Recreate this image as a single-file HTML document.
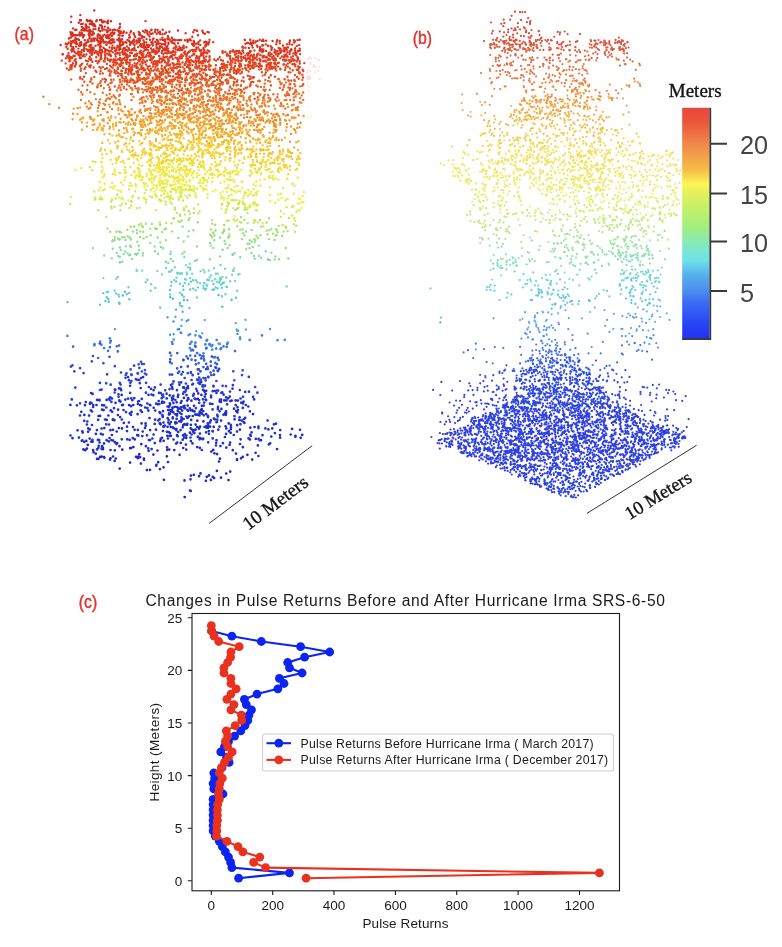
<!DOCTYPE html><html><head><meta charset="utf-8"><title>Figure</title><style>html,body{margin:0;padding:0;background:#fff}body{width:782px;height:947px;overflow:hidden;font-family:"Liberation Sans",sans-serif}</style></head><body><svg width="782" height="947" viewBox="0 0 782 947" style="display:block;will-change:transform"><rect width="782" height="947" fill="#fff"/><g fill="none" stroke-linecap="round"><path d="M307.9 70.3h0M319.8 79.1h0M307.5 72.7h0M306.7 76.7h0M310.2 71.1h0M318.8 66.8h0M310.1 57.4h0M315.2 72.1h0M315.4 58.0h0M310.4 62.6h0M307.8 58.7h0M308.8 76.7h0M318.1 70.6h0M310.2 63.9h0M318.6 59.3h0M307.2 78.7h0M309.5 78.9h0M309.8 58.4h0M310.1 76.6h0M317.9 70.6h0M313.2 66.6h0M310.5 78.5h0M311.2 58.6h0M314.0 65.0h0M310.1 78.7h0M315.1 67.1h0M318.9 60.4h0M308.1 79.4h0" stroke="#f8e0e0" stroke-width="2.2"/><path d="M306.2 117.1h0M307.4 85.3h0M311.7 116.0h0M307.6 90.5h0M310.2 117.6h0M307.4 81.9h0M307.8 107.3h0M307.5 118.4h0M308.6 90.9h0M309.0 86.9h0" stroke="#fff0e8" stroke-width="2.2"/></g><g fill="none" stroke-linecap="round"><path d="M71.3 16.6h0M71.0 22.1h0M76.4 29.7h0M78.8 22.8h0M80.4 20.3h0M82.9 28.1h0M89.0 27.4h0M85.8 29.0h0M82.7 23.8h0M95.2 26.2h0M90.4 20.4h0M89.7 21.3h0M96.2 21.3h0M101.3 25.5h0M103.6 21.5h0M110.2 29.8h0M102.1 21.8h0M104.8 21.6h0M75.9 39.3h0M75.2 29.9h0M73.2 35.2h0M77.9 35.1h0M76.2 35.1h0M94.0 33.4h0M92.7 32.3h0M89.7 33.7h0M92.9 32.2h0M106.3 37.5h0M108.3 31.2h0M107.0 32.1h0M107.6 35.0h0M119.7 35.5h0M126.5 32.7h0M160.0 33.0h0M164.7 33.7h0M162.6 29.7h0M81.2 42.7h0M155.3 42.0h0M175.5 40.2h0M194.5 30.0h0M198.0 35.3h0M197.1 31.0h0M204.8 33.7h0" stroke="#d82820" stroke-width="2.4"/><path d="M80.3 15.1h0M94.3 10.4h0M80.0 20.2h0M85.9 26.5h0M81.9 26.9h0M85.8 25.3h0M87.7 21.3h0M86.7 20.3h0M86.8 19.9h0M80.9 20.3h0M87.8 21.1h0M92.7 24.1h0M91.6 22.2h0M92.2 24.8h0M89.7 24.1h0M99.0 28.2h0M91.9 21.4h0M92.4 23.4h0M107.1 22.5h0M108.0 23.2h0M107.5 22.1h0M100.0 20.0h0M102.7 22.4h0M104.4 29.6h0M104.8 26.6h0M108.2 20.6h0M108.0 27.7h0M120.0 23.9h0M111.0 21.3h0M79.7 32.5h0M89.8 33.9h0M139.8 32.9h0M169.4 31.7h0M160.0 32.2h0M202.4 30.8h0" stroke="#d02820" stroke-width="2.4"/><path d="M73.0 28.4h0M85.9 24.5h0M81.0 24.1h0M86.8 27.8h0M86.0 25.8h0M84.5 28.6h0M87.1 26.6h0M88.9 20.6h0M95.5 29.1h0M93.5 29.1h0M93.6 25.7h0M96.9 20.3h0M93.9 23.9h0M90.8 23.6h0M98.7 30.2h0M94.6 24.8h0M102.5 28.5h0M101.4 19.9h0M100.0 25.3h0M102.1 28.3h0M108.2 28.4h0M101.9 26.3h0M114.0 29.7h0M119.3 28.2h0M120.1 26.7h0M145.5 21.1h0M155.3 29.6h0M68.9 38.5h0M72.2 35.9h0M72.4 34.1h0M73.5 34.6h0M75.0 35.3h0M69.7 38.2h0M71.5 34.7h0M75.6 38.0h0M72.3 32.6h0M79.4 34.4h0M74.5 35.4h0M74.8 39.7h0M75.6 39.7h0M71.0 34.4h0M70.5 32.3h0M78.0 39.2h0M71.3 37.3h0M79.1 40.0h0M88.5 31.4h0M84.3 35.2h0M83.1 37.4h0M79.9 35.6h0M83.2 36.3h0M85.1 30.4h0M90.0 30.8h0M82.5 30.1h0M81.1 34.2h0M89.4 38.4h0M89.4 35.7h0M87.1 30.6h0M84.2 30.5h0M89.6 36.4h0M88.8 30.4h0M88.8 34.5h0M89.5 32.5h0M81.1 35.3h0M81.4 30.2h0M81.8 33.0h0M82.8 35.0h0M81.6 33.4h0M97.5 35.5h0M91.7 34.7h0M98.4 34.3h0M94.9 38.5h0M97.0 40.1h0M93.3 38.5h0M90.3 31.1h0M92.4 31.4h0M90.6 38.6h0M92.8 34.6h0M92.5 39.9h0M100.0 35.5h0M91.8 35.1h0M89.8 32.5h0M90.1 29.9h0M97.7 36.7h0M97.3 39.0h0M100.1 31.3h0M106.5 30.2h0M108.6 38.2h0M108.5 35.9h0M100.0 31.1h0M108.6 35.6h0M106.4 36.3h0M99.7 38.2h0M100.4 37.5h0M102.4 30.5h0M110.0 34.9h0M106.9 37.8h0M106.2 36.5h0M102.4 37.6h0M102.9 35.7h0M102.5 36.8h0M107.0 36.9h0M104.6 34.6h0M101.0 39.2h0M118.4 40.0h0M111.9 39.7h0M111.9 35.9h0M119.8 31.1h0M118.4 35.1h0M112.2 39.2h0M114.9 30.0h0M114.5 32.9h0M111.2 33.3h0M118.6 31.0h0M119.3 32.8h0M113.6 33.9h0M113.5 34.2h0M112.6 30.2h0M112.3 32.5h0M113.7 39.8h0M119.1 38.3h0M117.3 30.2h0M120.2 39.5h0M123.3 32.9h0M127.5 40.0h0M122.9 35.6h0M123.9 31.5h0M129.3 35.0h0M122.0 39.3h0M121.2 31.7h0M120.7 33.3h0M122.4 35.7h0M129.1 37.6h0M133.7 33.3h0M130.4 32.6h0M135.0 36.4h0M138.8 32.0h0M133.9 34.4h0M139.8 38.7h0M130.0 37.2h0M139.2 34.7h0M133.9 39.5h0M138.5 38.8h0M130.9 31.3h0M135.2 36.9h0M147.8 34.5h0M145.5 30.1h0M149.5 36.5h0M142.9 31.1h0M147.1 30.9h0M140.4 35.3h0M142.1 36.1h0M146.5 39.1h0M144.7 32.2h0M139.9 35.0h0M142.4 36.8h0M149.5 32.1h0M144.2 36.9h0M141.8 38.1h0M158.4 32.1h0M155.0 31.7h0M156.8 39.8h0M151.3 33.9h0M150.3 33.9h0M157.5 40.3h0M159.6 33.2h0M157.6 30.0h0M156.7 33.7h0M151.5 29.7h0M152.7 33.4h0M159.9 31.9h0M153.5 38.4h0M160.0 34.1h0M168.3 37.8h0M160.4 39.5h0M162.4 37.6h0M162.6 39.9h0M166.2 32.5h0M167.7 39.4h0M164.7 39.8h0M162.4 34.3h0M164.9 39.5h0M167.9 36.1h0M178.0 30.5h0M171.8 37.7h0M185.6 33.2h0M190.1 39.1h0M60.7 45.0h0M67.2 44.4h0M67.6 48.7h0M68.6 42.8h0M65.7 43.7h0M72.3 41.3h0M79.1 45.8h0M72.2 48.3h0M70.8 44.7h0M72.8 41.0h0M71.7 50.0h0M73.6 48.9h0M74.5 42.5h0M70.8 46.0h0M76.3 42.0h0M71.9 42.4h0M76.1 46.6h0M71.7 43.0h0M70.8 43.9h0M70.7 41.4h0M77.1 44.0h0M75.7 43.5h0M84.0 49.1h0M79.9 45.5h0M80.9 44.9h0M84.8 40.3h0M89.3 46.3h0M88.4 41.4h0M84.0 48.7h0M88.5 41.6h0M81.0 42.3h0M80.1 45.7h0M87.7 40.1h0M86.1 45.5h0M86.3 42.9h0M94.3 40.7h0M90.3 45.0h0M93.4 47.7h0M91.4 49.2h0M99.5 41.9h0M99.2 41.5h0M98.0 40.9h0M93.5 49.0h0M100.2 46.4h0M103.5 47.8h0M104.4 41.6h0M108.4 42.4h0M106.5 50.1h0M103.0 39.7h0M100.1 41.3h0M105.1 49.2h0M101.1 42.1h0M99.7 43.5h0M100.8 43.5h0M104.0 42.5h0M99.8 46.5h0M106.5 44.4h0M109.7 41.2h0M111.6 43.0h0M117.3 39.8h0M114.6 47.6h0M114.5 42.1h0M110.1 43.3h0M112.5 45.6h0M114.3 48.1h0M119.7 47.6h0M119.3 46.4h0M120.1 44.7h0M117.4 45.7h0M113.0 41.9h0M119.4 41.2h0M110.0 40.8h0M111.2 40.0h0M127.0 46.4h0M120.4 46.0h0M120.4 48.9h0M120.9 40.1h0M128.7 48.3h0M126.4 42.7h0M120.8 40.7h0M123.1 44.2h0M119.9 42.4h0M120.0 44.1h0M124.3 47.9h0M128.8 40.7h0M119.7 41.8h0M121.7 44.9h0M122.7 42.0h0M136.4 40.6h0M133.5 44.0h0M132.5 49.3h0M139.1 42.2h0M134.6 45.3h0M136.6 43.4h0M133.2 41.3h0M137.6 41.5h0M134.4 47.9h0M134.6 49.1h0M132.2 41.7h0M131.4 42.3h0M139.9 40.8h0M134.3 41.8h0M136.5 40.8h0M147.1 45.0h0M141.2 46.1h0M145.8 47.6h0M144.2 42.1h0M147.9 47.1h0M148.7 46.9h0M143.0 46.4h0M140.7 44.1h0M146.4 42.4h0M144.2 44.5h0M146.9 49.6h0M144.9 50.0h0M140.8 45.8h0M145.1 46.5h0M148.5 45.2h0M157.1 43.4h0M152.5 42.1h0M158.2 43.9h0M156.4 44.7h0M159.9 43.4h0M152.8 45.5h0M151.0 48.5h0M152.4 44.2h0M157.4 42.7h0M152.3 42.9h0M158.5 49.3h0M158.0 41.2h0M149.9 39.8h0M159.8 46.7h0M151.2 42.2h0M166.1 48.0h0M168.1 48.6h0M161.8 47.0h0M164.3 49.1h0M165.6 42.5h0M164.9 40.3h0M164.7 41.2h0M159.8 48.6h0M163.7 44.1h0M166.5 46.4h0M160.0 46.2h0M163.2 50.1h0M165.1 44.8h0M167.3 46.3h0M163.3 48.8h0M161.9 44.3h0M168.5 42.8h0M168.5 44.0h0M178.1 43.2h0M178.0 40.1h0M172.9 39.8h0M178.1 49.3h0M176.3 47.1h0M172.4 42.9h0M174.2 43.1h0M179.6 40.3h0M174.4 39.8h0M172.0 41.3h0M169.9 39.8h0M180.6 48.9h0M181.1 39.9h0M187.5 41.7h0M180.2 47.9h0M187.4 40.6h0M186.4 47.2h0M188.4 40.5h0M183.6 45.8h0M183.6 46.5h0M183.8 48.0h0M68.5 53.2h0M68.5 56.1h0M73.4 50.6h0M79.6 52.2h0M74.6 51.9h0M77.9 52.2h0M72.4 50.1h0M89.9 52.4h0M80.1 52.4h0M90.1 50.3h0M92.4 51.8h0M91.2 49.7h0M90.5 50.6h0M92.6 51.9h0M91.8 50.4h0M106.0 49.7h0M104.9 55.1h0M101.8 49.9h0M108.8 51.3h0M109.6 53.8h0M110.3 55.2h0M115.3 50.4h0M119.1 50.1h0M127.2 54.6h0M122.3 52.0h0M124.4 50.4h0M125.2 57.5h0M127.6 57.8h0M129.9 55.8h0M123.7 54.5h0M139.9 51.9h0M139.5 57.9h0M140.3 53.3h0M147.0 49.7h0M152.3 51.5h0M158.6 51.1h0M153.4 57.4h0M158.9 51.0h0M167.3 52.7h0M163.7 50.1h0M172.2 52.3h0M187.6 53.2h0M184.2 52.7h0M76.2 62.8h0M126.1 60.5h0M150.1 60.0h0M164.5 60.6h0M196.8 30.6h0M192.3 36.7h0M193.3 32.3h0M207.5 32.0h0M203.1 32.7h0M209.5 39.7h0M208.8 32.4h0M193.7 41.0h0M193.0 45.2h0M192.8 44.4h0M198.4 43.7h0M198.5 42.0h0M194.1 41.8h0M196.4 43.6h0M190.8 40.4h0M194.1 43.4h0M204.2 42.4h0M205.7 41.9h0M209.1 42.2h0M205.4 45.3h0M200.2 40.4h0M203.7 49.4h0M206.6 42.1h0M206.3 42.7h0M204.4 42.2h0M207.3 43.4h0M206.6 43.9h0M205.3 46.5h0M213.2 42.1h0M248.9 48.0h0M247.3 42.9h0M243.4 47.8h0M250.1 43.7h0M250.2 39.8h0M245.5 43.8h0M247.9 43.0h0M244.9 40.1h0M244.7 39.7h0M257.5 46.8h0M251.9 45.4h0M251.8 43.0h0M253.3 40.7h0M257.5 40.9h0M250.7 42.4h0M252.7 47.6h0M257.1 45.6h0M253.2 43.1h0M263.0 39.8h0M261.9 40.9h0M263.6 41.0h0M262.9 45.3h0M263.3 49.4h0M268.1 45.7h0M260.1 47.1h0M276.8 41.7h0M277.2 40.1h0M272.6 40.9h0M272.0 47.8h0M274.7 49.6h0M289.9 40.8h0M288.0 47.4h0M280.2 49.6h0M289.8 40.6h0M287.2 47.4h0M289.5 44.3h0M289.5 42.6h0M291.3 49.2h0M299.7 39.7h0M294.1 40.3h0M297.5 40.1h0M294.9 41.2h0M292.2 44.6h0M299.1 45.1h0M196.7 55.9h0M194.2 54.2h0M192.2 49.9h0M208.8 50.9h0M201.2 50.3h0M201.5 52.9h0M205.2 52.4h0M236.6 50.9h0M232.3 51.4h0M235.1 51.6h0M241.0 53.8h0M249.0 53.1h0M243.4 57.1h0M242.9 50.6h0M259.6 50.2h0M252.9 57.5h0M255.7 58.2h0M263.4 51.0h0M260.9 49.8h0M278.6 54.0h0M271.5 49.8h0M283.6 51.1h0M284.7 54.7h0M287.5 52.3h0M283.8 59.7h0M280.4 52.9h0M295.3 54.2h0M296.4 53.0h0M289.7 54.1h0M298.1 51.0h0M295.2 52.2h0M297.9 58.2h0M255.2 62.7h0" stroke="#d83020" stroke-width="2.4"/><path d="M93.0 33.5h0M101.9 37.5h0M109.7 37.7h0M112.7 39.6h0M147.2 33.0h0M152.8 39.8h0M151.2 30.2h0M167.5 38.4h0M80.2 45.1h0M78.4 48.6h0M73.2 46.9h0M79.8 43.0h0M80.3 43.6h0M84.2 48.4h0M83.6 45.0h0M88.2 49.9h0M85.2 43.8h0M84.2 46.7h0M92.2 47.8h0M98.0 44.6h0M90.8 41.1h0M90.1 46.4h0M90.6 47.5h0M98.3 41.8h0M99.8 49.4h0M91.5 48.1h0M93.1 40.1h0M91.6 41.4h0M95.6 45.8h0M108.2 42.5h0M105.9 41.9h0M109.6 47.5h0M99.8 45.5h0M119.1 48.0h0M116.5 49.9h0M112.2 47.6h0M129.9 45.0h0M125.4 42.0h0M124.9 48.1h0M138.1 47.1h0M130.0 41.9h0M138.6 41.3h0M131.4 43.2h0M131.7 50.0h0M130.1 43.9h0M141.6 46.6h0M142.6 43.9h0M156.5 48.4h0M156.5 46.7h0M153.5 49.5h0M165.4 48.8h0M166.8 48.6h0M165.1 50.0h0M176.0 46.9h0M179.4 46.7h0M173.6 48.4h0M175.7 40.1h0M187.3 39.8h0M67.0 56.1h0M70.6 58.2h0M79.1 55.2h0M73.5 55.7h0M78.9 54.9h0M87.7 50.8h0M89.1 51.2h0M86.4 54.5h0M91.5 54.9h0M94.8 52.7h0M97.4 52.8h0M98.3 53.3h0M101.4 53.6h0M105.2 51.0h0M107.2 53.7h0M116.9 52.6h0M115.2 54.3h0M119.8 52.7h0M111.0 51.1h0M115.7 56.6h0M124.7 53.0h0M125.9 49.8h0M123.3 53.4h0M125.6 53.8h0M135.2 55.2h0M137.0 53.8h0M131.5 53.1h0M131.4 52.8h0M141.8 55.0h0M143.5 51.5h0M149.9 54.4h0M142.9 56.1h0M155.7 50.9h0M155.4 53.8h0M155.1 52.1h0M153.8 56.7h0M153.8 50.6h0M168.8 51.1h0M163.4 54.1h0M162.3 58.7h0M166.1 50.2h0M170.3 57.1h0M177.8 50.2h0M173.0 51.1h0M171.2 55.7h0M171.5 56.8h0M170.9 52.8h0M185.0 51.4h0M186.7 55.2h0M98.5 61.0h0M92.4 61.7h0M116.9 62.9h0M142.7 63.2h0M168.9 60.2h0M173.4 63.8h0M173.7 65.3h0M176.0 64.6h0M188.2 66.0h0M194.3 50.2h0M194.8 43.8h0M194.4 50.1h0M206.0 45.5h0M203.4 48.0h0M208.4 42.9h0M208.3 44.5h0M242.4 46.8h0M255.8 41.5h0M265.8 44.4h0M261.1 49.1h0M262.2 45.4h0M276.3 44.2h0M270.7 46.3h0M279.8 43.3h0M279.7 40.9h0M278.7 47.9h0M280.5 48.8h0M286.0 48.3h0M291.1 50.2h0M296.7 45.9h0M299.8 48.6h0M295.1 50.2h0M196.6 58.0h0M195.8 51.1h0M193.9 54.5h0M204.7 59.2h0M207.3 53.2h0M202.5 54.3h0M203.9 57.8h0M227.1 54.6h0M230.2 51.4h0M233.3 50.2h0M236.6 53.5h0M248.1 54.0h0M242.4 50.7h0M247.0 53.6h0M248.3 53.3h0M253.9 54.8h0M254.9 58.2h0M250.2 51.0h0M259.3 58.6h0M260.5 51.0h0M262.9 56.8h0M267.0 57.3h0M262.7 50.1h0M262.9 51.6h0M279.5 50.5h0M275.3 52.6h0M271.7 54.1h0M277.3 51.1h0M284.0 57.1h0M286.8 49.7h0M284.3 50.0h0M297.5 57.1h0M298.8 51.0h0M297.9 59.5h0M299.9 50.6h0M283.2 59.8h0M291.2 61.3h0" stroke="#d83820" stroke-width="2.4"/><path d="M109.9 34.6h0M66.3 46.8h0M75.5 40.4h0M87.4 41.9h0M89.7 50.0h0M84.4 44.3h0M106.3 44.7h0M102.3 41.3h0M100.7 46.5h0M104.0 42.2h0M117.6 47.1h0M112.0 49.0h0M113.2 42.2h0M118.6 47.1h0M123.6 48.4h0M129.4 49.7h0M123.6 43.1h0M133.8 50.1h0M144.0 47.6h0M140.1 45.5h0M149.7 45.2h0M141.9 47.0h0M143.5 40.3h0M157.9 48.3h0M152.5 43.7h0M157.9 43.4h0M158.1 41.5h0M165.3 47.9h0M175.9 46.4h0M170.8 41.6h0M179.6 50.1h0M174.7 44.1h0M182.4 49.9h0M183.0 47.4h0M184.9 40.3h0M181.2 48.2h0M68.0 55.7h0M62.5 54.2h0M68.5 58.3h0M68.9 55.8h0M71.8 57.7h0M71.3 50.2h0M76.0 53.4h0M78.0 54.2h0M71.8 51.6h0M83.9 51.0h0M89.8 56.8h0M80.2 58.0h0M82.9 56.0h0M81.8 50.1h0M89.6 58.9h0M92.5 54.1h0M90.3 59.2h0M90.7 52.8h0M100.1 49.9h0M95.8 51.2h0M97.5 54.0h0M102.5 51.7h0M102.1 51.6h0M100.8 52.4h0M100.7 57.1h0M105.2 57.1h0M101.0 54.9h0M101.4 58.5h0M117.9 53.3h0M109.9 51.2h0M118.3 59.1h0M115.4 59.5h0M119.8 55.1h0M130.2 52.8h0M120.4 58.9h0M127.5 50.9h0M125.9 55.0h0M122.8 53.8h0M135.7 55.0h0M134.4 56.3h0M140.1 58.5h0M139.2 57.0h0M135.1 55.1h0M148.0 53.0h0M146.6 55.3h0M150.3 55.8h0M140.8 50.8h0M143.4 54.5h0M140.2 59.6h0M143.8 57.3h0M153.4 52.3h0M152.2 50.1h0M158.2 51.4h0M157.2 52.5h0M159.2 55.9h0M156.1 52.0h0M152.6 57.9h0M151.6 58.7h0M162.1 51.0h0M167.3 50.1h0M161.8 52.9h0M165.7 57.3h0M160.2 58.8h0M168.1 51.9h0M177.5 58.5h0M174.1 51.8h0M172.9 59.1h0M177.8 58.5h0M170.3 52.7h0M171.8 57.1h0M173.1 54.7h0M173.5 51.5h0M187.3 60.1h0M184.9 54.3h0M186.5 56.4h0M189.6 56.6h0M181.2 50.0h0M189.5 51.5h0M181.7 58.4h0M61.8 60.6h0M74.4 60.6h0M98.9 61.5h0M116.2 60.5h0M110.2 61.5h0M113.4 59.8h0M116.4 63.5h0M114.0 60.3h0M118.9 64.5h0M129.6 63.3h0M123.5 67.9h0M130.2 60.3h0M136.6 67.9h0M138.9 60.3h0M146.0 64.5h0M154.9 61.1h0M167.2 63.9h0M169.5 65.3h0M179.1 64.4h0M188.9 61.2h0M196.4 47.5h0M199.3 49.5h0M192.0 43.7h0M200.2 44.9h0M205.7 41.7h0M255.2 42.6h0M259.8 39.8h0M260.0 48.6h0M266.1 40.7h0M271.5 48.1h0M279.9 49.1h0M284.7 48.3h0M282.9 45.5h0M294.2 42.5h0M193.0 51.0h0M194.1 50.1h0M199.0 57.1h0M197.4 57.7h0M200.1 51.0h0M199.5 56.6h0M194.2 53.6h0M189.9 57.3h0M203.8 52.2h0M207.5 50.4h0M203.1 54.4h0M209.7 59.8h0M206.3 56.5h0M201.0 55.6h0M205.9 52.6h0M209.3 51.5h0M202.0 53.2h0M222.6 51.1h0M225.3 51.9h0M219.7 57.2h0M222.5 51.9h0M228.4 55.5h0M238.1 58.1h0M240.1 52.4h0M239.1 52.8h0M236.5 56.9h0M230.2 56.2h0M239.0 50.9h0M230.1 58.5h0M241.3 56.7h0M244.0 58.2h0M249.5 57.8h0M245.4 58.0h0M241.2 57.8h0M249.8 52.2h0M255.3 57.9h0M249.8 59.2h0M257.3 54.9h0M253.3 57.3h0M250.5 55.7h0M254.4 50.5h0M253.0 56.1h0M260.3 55.3h0M262.9 57.5h0M266.0 50.9h0M269.9 55.9h0M265.5 57.5h0M272.4 58.4h0M273.6 55.9h0M272.2 57.2h0M277.1 53.4h0M277.7 56.0h0M274.3 52.2h0M280.8 52.1h0M284.7 51.4h0M287.6 56.8h0M287.0 56.2h0M289.2 60.2h0M282.1 56.4h0M283.4 60.1h0M296.3 55.4h0M293.1 59.1h0M292.9 56.2h0M298.3 50.9h0M291.2 50.1h0M293.3 53.4h0M300.1 54.1h0M195.8 64.0h0M196.3 62.1h0M190.3 62.9h0M199.7 62.2h0M203.7 60.8h0M205.4 61.5h0M200.6 62.0h0M220.2 67.9h0M227.8 62.0h0M230.9 69.1h0M233.5 68.3h0M238.8 61.3h0M239.5 70.1h0M249.5 62.1h0M246.2 59.8h0M258.8 63.6h0M255.1 63.0h0M252.8 62.4h0M260.6 60.0h0M266.6 65.0h0M260.2 61.0h0M275.0 62.4h0M299.7 67.3h0M299.8 63.5h0M294.1 64.0h0" stroke="#e03820" stroke-width="2.4"/><path d="M86.5 49.3h0M93.7 49.8h0M100.3 47.5h0M91.2 45.0h0M100.2 45.3h0M116.5 48.3h0M127.8 50.1h0M122.5 49.7h0M133.9 49.1h0M143.9 47.8h0M176.2 46.7h0M174.6 47.8h0M175.8 49.4h0M70.0 57.2h0M63.0 54.2h0M69.2 58.3h0M65.9 58.3h0M72.4 57.7h0M74.8 55.9h0M71.6 57.1h0M80.3 53.7h0M78.0 51.4h0M70.1 60.2h0M79.7 57.8h0M75.6 58.9h0M83.9 54.5h0M81.0 54.8h0M81.5 52.2h0M79.8 57.3h0M89.5 58.6h0M81.2 52.0h0M91.2 58.9h0M98.6 53.2h0M98.5 55.3h0M99.4 52.0h0M97.2 51.8h0M96.2 57.2h0M104.8 58.9h0M107.3 58.4h0M107.7 50.3h0M100.8 58.9h0M105.0 52.7h0M101.2 56.0h0M113.9 59.7h0M114.3 60.1h0M118.2 59.4h0M119.9 59.6h0M116.4 53.6h0M120.0 57.9h0M111.0 56.0h0M115.4 51.3h0M112.8 52.3h0M110.6 55.5h0M123.4 58.8h0M124.9 52.7h0M122.1 59.9h0M126.9 56.2h0M127.2 59.4h0M129.0 56.1h0M135.0 54.4h0M131.7 52.9h0M135.9 50.6h0M139.5 53.1h0M134.2 59.4h0M133.4 59.7h0M136.9 55.3h0M133.9 55.7h0M135.8 59.0h0M138.4 60.2h0M136.4 56.1h0M150.2 56.4h0M141.4 57.8h0M148.4 56.2h0M148.2 50.4h0M143.1 57.3h0M149.3 55.9h0M149.1 55.9h0M148.8 53.0h0M149.9 55.0h0M142.0 53.0h0M153.5 51.7h0M151.0 58.5h0M156.7 53.3h0M150.7 52.6h0M150.9 55.7h0M165.0 52.8h0M166.9 56.7h0M163.4 56.4h0M169.4 57.5h0M167.0 53.4h0M159.7 58.5h0M169.4 57.6h0M163.9 57.6h0M168.5 52.7h0M179.6 57.0h0M174.2 55.1h0M177.1 58.2h0M180.0 56.5h0M175.5 52.3h0M175.2 54.4h0M180.2 57.7h0M187.9 58.6h0M186.5 58.7h0M185.5 53.6h0M188.5 52.2h0M186.4 58.4h0M187.2 59.3h0M182.9 55.9h0M181.4 54.4h0M190.0 50.7h0M181.7 57.4h0M179.7 58.6h0M69.3 61.4h0M70.3 66.9h0M74.8 66.6h0M72.9 63.3h0M71.7 66.9h0M75.9 64.1h0M75.3 65.7h0M75.5 60.9h0M70.7 65.3h0M72.4 64.9h0M80.9 65.1h0M85.9 60.6h0M90.2 67.3h0M80.8 68.5h0M87.9 61.2h0M82.2 63.6h0M97.6 63.3h0M90.2 66.1h0M90.8 65.5h0M99.5 66.9h0M95.9 60.9h0M107.0 68.3h0M109.8 59.8h0M108.2 60.1h0M104.7 61.4h0M113.5 64.7h0M120.2 60.2h0M111.2 66.8h0M110.1 65.6h0M117.8 67.5h0M113.4 65.5h0M113.6 62.3h0M111.1 59.8h0M121.5 60.4h0M122.9 63.0h0M129.2 62.6h0M121.4 62.5h0M127.2 62.0h0M126.6 61.8h0M128.3 69.0h0M123.2 67.6h0M126.6 64.0h0M120.3 64.1h0M120.2 66.3h0M137.4 63.2h0M130.7 68.3h0M136.7 66.1h0M137.8 67.9h0M129.8 64.7h0M130.7 60.0h0M131.6 69.7h0M135.0 66.4h0M139.3 60.8h0M136.5 64.0h0M149.7 66.3h0M142.1 62.4h0M147.7 66.5h0M147.7 68.4h0M141.9 69.1h0M148.9 70.2h0M146.9 60.7h0M143.3 69.4h0M145.1 62.2h0M159.0 61.0h0M157.0 61.3h0M157.5 62.6h0M151.6 62.5h0M155.1 64.0h0M156.6 65.5h0M157.3 63.9h0M153.8 64.0h0M159.5 62.4h0M156.2 63.7h0M155.5 63.0h0M166.9 63.1h0M166.4 65.5h0M164.7 67.3h0M162.0 61.2h0M168.3 62.2h0M161.5 68.4h0M166.9 63.6h0M165.2 62.2h0M163.7 59.9h0M172.6 63.1h0M174.2 68.1h0M170.2 64.4h0M173.6 67.3h0M171.7 70.0h0M177.2 63.6h0M170.5 67.7h0M177.7 60.0h0M177.9 61.0h0M178.4 60.8h0M170.6 67.7h0M176.9 67.2h0M180.3 67.0h0M182.6 62.5h0M188.8 62.4h0M185.4 63.7h0M184.6 64.9h0M188.2 61.8h0M185.4 64.0h0M185.7 63.1h0M180.3 64.3h0M188.8 60.5h0M188.2 65.0h0M186.8 66.9h0M84.1 76.7h0M95.5 70.7h0M109.7 75.3h0M109.6 70.7h0M100.6 71.2h0M109.5 70.0h0M114.6 70.1h0M115.8 73.4h0M121.3 70.7h0M129.0 70.9h0M130.1 70.1h0M128.3 73.3h0M131.3 73.3h0M138.1 74.8h0M136.4 71.8h0M138.0 70.7h0M138.2 76.0h0M132.9 79.9h0M144.0 70.6h0M145.3 69.7h0M153.4 70.8h0M156.8 70.5h0M157.4 77.6h0M162.6 71.4h0M160.8 72.5h0M161.9 79.3h0M167.7 72.6h0M177.6 73.3h0M178.9 75.3h0M173.3 70.4h0M178.6 71.3h0M179.0 71.1h0M185.9 73.9h0M184.8 71.1h0M183.3 71.7h0M137.8 81.3h0M150.7 82.0h0M194.8 49.9h0M196.5 48.9h0M194.1 50.2h0M198.2 47.4h0M194.1 45.8h0M204.4 50.1h0M242.9 47.4h0M245.5 47.7h0M284.1 47.7h0M286.9 44.2h0M295.1 48.2h0M191.9 55.6h0M196.0 57.9h0M198.4 58.2h0M197.4 57.6h0M193.5 53.8h0M199.0 59.7h0M193.1 50.3h0M199.2 58.6h0M197.1 58.1h0M206.0 60.1h0M209.6 56.2h0M204.2 52.3h0M209.5 57.4h0M203.3 55.8h0M200.9 54.1h0M217.9 59.3h0M214.2 59.5h0M226.9 55.5h0M222.8 52.7h0M238.4 55.9h0M234.3 52.3h0M238.2 60.1h0M230.6 60.1h0M234.3 59.6h0M235.1 54.7h0M235.6 57.4h0M229.9 53.1h0M238.0 51.1h0M232.8 58.7h0M241.4 54.0h0M240.6 53.2h0M240.8 57.2h0M248.1 58.1h0M248.5 54.6h0M247.6 59.1h0M247.8 55.6h0M243.5 52.6h0M245.3 55.6h0M250.8 51.2h0M256.8 56.5h0M251.4 55.3h0M252.6 59.9h0M257.0 54.5h0M258.4 53.7h0M262.0 52.1h0M264.6 56.2h0M268.4 54.9h0M267.5 60.1h0M268.6 53.3h0M270.1 59.6h0M270.3 55.4h0M262.5 55.6h0M269.9 54.1h0M280.3 58.2h0M275.2 60.1h0M275.6 58.7h0M275.8 51.3h0M276.0 54.2h0M275.9 60.1h0M284.4 60.2h0M281.7 50.8h0M286.3 54.5h0M284.6 55.5h0M284.3 56.6h0M286.4 59.6h0M285.3 56.4h0M289.7 52.3h0M292.5 59.5h0M290.9 57.4h0M289.8 50.7h0M193.3 70.2h0M195.2 67.8h0M195.7 60.5h0M191.0 60.2h0M197.3 67.5h0M197.4 68.5h0M192.6 61.3h0M192.5 65.1h0M199.3 65.8h0M189.7 70.1h0M198.1 61.0h0M196.7 61.1h0M193.8 61.9h0M202.5 62.3h0M206.4 66.3h0M203.7 69.6h0M202.5 65.8h0M208.1 61.7h0M202.3 61.3h0M210.7 65.7h0M216.1 60.6h0M215.9 65.3h0M213.3 69.7h0M222.2 68.0h0M222.0 67.2h0M226.8 65.0h0M229.7 64.4h0M224.7 65.3h0M223.0 60.8h0M221.5 64.4h0M223.4 65.0h0M221.1 59.9h0M221.9 63.6h0M220.1 69.9h0M239.4 63.6h0M238.1 60.5h0M234.1 68.0h0M234.8 62.4h0M239.0 65.8h0M230.8 62.5h0M239.5 67.4h0M236.0 60.2h0M232.2 61.2h0M235.1 65.9h0M230.4 63.8h0M240.8 64.5h0M250.1 59.8h0M246.2 60.7h0M249.0 62.1h0M240.5 63.8h0M250.0 63.5h0M245.2 65.4h0M240.7 65.8h0M241.0 60.8h0M250.0 62.5h0M247.9 65.2h0M252.2 65.7h0M251.6 65.9h0M257.3 59.9h0M254.7 66.4h0M255.0 63.5h0M252.3 60.5h0M258.8 66.9h0M253.3 64.4h0M253.6 68.0h0M252.4 60.0h0M259.4 64.7h0M261.8 66.3h0M260.4 65.6h0M265.8 61.6h0M263.2 61.3h0M266.7 66.6h0M264.9 60.6h0M270.1 65.4h0M269.3 64.9h0M277.9 62.9h0M270.2 67.2h0M276.3 64.8h0M271.6 67.1h0M275.1 67.2h0M274.9 63.8h0M273.4 60.1h0M280.3 69.3h0M278.8 62.7h0M278.2 66.6h0M272.5 68.5h0M274.1 63.5h0M270.5 69.0h0M275.5 69.0h0M270.4 63.5h0M272.1 66.8h0M285.2 60.8h0M287.8 63.6h0M283.8 64.2h0M288.0 66.6h0M280.5 69.2h0M286.4 60.4h0M298.2 66.4h0M296.8 61.6h0M293.2 60.5h0M295.3 64.8h0M294.3 60.3h0M299.6 61.2h0M296.6 61.2h0M292.5 64.2h0M304.3 63.1h0M192.8 74.5h0M203.4 72.7h0M205.7 69.9h0M199.9 71.4h0M212.8 76.9h0M219.8 73.3h0M214.5 73.9h0M218.1 76.6h0M210.0 69.8h0M223.4 70.7h0M236.0 70.9h0M233.0 77.6h0M236.1 71.6h0M236.3 73.7h0M238.6 71.4h0M243.4 77.5h0M249.9 76.4h0M267.6 70.5h0M298.9 72.4h0M299.6 73.6h0M303.3 71.1h0M198.1 83.0h0M303.3 84.2h0" stroke="#e04020" stroke-width="2.4"/><path d="M68.3 57.0h0M89.7 59.3h0M90.2 52.1h0M89.3 58.6h0M81.2 57.7h0M84.8 56.4h0M90.9 60.1h0M108.9 54.9h0M105.3 55.4h0M121.0 58.9h0M145.9 56.8h0M151.9 59.8h0M167.9 59.1h0M161.6 58.6h0M175.5 57.8h0M181.7 55.5h0M66.8 68.5h0M65.7 63.4h0M71.6 69.1h0M84.4 68.9h0M85.5 67.3h0M89.9 65.7h0M79.9 66.0h0M87.2 64.2h0M89.1 66.3h0M100.9 68.2h0M103.7 61.2h0M105.0 69.0h0M113.2 62.0h0M115.8 63.2h0M115.0 62.5h0M117.9 68.9h0M120.2 64.8h0M129.5 65.9h0M125.9 70.2h0M120.4 64.8h0M126.1 68.9h0M121.7 65.4h0M129.0 66.5h0M126.0 62.4h0M124.6 59.8h0M131.2 67.8h0M135.9 65.6h0M132.6 65.2h0M135.0 65.6h0M131.6 67.5h0M139.5 61.4h0M132.3 70.1h0M134.6 63.1h0M142.2 61.9h0M141.4 68.8h0M141.4 66.9h0M143.5 68.0h0M141.3 67.5h0M142.2 68.1h0M157.5 65.0h0M155.0 69.4h0M155.6 63.5h0M153.1 64.1h0M150.9 68.6h0M153.1 66.5h0M157.6 68.7h0M166.0 70.2h0M167.6 63.7h0M168.5 69.2h0M168.4 61.0h0M161.3 62.4h0M168.2 65.2h0M164.8 68.2h0M161.8 65.7h0M178.8 61.8h0M174.1 64.7h0M178.4 66.8h0M177.5 64.0h0M175.6 67.9h0M190.3 68.4h0M188.8 65.6h0M185.1 64.2h0M188.9 68.2h0M189.4 65.6h0M184.4 69.0h0M186.0 61.6h0M80.3 77.1h0M91.3 79.4h0M96.5 72.1h0M102.8 73.4h0M104.8 78.9h0M106.0 80.0h0M114.5 72.3h0M118.0 72.9h0M116.6 71.1h0M121.4 75.4h0M121.8 74.0h0M121.9 71.0h0M119.9 79.7h0M125.8 72.2h0M122.3 76.1h0M134.1 74.0h0M130.6 72.3h0M131.2 71.8h0M137.6 78.5h0M131.8 74.6h0M143.9 78.0h0M146.6 78.6h0M146.1 74.5h0M146.2 79.2h0M150.2 71.7h0M155.6 78.8h0M159.9 73.5h0M156.7 76.4h0M159.9 77.2h0M168.1 73.4h0M167.5 71.5h0M163.0 70.3h0M163.1 74.3h0M163.0 71.3h0M165.6 76.8h0M166.4 72.5h0M168.5 75.7h0M173.0 76.5h0M180.0 76.4h0M173.9 79.7h0M179.3 71.1h0M175.8 74.0h0M175.0 79.2h0M177.2 77.2h0M170.4 76.1h0M178.4 72.6h0M188.2 73.5h0M188.6 73.1h0M186.4 73.3h0M180.0 77.9h0M180.0 75.0h0M190.2 70.5h0M97.4 87.3h0M90.2 81.6h0M110.5 83.1h0M124.7 81.2h0M127.6 80.1h0M130.5 80.3h0M137.8 79.8h0M159.9 81.4h0M162.6 79.8h0M185.2 80.0h0M226.9 53.7h0M241.8 59.9h0M254.0 55.6h0M253.4 60.0h0M268.5 59.9h0M269.0 58.7h0M269.8 52.4h0M275.8 59.6h0M274.6 58.1h0M270.0 55.4h0M272.4 58.3h0M284.1 59.9h0M294.3 60.2h0M290.4 60.1h0M197.6 67.1h0M199.1 63.0h0M198.9 66.4h0M196.5 65.9h0M189.9 64.9h0M203.5 63.1h0M199.9 68.6h0M209.2 64.5h0M209.1 61.0h0M205.0 65.6h0M206.3 66.8h0M199.9 68.6h0M201.5 63.4h0M206.5 66.5h0M205.3 68.7h0M209.1 66.7h0M215.4 68.6h0M229.9 70.0h0M227.2 67.4h0M230.2 70.3h0M225.6 70.0h0M223.1 67.6h0M224.9 68.1h0M223.9 63.8h0M225.8 69.9h0M226.5 66.0h0M223.7 66.5h0M234.9 70.1h0M231.3 65.0h0M238.8 69.8h0M231.2 67.3h0M235.4 63.0h0M237.6 69.3h0M245.2 68.0h0M248.5 67.0h0M246.4 70.0h0M247.8 64.7h0M250.3 66.0h0M241.1 66.2h0M246.3 68.8h0M249.2 65.7h0M252.1 66.6h0M252.4 68.1h0M255.5 63.5h0M260.2 66.5h0M252.1 67.8h0M256.9 65.9h0M256.5 65.8h0M259.7 63.4h0M269.5 67.8h0M260.1 64.5h0M269.3 65.5h0M268.3 63.3h0M261.2 68.9h0M269.8 66.2h0M267.2 64.6h0M274.2 67.3h0M274.8 66.7h0M270.4 62.6h0M270.6 64.9h0M271.1 63.0h0M275.5 67.7h0M285.0 69.8h0M288.8 60.4h0M283.6 64.7h0M285.6 67.5h0M298.8 68.0h0M292.8 70.2h0M294.4 64.6h0M302.7 69.8h0M196.6 74.2h0M190.6 70.9h0M196.1 76.7h0M196.2 76.3h0M201.9 76.6h0M200.5 74.9h0M205.6 74.2h0M206.1 75.6h0M201.8 70.1h0M210.2 76.7h0M214.7 72.0h0M215.9 72.0h0M217.1 71.5h0M217.2 79.8h0M214.6 70.7h0M219.1 72.1h0M216.0 75.6h0M219.8 75.1h0M221.6 77.6h0M223.3 75.2h0M227.4 74.5h0M222.1 74.8h0M226.7 74.9h0M234.1 72.7h0M234.7 78.9h0M237.8 72.6h0M236.8 71.5h0M233.5 70.6h0M248.6 71.5h0M249.4 79.2h0M241.5 73.1h0M242.0 71.8h0M247.8 75.8h0M250.6 78.7h0M254.0 77.3h0M264.8 74.8h0M265.9 72.5h0M269.0 77.5h0M274.9 76.8h0M284.6 79.3h0M297.1 77.0h0M296.8 69.8h0M298.4 70.0h0M303.1 77.5h0M302.3 74.7h0M194.5 85.4h0M191.0 83.5h0M206.6 82.9h0M219.4 87.8h0M222.8 82.5h0M221.6 82.3h0M227.8 81.8h0M236.9 81.8h0M236.6 85.2h0M243.8 81.5h0M250.5 85.1h0M253.3 81.9h0M251.2 82.0h0M270.9 85.4h0M290.2 83.9h0M291.3 80.6h0M282.7 89.8h0" stroke="#e04820" stroke-width="2.4"/><path d="M100.3 59.5h0M70.0 69.3h0M93.7 67.5h0M102.8 67.0h0M106.9 63.9h0M132.4 67.2h0M140.1 64.5h0M142.9 60.0h0M153.4 62.0h0M172.3 68.5h0M176.6 68.3h0M179.8 70.2h0M80.8 70.7h0M82.4 79.3h0M80.1 78.6h0M85.9 73.1h0M120.9 74.7h0M125.7 77.0h0M120.0 73.9h0M125.2 72.8h0M126.0 78.0h0M128.3 74.6h0M139.3 77.7h0M130.9 80.0h0M138.0 72.4h0M144.9 79.3h0M139.7 74.9h0M148.3 74.1h0M146.3 72.8h0M147.1 74.4h0M142.1 79.1h0M159.7 74.5h0M159.5 79.2h0M155.0 73.6h0M158.5 76.9h0M155.6 74.4h0M157.6 76.5h0M152.7 77.8h0M156.6 78.2h0M161.2 75.2h0M161.7 73.0h0M169.9 72.5h0M176.9 74.1h0M178.7 78.1h0M180.9 72.1h0M186.4 77.4h0M182.1 78.9h0M187.2 74.5h0M114.8 86.5h0M126.0 81.0h0M121.8 84.5h0M127.3 82.2h0M129.6 82.0h0M126.5 89.4h0M135.0 86.3h0M130.5 80.9h0M144.5 84.0h0M150.2 87.7h0M149.1 88.1h0M146.3 83.6h0M157.6 87.7h0M159.9 86.5h0M151.6 80.8h0M168.1 82.4h0M172.2 80.0h0M170.7 80.9h0M171.0 80.4h0M172.2 81.5h0M177.5 80.5h0M187.5 88.8h0M189.7 84.0h0M138.0 92.2h0M177.9 93.6h0M170.4 91.4h0M201.8 68.8h0M225.4 65.9h0M232.1 62.6h0M250.0 68.9h0M242.5 68.9h0M269.5 68.9h0M266.5 68.3h0M265.5 69.6h0M290.0 62.6h0M286.2 65.3h0M290.0 68.5h0M295.3 66.4h0M191.6 71.2h0M196.9 75.8h0M193.6 75.1h0M199.7 78.6h0M205.8 79.0h0M207.2 75.0h0M205.1 70.2h0M205.2 69.8h0M210.1 78.6h0M211.1 77.7h0M214.1 77.0h0M228.3 74.8h0M219.8 79.9h0M222.6 75.1h0M230.6 75.5h0M231.7 77.2h0M239.8 70.1h0M230.1 77.8h0M252.2 77.1h0M252.9 77.7h0M261.9 72.2h0M270.9 75.2h0M278.4 79.1h0M288.6 72.3h0M287.5 76.8h0M295.0 75.1h0M196.2 83.8h0M196.8 80.4h0M192.7 82.6h0M206.8 82.2h0M202.6 85.2h0M211.9 85.1h0M215.9 85.8h0M213.5 84.9h0M214.7 81.1h0M227.0 83.2h0M225.5 80.2h0M228.2 83.3h0M237.4 80.1h0M233.5 85.2h0M233.9 82.0h0M245.7 87.7h0M241.7 80.7h0M250.5 84.1h0M268.3 80.9h0M289.7 84.4h0M227.7 93.8h0M240.5 90.0h0M254.7 98.8h0M257.7 97.2h0M270.4 99.1h0" stroke="#e05020" stroke-width="2.4"/><path d="M68.9 70.0h0M112.7 68.1h0M139.8 69.4h0M144.3 60.8h0M155.5 67.0h0M151.2 70.3h0M158.0 69.3h0M167.1 64.5h0M182.8 67.2h0M100.1 73.8h0M94.3 76.9h0M102.6 79.2h0M110.4 75.6h0M118.1 76.0h0M122.1 77.7h0M137.3 73.4h0M143.4 78.7h0M141.7 72.6h0M149.8 75.1h0M155.9 75.8h0M166.5 78.0h0M163.4 79.7h0M175.5 77.7h0M173.4 71.7h0M178.7 76.8h0M179.2 77.6h0M179.7 76.4h0M181.9 78.6h0M84.3 81.8h0M82.5 85.6h0M100.8 81.3h0M110.2 89.4h0M100.9 85.7h0M105.1 81.9h0M109.7 90.1h0M111.1 79.8h0M127.2 84.4h0M120.2 82.2h0M135.5 82.8h0M137.6 80.0h0M136.6 81.9h0M133.4 80.7h0M133.6 82.9h0M147.2 82.4h0M142.9 83.4h0M142.6 82.3h0M154.0 89.4h0M151.6 84.3h0M156.0 87.1h0M152.9 80.4h0M153.5 81.2h0M160.7 89.6h0M168.7 81.1h0M169.9 83.6h0M170.5 82.1h0M178.9 89.9h0M181.2 81.7h0M146.9 91.4h0M141.8 97.8h0M151.8 89.9h0M162.2 90.7h0M179.3 91.1h0M186.1 92.8h0M182.5 93.6h0M190.3 64.3h0M208.9 69.3h0M231.2 65.1h0M259.3 69.6h0M269.3 67.8h0M191.6 76.7h0M193.3 79.3h0M193.6 79.7h0M198.9 73.7h0M191.1 77.0h0M194.3 74.2h0M205.2 78.4h0M202.9 78.2h0M202.2 76.4h0M200.9 74.7h0M227.0 79.5h0M229.9 71.9h0M220.4 71.9h0M225.2 70.1h0M229.3 74.4h0M231.4 77.7h0M294.4 80.0h0M290.5 72.4h0M299.8 72.5h0M194.2 83.0h0M200.4 82.3h0M205.0 79.9h0M212.4 83.0h0M213.4 84.6h0M213.3 81.6h0M226.0 80.5h0M221.2 83.7h0M228.2 80.7h0M220.1 80.7h0M249.9 86.2h0M240.9 85.7h0M244.0 89.1h0M241.1 90.3h0M257.8 86.5h0M259.3 80.6h0M259.9 81.1h0M289.0 80.7h0M289.8 89.8h0M290.1 88.0h0M294.4 84.1h0M302.3 85.7h0M216.1 97.6h0M234.8 92.6h0M264.9 90.7h0" stroke="#e85820" stroke-width="2.4"/><path d="M115.7 65.3h0M142.0 65.7h0M71.2 79.4h0M110.2 73.2h0M123.2 78.6h0M140.0 80.3h0M138.0 78.9h0M148.6 78.1h0M146.7 78.3h0M140.1 78.4h0M156.9 79.3h0M150.1 73.1h0M159.1 71.2h0M169.9 79.9h0M165.3 72.8h0M186.9 80.0h0M182.0 78.1h0M190.3 78.2h0M97.4 86.4h0M108.1 84.7h0M118.5 88.0h0M119.1 85.4h0M130.2 82.1h0M138.5 88.3h0M148.7 84.3h0M149.5 83.2h0M151.9 82.5h0M152.6 87.9h0M168.1 82.7h0M176.5 84.7h0M176.7 88.6h0M172.1 84.4h0M178.9 82.0h0M179.5 84.6h0M179.8 86.6h0M185.4 82.2h0M188.2 89.7h0M180.1 84.4h0M186.9 79.8h0M181.8 90.3h0M189.9 83.1h0M82.4 94.5h0M114.7 96.8h0M159.0 95.9h0M151.3 93.3h0M167.3 99.9h0M160.6 90.2h0M179.9 90.2h0M161.6 104.8h0M179.2 103.4h0M195.0 67.1h0M280.3 68.7h0M196.9 74.2h0M193.7 76.5h0M190.0 71.1h0M201.0 78.9h0M202.6 78.5h0M218.4 77.8h0M220.7 75.4h0M223.9 74.1h0M240.1 73.6h0M276.3 70.5h0M196.6 89.1h0M196.1 83.9h0M201.0 83.2h0M209.0 80.2h0M208.9 86.4h0M206.0 84.9h0M215.2 88.0h0M219.0 88.2h0M228.1 82.7h0M231.9 88.7h0M230.2 86.5h0M234.1 83.3h0M241.0 85.2h0M247.2 87.4h0M256.3 85.4h0M260.9 86.9h0M264.8 83.6h0M288.3 87.5h0M295.2 86.1h0M295.7 90.0h0M294.7 81.0h0M194.3 90.3h0M194.9 94.2h0M189.8 93.4h0M208.2 90.2h0M215.8 96.0h0M218.4 94.3h0M229.1 90.4h0M236.3 90.6h0M234.4 94.5h0M244.4 92.7h0M268.5 97.8h0M263.2 97.9h0M263.7 96.8h0M277.4 97.3h0M286.9 93.6h0M289.2 95.3h0M293.8 100.2h0M294.2 93.6h0M190.8 102.5h0M242.7 104.9h0M287.6 115.1h0" stroke="#e86028" stroke-width="2.4"/><path d="M132.1 67.7h0M148.1 89.4h0M145.3 80.8h0M165.7 82.1h0M185.0 86.1h0M184.8 85.1h0M153.3 94.9h0M201.7 79.6h0M218.4 76.9h0M298.7 78.7h0M200.2 87.4h0M234.6 82.4h0M281.6 83.4h0M195.5 91.1h0M220.9 98.4h0" stroke="#e86020" stroke-width="2.4"/><path d="M162.5 69.3h0M111.4 71.5h0M180.3 74.4h0M284.3 85.3h0M288.0 94.9h0" stroke="#e05820" stroke-width="2.4"/><path d="M91.3 78.2h0M108.5 71.0h0M148.1 76.9h0M154.2 80.1h0M185.6 78.3h0M87.5 85.2h0M87.1 90.0h0M92.5 83.5h0M100.2 82.9h0M109.3 87.2h0M113.7 79.8h0M111.9 82.3h0M123.9 86.8h0M129.3 86.1h0M120.7 90.0h0M120.8 90.0h0M135.6 88.4h0M134.2 80.9h0M137.4 88.7h0M149.0 81.6h0M146.6 89.6h0M142.1 89.1h0M155.4 89.6h0M157.3 90.2h0M163.6 85.2h0M163.7 87.8h0M162.0 83.8h0M174.6 87.2h0M179.6 85.6h0M178.8 80.9h0M171.9 86.7h0M173.5 81.0h0M182.0 88.5h0M78.5 89.7h0M81.2 92.2h0M109.9 98.9h0M116.9 90.5h0M119.8 94.7h0M131.6 99.9h0M137.8 91.1h0M131.1 94.0h0M144.8 89.9h0M146.5 96.4h0M152.6 90.4h0M149.8 91.5h0M152.1 92.5h0M166.4 92.3h0M168.1 93.0h0M170.8 94.5h0M173.9 90.7h0M171.5 91.5h0M184.7 99.8h0M183.7 93.4h0M105.8 100.8h0M142.2 102.4h0M145.2 101.6h0M156.9 101.2h0M180.1 100.1h0M180.9 101.4h0M163.3 112.5h0M216.1 72.5h0M262.6 75.6h0M278.8 79.0h0M288.2 80.2h0M302.3 79.9h0M200.0 82.5h0M191.7 80.9h0M206.9 81.3h0M200.8 88.2h0M207.7 80.2h0M208.0 85.2h0M217.0 89.0h0M219.9 83.7h0M218.2 84.1h0M211.6 83.6h0M220.0 88.6h0M227.1 81.3h0M222.7 84.2h0M230.0 87.6h0M220.1 85.5h0M221.5 89.5h0M238.6 89.2h0M265.3 80.0h0M270.2 81.6h0M279.9 87.9h0M280.7 84.2h0M283.7 87.2h0M279.9 81.7h0M197.8 99.5h0M199.5 89.8h0M195.0 98.6h0M199.6 94.0h0M202.5 98.1h0M201.9 92.4h0M201.7 96.4h0M207.9 95.3h0M204.9 91.2h0M219.5 99.6h0M215.6 92.5h0M219.1 92.9h0M209.8 97.0h0M223.7 95.3h0M225.2 92.1h0M225.4 98.6h0M226.9 99.3h0M232.7 93.9h0M230.0 93.8h0M234.6 90.0h0M237.7 99.6h0M236.3 90.3h0M242.1 91.5h0M250.0 100.1h0M254.4 93.0h0M259.8 95.3h0M269.6 89.9h0M263.5 98.0h0M273.4 94.3h0M285.0 95.2h0M287.9 93.7h0M295.6 96.5h0M295.0 92.0h0M303.1 92.5h0M213.5 100.5h0M222.8 109.8h0M269.6 100.8h0M281.0 103.3h0M297.8 107.1h0M293.6 104.6h0M295.9 108.2h0" stroke="#e86828" stroke-width="2.4"/><path d="M125.0 79.1h0M136.8 77.6h0M131.1 78.5h0M90.4 81.9h0M98.2 84.5h0M103.8 88.3h0M120.4 87.4h0M123.9 88.1h0M122.5 81.3h0M131.7 88.3h0M130.8 88.0h0M146.2 86.6h0M144.4 90.1h0M152.7 89.3h0M152.3 82.4h0M150.9 84.9h0M164.4 87.4h0M162.1 88.8h0M161.7 89.3h0M165.9 86.7h0M181.6 82.1h0M186.0 89.3h0M189.8 84.9h0M109.7 94.0h0M102.8 92.8h0M132.5 90.1h0M143.5 97.2h0M154.1 94.8h0M152.4 90.3h0M157.1 92.5h0M151.3 97.0h0M165.9 90.8h0M161.4 92.1h0M173.8 94.8h0M170.1 100.1h0M172.9 90.4h0M177.7 97.9h0M190.0 90.9h0M187.5 91.1h0M188.8 93.1h0M181.5 97.6h0M91.8 104.6h0M112.0 109.1h0M120.2 104.3h0M145.6 101.2h0M142.4 102.6h0M164.3 102.9h0M173.2 103.8h0M172.5 103.6h0M183.5 110.1h0M139.5 111.4h0M195.1 79.8h0M190.2 84.5h0M195.1 88.7h0M198.0 87.9h0M202.0 89.4h0M201.2 86.8h0M209.8 85.2h0M217.1 89.5h0M237.8 84.9h0M258.1 80.9h0M265.6 89.8h0M264.2 86.7h0M198.1 94.8h0M192.0 96.5h0M200.2 93.3h0M197.7 95.2h0M209.0 90.2h0M201.0 92.3h0M220.0 98.2h0M219.5 90.4h0M214.5 91.0h0M219.9 95.6h0M226.5 99.7h0M223.3 96.1h0M237.4 94.1h0M240.1 95.9h0M235.2 97.7h0M232.1 97.0h0M258.1 93.1h0M253.6 93.2h0M258.3 100.0h0M263.5 89.7h0M268.2 94.9h0M264.7 94.8h0M275.5 99.5h0M286.0 95.7h0M293.3 94.1h0M300.2 98.1h0M301.7 95.4h0M192.4 100.1h0M206.7 105.0h0M207.9 100.9h0M200.3 107.0h0M210.9 100.8h0M218.4 102.4h0M220.8 103.6h0M230.7 100.4h0M255.4 110.1h0M251.5 109.3h0M261.8 106.3h0M263.1 100.5h0M290.2 100.0h0M285.3 108.6h0M299.8 102.3h0M303.2 99.9h0M238.1 110.0h0M263.1 120.6h0" stroke="#e87028" stroke-width="2.4"/><path d="M139.1 89.4h0M43.3 96.8h0M81.0 99.9h0M95.9 99.1h0M94.5 94.0h0M106.7 98.8h0M108.7 98.3h0M115.9 98.2h0M119.2 99.9h0M131.9 94.0h0M157.2 100.2h0M158.2 90.7h0M161.7 97.2h0M165.4 97.4h0M166.5 97.0h0M166.2 99.3h0M173.5 97.3h0M174.8 97.3h0M179.6 96.3h0M171.1 90.8h0M184.1 98.4h0M88.6 108.7h0M86.9 106.6h0M103.0 109.0h0M113.5 102.1h0M112.9 103.2h0M125.0 106.8h0M144.7 100.7h0M139.8 103.3h0M158.6 109.5h0M157.8 102.3h0M152.9 101.4h0M167.1 110.0h0M168.7 107.4h0M163.3 109.7h0M175.0 103.6h0M176.5 104.8h0M178.4 101.4h0M178.2 101.3h0M184.3 103.8h0M187.2 101.6h0M180.3 105.3h0M100.7 114.9h0M150.2 116.9h0M151.3 113.6h0M158.2 111.4h0M161.8 110.6h0M171.4 110.4h0M171.8 116.8h0M184.8 117.4h0M200.4 99.5h0M216.0 92.1h0M217.9 93.2h0M225.3 92.8h0M223.9 98.8h0M223.1 99.5h0M243.7 99.7h0M243.6 97.4h0M277.7 94.2h0M284.5 100.1h0M286.3 100.0h0M299.0 93.7h0M197.0 105.5h0M198.5 101.1h0M196.8 100.4h0M206.9 109.9h0M218.4 107.2h0M216.4 102.0h0M227.3 109.3h0M229.2 100.5h0M237.8 101.8h0M238.7 104.1h0M240.3 107.5h0M246.8 100.7h0M254.7 108.4h0M257.2 103.6h0M262.3 103.2h0M281.6 104.6h0M297.0 108.3h0M198.7 111.1h0M192.4 114.0h0M195.0 112.2h0M205.7 112.2h0M218.9 111.3h0M226.9 111.6h0M226.6 112.9h0M227.8 115.3h0M228.6 117.1h0M238.2 109.9h0M230.2 113.1h0M244.0 117.8h0M247.2 111.5h0M247.4 110.9h0M249.1 111.2h0M256.0 112.3h0M252.8 110.3h0M266.9 112.5h0M276.4 114.2h0M283.3 114.3h0M287.9 114.6h0M287.6 114.9h0M239.9 122.7h0M274.3 123.3h0" stroke="#e88028" stroke-width="2.4"/><path d="M148.6 87.3h0M160.0 88.5h0M161.6 81.2h0M163.8 86.6h0M90.3 92.2h0M100.2 99.4h0M106.6 95.1h0M119.2 95.7h0M111.6 97.0h0M113.6 95.3h0M139.9 99.2h0M149.7 95.8h0M142.9 92.4h0M159.6 100.0h0M150.7 96.3h0M151.7 99.5h0M153.8 97.3h0M166.7 95.7h0M160.0 97.4h0M166.7 92.5h0M169.6 99.0h0M164.6 91.8h0M175.3 97.9h0M172.4 96.8h0M184.2 93.3h0M183.3 92.3h0M182.4 94.7h0M186.1 99.2h0M189.8 93.2h0M98.9 105.5h0M98.9 102.0h0M105.2 104.8h0M103.5 103.6h0M147.8 108.9h0M145.1 109.6h0M144.2 106.1h0M155.9 107.3h0M164.7 101.8h0M161.5 100.5h0M166.0 106.9h0M161.6 100.9h0M172.6 103.2h0M171.7 100.3h0M179.5 100.6h0M181.0 99.9h0M181.6 106.2h0M183.3 103.9h0M181.2 101.6h0M179.8 108.2h0M145.7 109.8h0M176.4 111.3h0M191.1 87.6h0M208.4 80.6h0M207.0 86.3h0M244.5 88.7h0M286.1 82.4h0M292.4 88.4h0M300.2 86.4h0M194.6 90.4h0M198.7 98.3h0M190.9 92.1h0M194.5 99.8h0M210.3 91.2h0M207.5 95.8h0M203.0 96.8h0M207.6 94.3h0M213.5 98.0h0M213.1 97.8h0M218.6 91.2h0M227.3 97.1h0M220.1 99.9h0M225.7 97.3h0M235.3 94.8h0M236.6 91.3h0M236.6 91.5h0M233.4 98.7h0M240.9 93.0h0M241.1 96.2h0M249.1 99.1h0M249.3 97.1h0M260.3 94.2h0M253.9 94.2h0M287.3 92.0h0M293.8 97.4h0M296.5 91.7h0M190.0 108.6h0M191.5 102.8h0M193.7 106.5h0M205.9 105.1h0M202.0 102.1h0M208.1 103.9h0M220.1 108.9h0M213.1 105.4h0M215.9 99.9h0M213.2 101.4h0M220.7 100.3h0M229.2 108.7h0M222.4 100.0h0M222.7 108.5h0M233.7 107.0h0M241.0 109.7h0M247.6 105.5h0M240.2 102.0h0M246.5 103.4h0M256.7 101.8h0M264.8 105.1h0M276.8 101.1h0M283.4 106.2h0M280.7 106.0h0M192.6 113.2h0M243.2 109.9h0M247.1 117.1h0M258.5 115.1h0M256.4 115.1h0M264.0 110.4h0M277.1 113.8h0M276.2 120.3h0" stroke="#e87828" stroke-width="2.4"/><path d="M133.5 96.7h0M160.3 96.2h0M188.8 95.8h0M49.3 104.1h0M59.1 107.7h0M77.7 108.3h0M90.8 103.2h0M90.0 108.1h0M104.1 109.0h0M150.3 109.7h0M150.4 108.1h0M164.2 103.4h0M167.5 109.8h0M179.5 104.3h0M170.7 109.0h0M184.4 108.1h0M107.4 112.0h0M127.3 117.4h0M129.4 112.0h0M134.9 112.5h0M131.4 119.1h0M141.0 112.7h0M159.0 115.2h0M162.3 111.3h0M180.1 114.3h0M169.7 110.7h0M181.8 115.2h0M217.5 83.6h0M193.7 91.1h0M203.0 98.7h0M229.8 98.4h0M250.4 96.3h0M269.7 97.9h0M296.5 94.4h0M199.3 99.8h0M194.0 109.3h0M191.3 100.2h0M195.8 107.4h0M190.3 100.6h0M204.0 101.9h0M206.6 106.9h0M200.7 103.9h0M217.3 104.9h0M217.5 106.3h0M221.3 103.9h0M222.6 100.2h0M251.5 104.5h0M264.3 99.7h0M264.5 102.8h0M292.0 105.2h0M301.5 102.8h0M200.3 111.8h0M203.1 117.0h0M207.3 114.9h0M219.0 118.3h0M215.4 110.3h0M213.5 114.4h0M223.4 115.6h0M229.8 115.7h0M228.4 115.7h0M237.6 118.3h0M234.2 118.4h0M241.1 115.1h0M247.3 113.7h0M260.0 114.4h0M274.5 120.1h0M278.5 115.6h0M271.3 113.6h0M289.6 120.2h0M292.4 117.3h0M298.6 115.2h0M209.5 121.2h0M239.6 124.4h0M243.6 125.5h0M266.9 121.0h0M262.1 120.1h0M280.2 120.3h0" stroke="#f08828" stroke-width="2.4"/><path d="M147.8 98.6h0M182.5 97.6h0M181.8 99.9h0M89.0 101.2h0M98.0 108.0h0M90.4 107.6h0M99.8 103.0h0M117.3 104.3h0M118.4 108.1h0M119.6 101.8h0M131.6 109.3h0M141.9 99.9h0M154.0 106.3h0M167.0 103.9h0M165.8 99.8h0M169.5 104.0h0M161.2 103.6h0M173.8 103.5h0M172.5 107.5h0M183.4 107.5h0M185.8 104.5h0M73.1 113.7h0M107.4 112.4h0M109.7 120.3h0M111.1 116.5h0M124.6 114.7h0M126.4 115.3h0M136.9 115.6h0M135.9 119.9h0M149.8 117.0h0M148.8 116.8h0M143.5 116.1h0M145.1 111.0h0M148.6 116.8h0M157.6 112.6h0M160.6 116.6h0M167.6 117.3h0M166.7 110.7h0M162.1 113.9h0M172.1 113.9h0M175.0 114.9h0M177.1 113.6h0M185.9 112.1h0M182.8 114.0h0M182.0 114.5h0M94.4 124.2h0M140.1 121.5h0M162.1 120.7h0M199.3 88.9h0M207.7 94.7h0M216.3 97.6h0M242.8 95.8h0M199.5 107.0h0M202.9 104.0h0M203.5 108.1h0M202.7 105.8h0M204.6 109.8h0M218.3 104.4h0M214.5 104.6h0M221.4 107.5h0M220.6 106.6h0M236.6 108.2h0M243.8 108.4h0M259.6 107.1h0M250.7 107.4h0M268.6 106.3h0M264.5 100.3h0M275.1 108.7h0M274.0 105.6h0M288.0 107.1h0M287.3 104.1h0M295.9 110.0h0M196.8 116.0h0M209.0 110.4h0M205.6 115.5h0M202.9 111.7h0M204.1 110.4h0M210.0 112.1h0M213.7 114.6h0M210.6 120.0h0M210.8 112.1h0M210.8 115.8h0M219.1 117.9h0M214.3 113.8h0M216.6 117.0h0M236.1 113.5h0M236.1 119.2h0M230.8 112.8h0M232.0 110.0h0M235.0 114.7h0M247.3 111.3h0M254.5 119.4h0M259.2 120.1h0M264.9 113.8h0M268.0 112.4h0M262.7 118.5h0M262.2 117.4h0M274.1 114.4h0M277.9 115.3h0M274.8 117.2h0M280.1 118.9h0M297.9 110.0h0M303.6 115.9h0M204.2 124.3h0M220.3 121.3h0M221.8 120.2h0M235.7 122.9h0M229.7 119.8h0M256.9 126.9h0M258.3 125.2h0M257.7 124.5h0M270.2 121.0h0M262.0 119.8h0M260.5 120.3h0M275.9 126.8h0M274.8 124.9h0M274.1 124.2h0M299.5 127.2h0M248.9 135.2h0M291.1 134.0h0" stroke="#f09028" stroke-width="2.4"/><path d="M80.2 107.4h0M145.0 109.2h0M72.6 119.3h0M97.8 115.8h0M115.4 117.5h0M121.7 111.1h0M128.8 114.4h0M136.9 117.6h0M132.2 114.6h0M137.8 115.9h0M140.1 111.2h0M145.9 118.4h0M156.3 116.6h0M155.5 113.5h0M164.5 115.0h0M169.3 117.2h0M161.4 116.3h0M175.5 120.2h0M171.0 117.0h0M183.4 119.0h0M188.9 115.9h0M81.9 122.2h0M92.6 124.9h0M101.7 127.9h0M103.7 121.0h0M116.2 122.8h0M115.9 125.8h0M113.0 124.1h0M128.3 122.6h0M127.9 124.8h0M120.8 122.5h0M133.6 124.3h0M133.2 128.7h0M141.4 126.7h0M142.0 129.9h0M143.0 126.9h0M155.7 127.7h0M157.4 122.5h0M158.8 121.9h0M164.6 128.0h0M169.8 122.7h0M162.0 129.8h0M165.0 120.0h0M175.6 126.1h0M175.1 121.3h0M172.0 128.9h0M188.6 119.9h0M182.0 128.0h0M186.5 127.0h0M181.3 125.5h0M188.6 128.9h0M180.2 122.3h0M109.6 133.9h0M116.7 135.6h0M127.4 131.9h0M140.9 130.1h0M147.3 129.9h0M150.8 130.4h0M157.3 132.6h0M155.0 131.7h0M162.1 130.9h0M176.6 134.0h0M198.5 119.9h0M207.0 119.3h0M204.6 118.0h0M215.4 120.1h0M214.9 119.3h0M223.3 115.5h0M229.3 116.8h0M224.3 115.0h0M199.5 130.2h0M193.6 122.8h0M204.5 121.9h0M203.6 122.5h0M200.0 129.5h0M200.7 122.5h0M203.0 122.3h0M202.4 126.4h0M212.3 127.4h0M215.5 124.3h0M215.4 127.9h0M221.7 128.7h0M222.1 129.8h0M222.4 122.9h0M226.6 119.7h0M220.2 128.4h0M240.0 127.4h0M232.6 127.9h0M229.7 120.9h0M231.7 125.8h0M233.0 122.0h0M241.5 122.1h0M244.5 125.5h0M253.4 122.2h0M250.6 122.7h0M264.3 126.9h0M269.2 120.8h0M276.3 124.6h0M274.9 130.0h0M192.9 134.7h0M198.9 131.2h0M199.7 133.8h0M202.3 133.3h0M205.8 135.3h0M204.3 137.9h0M217.8 136.2h0M220.1 137.1h0M213.9 137.2h0M229.3 136.3h0M224.7 132.2h0M228.2 136.0h0M221.5 136.1h0M231.2 140.0h0M233.2 133.6h0M237.1 133.8h0M245.6 138.3h0M253.2 138.5h0M258.0 132.1h0M261.2 130.2h0M273.4 132.8h0M276.8 130.1h0M286.1 130.6h0M223.8 141.9h0" stroke="#f0a830" stroke-width="2.4"/><path d="M73.7 108.6h0M109.9 107.1h0M121.2 109.8h0M183.8 107.0h0M77.4 114.0h0M97.7 111.3h0M90.6 117.9h0M90.9 118.9h0M108.3 117.7h0M118.9 114.0h0M120.6 118.7h0M123.3 111.4h0M150.4 118.5h0M151.3 115.9h0M152.2 117.7h0M152.3 118.4h0M153.3 117.8h0M165.1 119.6h0M172.8 119.6h0M178.3 114.7h0M177.1 115.8h0M177.3 118.2h0M170.9 113.1h0M178.9 117.3h0M189.3 118.0h0M185.0 114.1h0M183.5 117.7h0M98.1 127.5h0M103.9 126.0h0M107.8 123.2h0M109.9 126.8h0M123.7 122.1h0M123.8 128.2h0M132.0 119.7h0M135.1 122.8h0M142.4 126.5h0M141.1 124.8h0M156.6 120.8h0M158.5 125.2h0M150.0 123.3h0M150.4 120.5h0M151.4 122.8h0M161.2 127.1h0M161.9 123.4h0M167.5 126.7h0M173.7 125.8h0M177.9 122.8h0M178.8 128.0h0M186.6 123.6h0M118.9 130.5h0M126.7 129.9h0M138.1 132.9h0M141.3 135.2h0M169.7 132.4h0M186.8 131.5h0M193.4 109.0h0M212.4 106.0h0M229.0 103.1h0M240.1 105.6h0M279.2 100.3h0M293.0 109.8h0M194.0 117.3h0M194.4 117.3h0M192.7 113.5h0M204.0 116.3h0M205.7 119.4h0M203.2 117.1h0M223.8 113.3h0M236.5 120.1h0M231.7 116.8h0M244.3 114.6h0M255.5 119.6h0M294.0 117.8h0M193.4 121.7h0M199.6 123.6h0M190.3 121.1h0M209.0 121.3h0M209.2 128.5h0M199.9 125.4h0M218.0 128.9h0M215.7 122.8h0M210.8 127.2h0M214.6 125.9h0M212.9 126.1h0M211.0 124.1h0M209.9 124.2h0M226.1 129.5h0M223.9 123.9h0M220.9 126.0h0M222.1 124.2h0M228.5 123.0h0M239.8 129.3h0M233.9 127.9h0M231.5 122.6h0M232.7 120.8h0M246.3 125.4h0M249.6 130.0h0M239.7 123.8h0M243.3 126.6h0M250.8 125.6h0M252.9 123.6h0M286.7 127.2h0M280.1 124.7h0M297.2 127.9h0M205.2 131.1h0M200.1 139.7h0M213.9 130.3h0M225.2 133.5h0M230.5 131.9h0M237.4 134.8h0M238.9 132.7h0M247.2 133.8h0M259.3 129.7h0M269.7 132.6h0M260.3 130.6h0M262.7 135.2h0M278.7 140.0h0M272.5 137.3h0M274.4 129.7h0M281.9 139.9h0M206.8 141.4h0M290.0 141.7h0" stroke="#f0a030" stroke-width="2.4"/><path d="M85.4 103.3h0M157.6 107.2h0M160.3 103.3h0M151.7 103.0h0M188.0 105.2h0M90.2 117.0h0M140.4 109.8h0M160.2 120.2h0M186.7 111.7h0M199.9 92.2h0M209.1 100.0h0M225.3 98.0h0M249.7 97.5h0M258.5 99.4h0M194.1 105.8h0M207.3 107.6h0M217.0 104.7h0M211.5 105.4h0M227.7 104.8h0M228.7 103.7h0M229.6 103.0h0M223.4 110.0h0M234.2 106.1h0M238.8 109.2h0M236.7 107.0h0M242.9 109.2h0M250.2 100.9h0M265.5 106.2h0M267.8 101.8h0M280.3 105.7h0M212.8 111.5h0M230.3 113.2h0M236.4 116.1h0M272.9 115.4h0M291.6 110.4h0M225.7 121.1h0M249.0 120.7h0M280.3 122.9h0M272.9 121.6h0M286.9 124.1h0M300.6 122.7h0" stroke="#e88828" stroke-width="2.4"/><path d="M109.2 104.7h0M169.2 108.2h0M178.8 103.8h0M94.2 119.6h0M103.6 119.5h0M111.0 117.6h0M118.3 110.1h0M128.3 111.0h0M143.5 119.8h0M159.2 112.4h0M155.6 114.1h0M164.2 111.5h0M163.3 110.8h0M166.8 114.3h0M179.7 110.1h0M189.7 115.7h0M102.4 119.9h0M132.7 120.6h0M147.5 120.0h0M145.0 124.7h0M141.8 121.5h0M169.5 125.6h0M209.2 109.0h0M237.4 106.6h0M196.8 118.9h0M191.7 118.3h0M209.0 116.0h0M226.3 111.2h0M234.7 114.4h0M232.1 116.5h0M257.4 117.5h0M250.6 117.3h0M259.8 117.8h0M264.7 112.3h0M263.1 111.7h0M279.2 116.5h0M292.3 117.9h0M295.6 117.6h0M191.2 130.0h0M197.5 119.9h0M211.3 125.5h0M216.0 128.5h0M235.5 120.0h0M254.1 130.0h0M265.5 122.5h0M262.5 129.1h0M269.7 122.7h0M285.8 120.8h0M192.5 130.0h0M256.5 130.0h0M258.2 130.6h0" stroke="#f09828" stroke-width="2.4"/><path d="M116.0 104.3h0M164.9 109.7h0M177.3 109.3h0M190.0 110.2h0M189.7 108.8h0M83.1 117.7h0M129.6 114.7h0M131.2 114.7h0M140.0 111.9h0M147.3 109.7h0M150.0 113.0h0M139.8 111.8h0M155.5 109.9h0M154.8 113.8h0M169.5 116.1h0M160.6 113.2h0M168.7 116.6h0M177.4 113.4h0M183.7 115.1h0M187.9 117.2h0M188.0 115.2h0M86.9 126.4h0M93.3 120.9h0M130.7 124.6h0M135.1 124.9h0M133.5 123.3h0M144.0 122.2h0M142.1 124.4h0M149.9 129.1h0M160.2 124.4h0M170.7 122.6h0M174.3 126.8h0M184.7 125.4h0M182.4 122.9h0M199.2 106.0h0M202.9 104.9h0M215.6 107.5h0M242.9 109.6h0M247.4 105.7h0M259.5 106.1h0M260.3 106.7h0M200.2 117.8h0M190.8 119.1h0M189.9 119.7h0M189.8 114.2h0M196.1 110.3h0M199.0 117.7h0M200.3 113.4h0M203.6 111.6h0M213.5 118.4h0M210.9 114.1h0M224.6 113.6h0M225.4 112.6h0M228.5 116.0h0M229.8 118.6h0M229.7 119.2h0M250.0 117.6h0M257.0 111.1h0M268.4 119.7h0M272.1 118.3h0M285.1 119.9h0M285.7 115.6h0M196.8 122.0h0M197.5 126.2h0M197.2 122.4h0M196.6 125.5h0M219.4 123.4h0M219.1 126.1h0M229.1 122.7h0M222.7 129.4h0M229.3 120.3h0M235.8 129.4h0M248.6 123.2h0M253.9 125.5h0M251.7 122.0h0M255.8 120.9h0M274.1 126.2h0M291.1 126.5h0M297.8 123.9h0M293.9 129.1h0M217.0 135.1h0M217.6 133.8h0M222.3 136.8h0M222.1 131.3h0M239.4 133.6h0M232.8 131.5h0M232.5 130.9h0M260.5 132.7h0M275.6 131.7h0M295.1 130.1h0M295.7 132.5h0" stroke="#f09830" stroke-width="2.4"/><path d="M79.9 119.8h0M81.4 118.8h0M129.3 116.2h0M140.8 119.6h0M185.1 113.7h0M87.1 122.6h0M99.9 125.3h0M96.8 129.9h0M93.0 130.0h0M109.5 128.7h0M99.8 123.6h0M113.1 126.5h0M116.1 125.1h0M139.8 123.6h0M135.3 123.2h0M139.8 123.5h0M148.1 124.5h0M141.1 126.2h0M145.5 126.2h0M159.6 130.0h0M157.0 125.3h0M167.6 128.5h0M167.7 127.6h0M175.1 128.0h0M172.4 128.5h0M179.8 121.7h0M171.6 125.8h0M185.7 125.4h0M180.6 124.9h0M188.1 127.4h0M82.1 129.8h0M101.9 130.1h0M104.4 134.3h0M124.4 133.1h0M133.9 135.0h0M140.0 133.8h0M170.8 134.7h0M174.2 133.7h0M178.0 134.7h0M188.7 132.9h0M183.7 129.8h0M182.1 132.4h0M180.0 130.8h0M133.1 140.9h0M150.0 141.5h0M156.0 140.9h0M170.2 140.0h0M207.3 119.4h0M267.5 115.5h0M191.2 122.2h0M194.1 129.0h0M198.4 128.4h0M206.1 124.1h0M201.2 127.9h0M204.3 121.3h0M205.6 127.9h0M217.9 120.9h0M217.3 128.1h0M219.2 125.2h0M227.0 123.6h0M239.0 122.5h0M246.1 129.8h0M197.3 138.8h0M193.5 137.0h0M201.8 134.9h0M202.3 137.6h0M203.4 130.6h0M213.3 133.7h0M217.6 131.7h0M215.7 132.7h0M212.7 130.2h0M229.1 134.6h0M221.9 131.9h0M224.6 133.9h0M235.3 135.0h0M229.8 135.7h0M231.1 137.5h0M248.0 132.1h0M242.1 132.9h0M242.6 131.7h0M250.5 136.4h0M263.8 136.8h0M263.6 136.4h0M276.5 138.0h0M273.1 136.0h0M285.1 137.6h0M209.1 143.3h0M211.5 140.8h0M226.3 147.8h0M229.8 147.5h0M226.2 140.3h0M238.7 142.7h0M241.7 145.2h0M257.6 140.3h0M260.2 142.7h0M261.9 149.8h0M276.4 140.0h0M296.3 142.4h0M294.2 147.4h0M298.5 141.2h0M230.0 154.5h0M263.5 149.7h0M289.7 152.1h0M297.4 158.9h0" stroke="#f0b030" stroke-width="2.4"/><path d="M92.6 119.5h0M111.2 116.9h0M154.0 117.1h0M97.2 129.2h0M103.2 128.7h0M119.3 122.2h0M128.8 122.3h0M125.9 123.7h0M126.3 127.9h0M143.0 125.5h0M160.0 128.4h0M162.7 129.5h0M163.9 122.1h0M161.3 129.4h0M172.0 124.3h0M189.6 121.8h0M182.1 125.8h0M126.4 138.6h0M121.1 136.8h0M130.9 137.5h0M133.6 131.6h0M135.2 132.9h0M140.0 133.1h0M148.5 133.9h0M149.4 132.9h0M149.9 131.3h0M152.1 130.6h0M155.2 131.2h0M158.4 134.1h0M158.6 130.2h0M157.6 130.7h0M156.0 138.9h0M155.9 132.9h0M166.5 130.6h0M165.1 135.0h0M164.1 139.2h0M165.6 130.5h0M162.4 136.2h0M161.8 134.6h0M179.9 133.8h0M180.2 134.6h0M177.6 137.3h0M181.4 135.7h0M187.3 132.1h0M102.3 142.7h0M118.3 141.3h0M118.0 146.4h0M125.7 143.2h0M142.2 142.9h0M172.1 139.7h0M186.4 148.5h0M183.0 146.9h0M180.7 142.7h0M227.9 116.9h0M197.8 126.9h0M192.0 129.9h0M194.8 122.0h0M207.8 124.3h0M203.6 125.7h0M238.4 126.9h0M242.0 128.6h0M260.2 124.1h0M195.9 134.1h0M192.0 130.4h0M199.3 138.2h0M196.7 139.3h0M191.4 132.4h0M205.0 137.6h0M208.5 138.2h0M205.9 129.8h0M214.9 139.2h0M221.3 131.7h0M227.0 133.0h0M220.8 134.8h0M230.9 134.7h0M236.8 134.2h0M232.3 138.1h0M240.8 137.0h0M240.3 130.6h0M258.1 138.6h0M255.3 129.9h0M269.1 138.3h0M263.2 135.8h0M259.7 139.5h0M270.7 139.3h0M193.7 142.0h0M199.5 142.2h0M215.0 140.8h0M218.2 144.5h0M228.3 141.2h0M222.6 144.0h0M229.1 144.1h0M234.1 141.2h0M234.1 143.7h0M235.1 147.3h0M247.1 148.6h0M245.9 142.6h0M251.8 149.1h0M250.2 141.5h0M267.5 146.5h0M265.3 141.7h0M270.0 143.1h0M268.0 143.0h0M279.1 146.0h0M173.4 152.9h0M256.3 154.0h0M269.8 153.0h0M279.7 152.1h0M288.8 150.6h0M288.0 150.6h0M292.0 153.3h0M290.6 152.5h0" stroke="#f0b830" stroke-width="2.4"/><path d="M142.3 120.0h0M131.9 129.0h0M173.4 128.3h0M103.0 130.5h0M118.5 134.7h0M112.3 135.6h0M122.9 137.3h0M147.8 132.6h0M149.2 132.2h0M140.9 132.9h0M180.8 131.3h0M115.4 142.5h0M124.4 144.6h0M132.3 146.9h0M160.2 147.7h0M166.3 144.8h0M168.1 140.0h0M180.8 143.4h0M199.5 135.3h0M193.4 139.8h0M210.3 138.4h0M202.3 132.2h0M228.0 134.0h0M255.5 139.7h0M193.7 147.5h0M211.5 142.6h0M218.9 144.3h0M226.6 149.1h0M221.8 141.9h0M246.7 149.5h0M250.0 141.0h0M252.4 149.8h0M250.3 142.2h0M268.5 149.5h0M132.5 150.9h0M164.6 152.5h0M198.2 151.8h0M200.1 149.7h0M268.2 149.7h0M269.5 153.8h0M271.8 153.8h0M288.7 157.0h0M282.1 159.7h0M290.9 156.4h0M273.2 162.7h0" stroke="#f0c030" stroke-width="2.4"/><path d="M113.6 129.3h0M108.0 140.3h0M119.8 136.3h0M168.3 136.2h0M179.6 138.5h0M183.6 138.2h0M101.0 148.7h0M117.2 148.3h0M139.2 141.1h0M140.3 144.4h0M151.8 143.3h0M150.3 144.2h0M155.9 145.9h0M149.8 143.8h0M150.2 149.0h0M159.5 148.5h0M167.2 149.7h0M159.8 143.1h0M178.2 141.6h0M172.6 144.9h0M179.6 141.4h0M175.5 149.5h0M170.4 143.2h0M175.9 141.0h0M187.0 148.7h0M182.4 145.5h0M187.1 146.8h0M187.9 144.6h0M200.0 140.2h0M209.0 138.0h0M212.9 138.2h0M217.7 136.7h0M235.3 140.2h0M192.6 149.4h0M198.8 140.0h0M198.2 145.8h0M198.7 147.3h0M192.4 145.3h0M192.4 144.8h0M209.2 147.0h0M200.5 149.2h0M205.1 145.2h0M210.1 145.4h0M202.4 143.6h0M208.7 146.6h0M218.6 146.0h0M211.1 146.4h0M209.8 145.3h0M216.6 147.5h0M227.9 143.2h0M227.6 146.4h0M227.3 148.7h0M234.2 149.0h0M242.2 148.6h0M241.6 147.8h0M256.4 149.4h0M256.7 143.4h0M260.0 149.2h0M269.8 141.8h0M270.4 145.9h0M288.0 149.4h0M283.2 149.6h0M105.0 149.8h0M100.2 150.8h0M118.8 156.8h0M111.4 152.2h0M110.6 150.9h0M130.1 152.1h0M138.3 155.7h0M145.2 152.1h0M149.1 154.2h0M146.3 152.9h0M151.5 155.0h0M151.5 150.3h0M174.6 150.1h0M179.9 150.3h0M184.4 150.5h0M116.8 160.2h0M158.9 161.8h0M166.0 161.2h0M166.4 160.2h0M198.9 150.3h0M209.1 152.2h0M202.2 153.2h0M210.2 152.9h0M210.9 155.8h0M227.2 150.0h0M229.6 158.4h0M235.1 149.9h0M235.2 152.5h0M240.6 150.1h0M250.6 153.9h0M251.2 156.2h0M250.5 154.6h0M254.1 151.5h0M251.9 151.7h0M260.5 150.7h0M264.1 153.7h0M277.9 156.5h0M288.4 151.7h0M297.0 159.5h0M298.4 155.8h0M292.0 158.9h0M203.1 162.2h0M220.8 161.1h0M260.1 162.9h0M254.9 165.0h0M257.1 161.8h0M269.8 163.2h0M261.4 164.1h0M262.6 159.8h0M277.6 160.3h0M271.1 163.2h0M284.3 167.3h0M286.4 165.2h0M290.0 166.3h0M284.2 165.0h0M297.1 169.1h0" stroke="#f8c830" stroke-width="2.4"/><path d="M152.7 129.5h0M119.1 134.0h0M144.5 139.0h0M145.6 134.1h0M176.6 137.0h0M175.7 135.2h0M182.5 133.9h0M153.9 146.5h0M153.7 144.9h0M162.3 145.8h0M169.4 145.7h0M165.3 146.1h0M172.3 145.2h0M171.2 148.4h0M188.5 140.7h0M199.0 136.8h0M194.3 139.4h0M208.5 137.0h0M217.9 137.5h0M210.6 137.5h0M216.5 132.9h0M224.5 140.2h0M223.8 134.0h0M246.9 131.4h0M275.1 140.0h0M191.2 141.9h0M207.5 146.1h0M207.8 144.1h0M218.4 147.0h0M227.7 141.1h0M239.3 148.8h0M240.0 142.3h0M266.5 140.0h0M132.9 154.8h0M184.7 151.1h0M219.9 154.6h0M239.3 149.8h0M241.3 153.2h0M272.8 152.1h0M279.8 150.6h0M277.3 158.5h0M286.5 155.7h0M282.9 151.6h0M300.3 153.1h0M297.9 149.9h0" stroke="#f8c030" stroke-width="2.4"/><path d="M130.4 139.6h0M145.9 137.2h0M188.8 133.7h0M140.5 144.5h0M144.1 149.8h0M144.1 148.7h0M156.1 150.3h0M157.5 148.2h0M167.8 146.2h0M167.4 150.0h0M172.9 147.1h0M190.1 143.2h0M181.1 148.8h0M189.0 141.4h0M194.1 141.2h0M196.9 143.6h0M207.8 145.6h0M202.2 143.8h0M199.7 143.3h0M211.6 142.7h0M220.9 144.9h0M229.2 147.2h0M230.1 142.1h0M236.1 150.0h0M237.7 144.4h0M249.1 149.1h0M102.0 154.4h0M118.0 158.6h0M150.8 159.9h0M167.0 156.5h0M179.9 150.2h0M92.9 161.4h0M171.9 160.9h0M181.3 160.7h0M189.9 163.2h0M194.9 154.0h0M197.9 152.1h0M191.5 155.6h0M190.5 159.1h0M202.3 155.4h0M209.3 153.6h0M218.7 152.8h0M216.0 152.0h0M221.4 153.8h0M219.7 157.1h0M235.5 151.5h0M237.6 153.6h0M238.8 153.2h0M230.6 151.3h0M235.2 155.8h0M235.2 154.4h0M234.8 156.8h0M248.1 157.1h0M257.1 157.2h0M268.3 155.2h0M267.8 160.2h0M260.0 153.6h0M263.0 160.2h0M279.8 154.5h0M288.3 157.0h0M192.8 161.1h0M199.3 164.0h0M191.5 160.7h0M215.3 162.2h0M251.0 164.9h0M259.9 169.0h0M252.9 165.0h0M268.4 159.9h0M266.0 162.1h0M279.6 167.5h0M274.5 159.8h0M278.1 164.1h0M287.4 167.8h0M250.5 170.7h0M267.3 170.2h0M277.9 171.0h0M289.9 170.0h0" stroke="#f8d038" stroke-width="2.4"/><path d="M162.6 140.1h0M110.0 143.6h0M126.5 146.7h0M133.2 149.8h0M158.6 147.1h0M150.4 145.4h0M178.0 149.8h0M198.4 142.8h0M200.1 150.2h0M205.0 150.2h0M208.2 149.9h0M211.2 146.8h0M225.9 148.8h0M253.2 146.8h0M121.8 150.4h0M128.3 158.9h0M133.4 157.1h0M135.3 153.2h0M136.3 155.5h0M149.1 153.4h0M150.1 155.6h0M144.8 154.2h0M140.9 158.0h0M158.9 159.6h0M151.0 153.2h0M150.3 159.4h0M152.3 157.9h0M165.8 157.3h0M165.2 153.9h0M164.4 153.6h0M167.4 156.4h0M169.4 155.3h0M161.0 156.1h0M162.9 153.9h0M166.5 154.0h0M174.3 158.1h0M173.9 152.4h0M177.2 159.8h0M174.1 159.7h0M174.1 153.8h0M185.8 158.6h0M187.7 155.4h0M187.2 159.3h0M180.5 158.5h0M183.7 154.5h0M92.3 170.3h0M123.2 160.8h0M158.3 164.4h0M154.4 165.2h0M158.7 162.2h0M150.5 165.9h0M163.4 162.2h0M162.4 160.8h0M163.7 161.2h0M163.1 162.9h0M169.8 160.4h0M178.7 164.9h0M180.2 160.2h0M188.7 159.7h0M183.5 160.5h0M181.5 161.8h0M181.6 169.4h0M181.3 168.1h0M112.8 174.1h0M169.7 177.1h0M186.5 176.3h0M202.7 151.0h0M207.1 152.5h0M204.0 153.6h0M206.8 150.0h0M214.2 153.2h0M216.8 152.9h0M222.1 154.3h0M227.1 151.2h0M225.5 157.1h0M223.5 153.3h0M256.0 156.3h0M263.7 157.0h0M266.1 149.9h0M276.6 157.9h0M282.3 154.2h0M193.9 163.1h0M197.8 167.1h0M191.7 163.3h0M218.9 164.9h0M230.0 160.7h0M236.9 167.8h0M239.4 160.5h0M242.9 163.1h0M255.0 168.7h0M261.2 166.8h0M262.2 162.0h0M266.2 164.7h0M278.1 169.2h0M279.7 168.2h0M274.5 162.4h0M299.1 164.9h0M298.4 162.7h0M296.0 162.4h0M209.5 169.9h0M217.2 169.9h0M249.9 175.4h0M252.1 173.3h0M257.4 172.7h0M278.8 172.1h0" stroke="#f0d838" stroke-width="2.4"/><path d="M166.6 138.3h0M190.5 149.4h0M102.5 158.1h0M115.7 158.5h0M129.2 158.5h0M128.9 150.5h0M137.2 159.3h0M131.2 155.4h0M148.9 160.3h0M157.1 157.1h0M151.2 155.4h0M179.1 158.5h0M170.3 154.8h0M186.6 159.7h0M183.3 158.3h0M89.8 167.0h0M95.4 161.9h0M101.2 161.9h0M112.5 164.1h0M110.7 159.8h0M116.2 162.9h0M121.2 161.9h0M125.1 167.0h0M137.6 168.0h0M133.6 162.8h0M147.2 162.1h0M149.5 165.5h0M151.6 162.6h0M160.3 169.7h0M159.2 163.5h0M156.9 165.5h0M149.8 160.8h0M168.3 163.7h0M161.7 163.8h0M162.6 169.2h0M163.9 167.0h0M172.4 166.8h0M171.3 160.4h0M176.7 161.5h0M186.6 166.8h0M180.6 168.6h0M180.0 164.2h0M184.7 165.6h0M181.0 161.1h0M104.4 174.1h0M134.6 172.3h0M139.9 174.6h0M151.8 175.0h0M169.3 171.5h0M163.1 170.9h0M173.4 176.6h0M173.0 170.8h0M171.7 175.8h0M173.0 170.9h0M178.5 170.0h0M189.2 169.9h0M180.5 179.4h0M193.4 159.5h0M199.0 156.5h0M214.0 155.9h0M212.7 151.8h0M211.7 157.7h0M244.1 157.3h0M244.4 158.9h0M256.7 160.3h0M193.0 163.4h0M200.4 161.7h0M200.9 165.4h0M204.5 169.3h0M201.2 167.1h0M210.1 167.6h0M203.7 167.0h0M199.7 163.2h0M211.8 164.4h0M211.1 169.4h0M217.0 164.4h0M215.1 166.3h0M216.6 166.1h0M220.0 163.7h0M235.1 165.4h0M259.1 168.5h0M251.6 166.5h0M250.3 165.4h0M264.8 162.5h0M265.5 166.9h0M274.7 163.5h0M270.0 163.8h0M286.0 167.3h0M280.0 163.4h0M285.5 167.1h0M205.1 174.0h0M207.3 171.4h0M203.9 178.0h0M212.6 173.4h0M218.0 176.5h0M218.9 175.2h0M212.0 174.7h0M218.6 170.9h0M210.6 174.6h0M224.6 171.5h0M228.7 173.6h0M220.6 174.3h0M227.4 173.0h0M223.8 171.7h0M229.7 179.6h0M235.6 174.4h0M237.8 173.5h0M233.3 170.9h0M232.5 172.6h0M258.5 170.4h0M256.0 171.6h0M250.0 175.8h0M268.9 177.8h0M278.4 179.6h0M270.6 172.1h0M287.2 178.7h0M288.2 174.3h0M292.6 183.7h0" stroke="#f0e038" stroke-width="2.4"/><path d="M179.9 137.9h0M127.2 149.6h0M163.2 145.5h0M162.1 147.2h0M178.4 142.0h0M122.0 151.9h0M134.9 155.0h0M142.3 150.7h0M142.9 152.4h0M171.8 151.5h0M162.1 162.7h0M178.4 160.4h0M196.3 156.0h0M190.2 158.3h0M202.5 157.3h0M212.4 154.7h0M214.7 158.3h0M230.6 158.3h0M255.8 157.0h0M268.6 156.3h0M271.2 157.9h0M283.8 158.9h0M202.0 165.6h0M237.9 164.6h0M252.8 160.0h0" stroke="#f0d038" stroke-width="2.4"/><path d="M117.2 145.8h0M129.5 143.6h0M166.6 148.2h0M175.6 147.9h0M181.0 148.0h0M191.3 147.4h0M213.5 145.1h0M210.5 147.2h0M211.6 144.8h0M214.5 149.4h0M250.1 149.7h0M262.7 145.3h0M106.7 153.9h0M141.8 154.8h0M158.5 158.0h0M158.7 149.9h0M177.4 155.2h0M149.6 164.6h0M167.8 159.9h0M171.6 160.5h0M197.4 160.1h0M202.7 154.1h0M250.5 157.4h0M279.5 157.7h0M280.2 152.6h0M287.3 155.2h0M299.7 158.9h0M298.9 157.6h0M253.1 162.5h0M269.3 169.0h0M283.3 161.3h0M283.6 164.4h0" stroke="#f8d030" stroke-width="2.4"/><path d="M201.1 149.2h0M81.3 168.1h0M124.2 163.1h0M130.2 167.0h0M139.2 164.7h0M138.7 168.7h0M159.9 162.2h0M155.7 168.1h0M158.2 167.2h0M178.8 164.4h0M170.2 164.5h0M174.4 168.5h0M183.2 170.0h0M187.0 170.0h0M114.8 169.8h0M138.8 172.6h0M141.4 176.5h0M159.6 171.6h0M164.7 176.2h0M160.2 175.3h0M162.1 173.4h0M167.3 173.9h0M177.9 176.8h0M190.2 170.7h0M183.8 179.1h0M185.3 171.7h0M214.0 155.1h0M225.2 159.9h0M190.6 169.1h0M204.3 164.3h0M234.2 161.6h0M265.7 169.6h0M281.4 169.5h0M295.5 169.9h0M198.8 170.1h0M192.3 172.9h0M203.4 178.7h0M218.7 171.5h0M230.3 171.9h0M224.1 175.3h0M221.5 174.1h0M273.1 179.5h0M275.6 178.8h0M297.9 177.8h0M200.2 180.3h0M228.5 185.5h0M248.2 190.2h0" stroke="#f0e838" stroke-width="2.4"/><path d="M138.0 160.3h0M164.0 158.2h0M75.5 170.1h0M101.9 162.2h0M102.2 166.7h0M142.2 166.0h0M148.8 169.5h0M158.4 168.2h0M159.6 166.2h0M158.3 169.0h0M157.9 163.3h0M166.8 168.8h0M165.0 161.5h0M160.1 168.0h0M166.6 166.9h0M162.8 166.9h0M169.0 167.0h0M172.8 163.0h0M179.5 170.1h0M179.8 170.0h0M177.5 167.3h0M180.1 168.1h0M186.6 168.7h0M185.1 170.2h0M185.9 169.7h0M184.1 166.7h0M104.3 175.8h0M102.5 169.8h0M102.4 177.4h0M101.7 172.3h0M115.4 174.9h0M119.1 172.8h0M114.5 172.1h0M124.6 169.9h0M124.7 172.9h0M120.3 173.1h0M126.1 172.0h0M139.2 177.0h0M138.6 176.7h0M139.5 170.2h0M135.4 178.1h0M131.5 175.0h0M139.8 172.0h0M134.2 171.0h0M135.8 175.9h0M149.8 169.9h0M142.3 179.7h0M146.6 176.2h0M149.0 179.2h0M149.9 170.9h0M155.8 176.3h0M153.2 170.1h0M151.2 171.9h0M155.2 177.0h0M151.0 173.6h0M153.7 178.1h0M157.6 171.9h0M152.7 174.6h0M153.9 178.6h0M160.2 178.1h0M154.0 177.6h0M155.1 170.5h0M168.7 175.8h0M165.6 175.1h0M163.7 171.7h0M163.8 175.5h0M164.8 173.4h0M163.3 170.9h0M166.4 170.4h0M166.4 174.8h0M164.6 172.5h0M177.2 177.9h0M176.5 171.1h0M179.1 179.5h0M175.7 177.8h0M175.5 179.1h0M175.6 172.1h0M179.2 173.2h0M173.0 176.8h0M174.4 178.4h0M172.2 170.0h0M187.8 175.0h0M180.5 175.4h0M182.9 176.8h0M189.4 179.9h0M187.0 170.1h0M183.4 179.6h0M188.1 173.2h0M185.5 173.8h0M104.7 189.2h0M104.6 183.5h0M99.8 182.0h0M112.2 182.9h0M114.7 185.9h0M124.4 180.0h0M120.9 182.5h0M135.4 184.2h0M136.2 185.2h0M144.5 187.2h0M146.1 183.8h0M143.7 182.8h0M156.6 185.3h0M153.4 188.1h0M151.1 189.1h0M160.1 184.4h0M154.3 179.8h0M159.0 182.1h0M165.8 183.5h0M159.8 185.0h0M167.1 181.9h0M160.7 181.3h0M161.9 181.1h0M161.9 183.0h0M178.4 181.8h0M177.2 181.0h0M179.3 187.4h0M175.5 184.2h0M170.3 184.8h0M177.9 187.4h0M190.2 181.3h0M183.3 181.0h0M186.4 181.9h0M112.0 199.0h0M160.2 190.1h0M176.0 192.3h0M170.6 191.4h0M194.5 157.9h0M192.5 165.0h0M193.2 165.1h0M190.6 164.3h0M202.7 161.3h0M210.0 170.1h0M219.5 164.4h0M211.7 164.6h0M211.3 164.1h0M216.1 169.6h0M225.0 168.0h0M226.2 169.9h0M196.9 173.1h0M199.5 174.9h0M193.0 177.7h0M197.0 177.1h0M194.2 171.2h0M193.3 173.4h0M190.0 171.8h0M204.0 179.7h0M205.3 174.0h0M210.2 174.0h0M208.9 178.0h0M202.2 177.9h0M206.6 180.3h0M212.4 177.8h0M218.3 171.8h0M214.5 175.0h0M224.4 176.1h0M228.3 179.6h0M230.3 173.8h0M226.6 179.4h0M237.5 174.7h0M230.0 176.5h0M234.3 171.1h0M238.6 172.3h0M231.3 180.0h0M236.5 170.6h0M241.2 169.8h0M258.0 170.2h0M252.3 172.8h0M269.7 176.0h0M264.7 179.5h0M269.7 177.6h0M260.9 174.2h0M261.1 172.9h0M272.3 177.9h0M272.8 175.8h0M272.3 171.7h0M192.1 190.3h0M198.7 182.7h0M200.6 186.4h0M203.2 188.2h0M206.6 189.6h0M212.4 181.8h0M220.5 182.9h0M224.4 181.8h0M227.7 188.1h0M225.8 188.4h0M233.5 179.8h0M234.4 181.7h0M230.9 189.1h0M234.8 186.6h0M242.6 181.7h0M241.6 181.6h0M253.6 189.1h0M256.3 181.6h0M253.6 184.4h0M255.8 186.1h0M260.5 185.8h0M269.9 187.5h0M283.1 187.9h0M294.3 185.8h0M195.6 193.5h0M227.6 198.5h0M232.1 190.0h0M238.6 190.9h0M244.1 195.6h0M245.2 192.2h0M253.1 195.5h0M254.1 195.2h0M251.1 191.8h0M269.9 195.1h0M287.7 198.9h0M280.8 193.7h0M299.0 198.7h0M293.7 193.6h0M302.5 196.1h0M303.9 191.9h0M285.6 200.2h0M299.7 203.6h0M303.4 202.0h0" stroke="#f0e840" stroke-width="2.4"/><path d="M125.3 177.2h0M151.0 179.6h0M150.1 180.0h0M165.3 179.7h0M159.7 177.7h0M181.3 175.2h0M113.7 188.8h0M136.2 186.2h0M156.5 186.7h0M153.6 185.2h0M156.4 189.5h0M157.0 185.5h0M152.1 182.1h0M160.3 185.3h0M150.9 190.0h0M167.6 181.5h0M167.2 184.6h0M168.1 180.7h0M171.2 185.1h0M173.2 184.7h0M187.9 185.5h0M185.6 184.8h0M181.6 183.9h0M183.9 185.2h0M180.3 189.9h0M191.5 175.3h0M260.2 180.2h0M203.1 183.1h0M213.0 191.3h0M226.6 192.1h0M281.7 197.9h0M300.0 198.7h0M232.2 199.7h0M244.2 203.4h0M270.2 201.4h0M301.5 208.1h0" stroke="#f0f040" stroke-width="2.4"/><path d="M137.7 174.9h0M150.0 178.7h0M143.0 176.9h0M140.9 180.3h0M176.2 170.8h0M181.9 179.6h0M180.4 180.0h0M100.3 187.7h0M110.3 187.1h0M129.4 185.7h0M123.1 184.8h0M130.3 182.9h0M147.5 185.9h0M144.4 184.4h0M160.3 181.0h0M152.1 182.4h0M151.1 190.1h0M163.1 188.4h0M167.7 180.5h0M163.2 181.6h0M166.2 186.6h0M171.9 188.6h0M178.6 182.7h0M173.7 181.4h0M172.9 189.4h0M180.2 187.5h0M178.8 182.9h0M175.0 187.8h0M177.5 189.4h0M184.4 189.8h0M185.9 188.9h0M185.0 185.0h0M185.9 190.2h0M181.8 187.1h0M98.9 190.4h0M95.3 197.2h0M100.3 196.7h0M119.1 197.6h0M120.4 190.8h0M123.6 199.6h0M133.1 195.8h0M143.7 198.0h0M145.1 198.9h0M154.2 191.8h0M156.7 196.6h0M168.4 196.8h0M163.9 193.7h0M164.3 197.7h0M165.0 191.4h0M178.9 197.5h0M179.7 192.8h0M185.3 195.6h0M182.3 190.5h0M189.9 190.4h0M128.4 200.4h0M200.0 182.8h0M190.4 189.3h0M197.0 188.8h0M194.7 188.5h0M203.3 182.5h0M201.0 186.0h0M203.5 190.2h0M207.2 182.0h0M206.4 185.6h0M204.5 180.8h0M204.7 189.0h0M242.0 188.1h0M192.2 189.9h0M195.1 195.8h0M196.4 197.4h0M215.7 190.3h0M220.4 193.5h0M221.7 196.2h0M223.8 198.0h0M231.1 200.3h0M231.6 194.7h0M231.2 190.2h0M234.2 191.1h0M240.3 191.3h0M243.1 198.3h0M257.0 191.6h0M278.3 199.9h0M278.4 194.3h0M223.9 199.7h0M229.3 203.6h0M238.8 207.5h0M239.0 203.1h0M243.0 202.0h0M250.0 205.3h0M253.3 203.0h0M253.2 205.1h0M275.2 202.7h0M297.8 203.5h0M292.5 206.6h0M301.5 202.2h0M234.6 215.9h0M296.3 212.1h0" stroke="#e8f048" stroke-width="2.4"/><path d="M146.7 173.8h0M129.1 189.4h0M161.6 187.6h0M170.5 186.0h0M173.2 188.9h0M180.4 187.2h0M102.8 190.3h0M132.2 197.6h0M146.2 199.6h0M144.7 192.9h0M159.7 199.9h0M155.4 194.2h0M170.9 191.8h0M189.9 187.0h0M191.8 189.5h0M237.5 185.9h0M194.0 190.9h0M190.1 195.5h0M207.5 197.6h0M207.7 194.3h0M221.3 198.1h0M249.9 194.3h0M256.2 192.7h0M256.5 195.1h0M244.9 204.8h0M247.2 209.5h0M258.2 204.8h0M293.5 206.1h0M280.7 210.9h0" stroke="#e0e848" stroke-width="2.4"/><path d="M151.9 178.0h0M112.4 187.4h0M118.1 190.1h0M159.1 180.7h0M159.1 183.2h0M162.5 182.2h0M181.2 187.5h0M121.3 192.1h0M155.3 195.4h0M164.9 190.3h0M162.6 191.2h0M171.0 196.3h0M197.3 175.8h0M193.6 186.0h0M223.2 191.7h0M236.1 192.3h0M246.5 193.4h0M257.8 191.5h0M283.8 213.6h0M297.1 210.6h0" stroke="#f0f048" stroke-width="2.4"/><path d="M131.7 185.7h0M163.7 183.9h0M94.3 191.5h0M95.4 199.1h0M112.1 200.2h0M115.7 198.3h0M121.5 198.5h0M122.0 197.8h0M138.5 197.6h0M135.3 191.3h0M138.7 198.3h0M146.0 189.9h0M156.5 196.4h0M152.0 197.2h0M159.1 199.5h0M159.7 200.2h0M161.1 195.4h0M169.6 198.9h0M175.5 189.9h0M180.7 195.0h0M179.9 197.4h0M122.2 203.8h0M229.0 195.7h0M244.8 193.4h0M198.2 204.5h0M227.7 202.0h0M226.8 209.2h0M228.8 203.2h0M233.3 208.1h0M239.5 200.7h0M236.6 200.1h0M249.2 207.5h0M242.3 201.9h0M255.9 210.2h0M253.4 203.0h0M250.0 206.6h0M292.3 206.9h0M225.4 212.8h0M280.7 216.9h0M299.4 210.3h0M235.0 220.9h0M295.3 220.7h0" stroke="#d8e850" stroke-width="2.4"/><path d="M163.8 187.5h0M180.4 186.7h0M99.7 199.0h0M169.5 196.3h0M166.8 196.4h0M178.7 199.8h0M187.3 197.7h0M181.4 192.7h0M70.2 204.0h0M129.4 208.0h0M139.7 207.8h0M136.8 208.3h0M165.8 204.6h0M165.6 201.7h0M170.3 201.8h0M186.2 206.5h0M184.2 208.6h0M184.9 214.6h0M234.4 200.2h0M227.6 206.3h0M222.3 203.6h0M238.9 203.2h0M233.2 200.4h0M244.9 207.3h0M256.8 210.2h0M255.9 204.5h0M286.5 207.2h0M199.6 211.2h0M225.9 210.2h0M289.1 218.0h0M294.1 218.2h0M291.9 215.4h0M254.1 220.2h0M262.6 223.4h0M293.8 224.3h0" stroke="#d0e850" stroke-width="2.4"/><path d="M181.6 189.2h0M71.0 197.1h0M149.9 196.2h0M167.6 193.5h0M180.2 191.5h0M188.7 195.2h0M181.7 196.2h0M181.2 196.9h0M131.9 202.1h0M183.6 208.0h0M190.1 186.3h0M248.1 195.9h0M221.7 208.4h0M247.5 207.7h0M255.8 204.1h0M256.7 205.6h0" stroke="#e0f048" stroke-width="2.4"/><path d="M188.6 189.8h0M114.5 206.7h0M120.4 210.2h0M227.9 203.4h0" stroke="#c8e850" stroke-width="2.4"/><path d="M94.6 199.6h0M125.9 203.8h0M161.3 200.8h0M98.2 210.3h0M156.0 210.1h0M180.0 215.8h0M221.7 204.8h0M238.3 204.2h0M237.3 219.7h0M239.9 222.1h0M295.1 231.8h0" stroke="#c0e858" stroke-width="2.4"/><path d="M102.3 198.7h0M101.5 198.7h0M111.1 201.8h0M131.2 205.7h0M146.0 202.5h0M106.3 216.9h0M176.8 212.9h0M173.4 218.2h0M193.9 208.4h0M227.0 206.1h0M243.1 203.9h0M245.2 208.7h0M288.8 218.1h0M253.8 222.7h0M258.2 222.2h0M282.6 225.0h0" stroke="#c8e858" stroke-width="2.4"/><path d="M101.3 199.5h0M111.2 206.6h0M120.3 205.5h0M171.7 203.8h0M190.0 213.8h0M159.9 222.4h0M244.7 209.7h0M228.7 220.4h0" stroke="#c0e860" stroke-width="2.4"/><path d="M117.3 194.7h0M175.0 209.4h0M184.0 210.1h0M141.7 225.6h0M146.0 223.8h0M171.5 223.4h0M162.2 232.0h0M193.9 212.9h0M241.0 217.0h0M269.0 218.3h0M212.2 223.7h0M211.9 220.1h0M224.1 229.4h0M237.3 226.3h0M247.8 223.1h0M241.4 222.6h0M260.0 220.0h0M261.1 226.6h0M266.5 230.8h0M269.0 230.2h0M276.7 235.1h0M287.6 231.1h0" stroke="#b0e068" stroke-width="2.4"/><path d="M172.8 198.8h0M170.7 197.9h0M254.6 202.2h0" stroke="#e0e850" stroke-width="2.4"/><path d="M111.7 208.3h0M131.2 201.3h0M174.7 207.6h0M182.9 200.5h0M141.1 223.7h0M166.2 222.9h0M198.3 213.4h0M233.7 219.5h0M247.6 213.0h0M227.2 221.0h0M255.4 220.8h0M263.3 226.4h0M278.7 226.0h0M275.9 229.0h0M286.3 227.9h0" stroke="#b8e860" stroke-width="2.4"/><path d="M180.0 214.6h0M188.9 211.1h0M180.0 221.8h0M178.3 221.4h0M119.2 231.5h0M133.0 231.5h0M240.2 229.8h0M244.4 219.9h0M229.2 234.4h0M285.7 248.0h0" stroke="#a8e070" stroke-width="2.4"/><path d="M174.1 218.4h0M189.4 218.2h0M138.9 224.7h0M150.3 228.6h0M121.2 232.4h0M210.8 229.4h0M266.6 222.6h0M276.9 230.0h0M210.3 234.8h0M244.5 235.5h0M275.7 235.6h0M283.8 231.6h0" stroke="#a8e068" stroke-width="2.4"/><path d="M107.4 228.6h0M130.9 226.7h0M142.9 227.0h0M156.8 229.0h0M164.5 229.2h0M188.7 219.9h0M181.7 220.5h0M118.0 238.5h0M127.4 229.8h0M119.8 232.1h0M143.2 231.8h0M140.2 231.4h0M166.0 240.2h0M215.2 224.8h0M224.2 225.0h0M271.3 229.2h0M285.5 226.4h0M296.3 225.6h0M212.1 237.2h0M213.3 232.5h0M229.4 236.5h0M222.7 233.0h0M254.2 239.3h0M257.9 238.0h0M256.6 235.8h0M269.0 239.1h0M277.5 232.1h0" stroke="#a0e070" stroke-width="2.4"/><path d="M134.2 226.5h0M155.8 228.5h0M155.1 228.4h0M151.8 223.9h0M166.0 228.7h0M160.2 224.8h0M110.2 231.7h0M130.1 238.0h0M124.5 237.2h0M127.7 236.4h0M137.1 233.2h0M129.8 237.5h0M146.7 236.9h0M150.7 235.3h0M172.2 231.4h0M188.8 231.1h0M197.8 222.3h0M242.6 229.4h0M193.4 230.3h0M213.3 233.3h0M210.9 235.6h0M224.1 230.9h0M243.2 233.2h0M273.1 233.6h0M246.1 249.2h0M247.6 243.8h0M255.3 240.3h0M274.7 259.6h0" stroke="#98e078" stroke-width="2.4"/><path d="M136.9 230.2h0M182.6 226.6h0M114.9 237.4h0M116.4 231.8h0M143.7 238.4h0M114.7 240.3h0M215.6 230.5h0M220.1 237.7h0M222.9 232.3h0M228.1 237.5h0M249.7 240.2h0M267.5 234.3h0M282.1 235.9h0M210.1 243.0h0M252.8 247.0h0" stroke="#90e080" stroke-width="2.4"/><path d="M119.7 239.2h0M187.8 236.5h0M154.7 246.6h0M139.0 249.9h0M251.6 229.9h0M242.1 239.1h0M213.3 247.9h0M225.3 243.9h0M224.6 241.0h0M227.6 247.9h0M249.5 248.1h0M274.7 239.9h0M251.4 253.0h0" stroke="#90e088" stroke-width="2.4"/><path d="M119.2 239.4h0M157.7 237.5h0M113.1 240.2h0M120.8 249.9h0M150.3 242.9h0M160.3 242.4h0M183.7 241.5h0M104.1 255.5h0M246.0 231.5h0M196.9 246.5h0M229.5 245.2h0M254.6 242.1h0M258.8 245.6h0M254.0 256.0h0" stroke="#90e090" stroke-width="2.4"/><path d="M122.4 237.2h0M130.9 239.6h0M178.3 237.9h0M112.2 241.2h0M125.8 246.4h0M131.0 247.1h0M163.2 248.3h0M125.2 251.6h0M170.8 251.7h0M184.4 251.9h0M168.2 262.9h0M214.5 235.5h0M249.5 243.7h0M251.7 241.5h0M267.8 259.4h0M261.1 257.9h0M275.4 256.5h0M271.3 252.6h0" stroke="#88e098" stroke-width="2.4"/><path d="M140.0 237.0h0M112.8 248.8h0M125.5 240.0h0M111.8 258.4h0M119.8 256.9h0M130.2 254.8h0M136.5 254.7h0M214.2 240.2h0M210.9 245.6h0M220.1 256.5h0M234.6 253.0h0M259.2 255.9h0M269.9 260.1h0M279.0 259.2h0M232.1 274.8h0" stroke="#88e0a0" stroke-width="2.4"/><path d="M92.9 248.1h0M118.3 256.0h0M182.4 253.7h0M172.9 261.3h0M188.1 267.3h0M177.5 273.5h0M209.9 259.3h0M195.1 261.0h0" stroke="#80d8b8" stroke-width="2.4"/><path d="M119.9 247.4h0M137.7 253.4h0M135.2 253.9h0M132.1 258.9h0M154.9 251.3h0M170.8 258.9h0M184.4 257.0h0M120.0 262.3h0M174.9 267.2h0M189.8 263.7h0M240.2 257.2h0M232.8 254.9h0M196.9 260.0h0M214.0 268.3h0M203.5 270.0h0" stroke="#80d8b0" stroke-width="2.4"/><path d="M137.3 241.6h0M130.1 245.8h0M143.0 253.3h0" stroke="#88e090" stroke-width="2.4"/><path d="M138.9 245.7h0M116.8 252.9h0M127.5 253.4h0M142.7 255.6h0M158.1 253.7h0" stroke="#88e0a8" stroke-width="2.4"/><path d="M160.9 247.0h0M123.6 254.1h0M170.3 254.1h0M222.6 249.7h0M232.5 254.3h0M254.8 258.6h0M265.8 251.2h0M268.0 259.5h0M288.3 258.5h0" stroke="#80d8a8" stroke-width="2.4"/><path d="M129.3 255.2h0M119.6 262.2h0M165.9 261.8h0M172.1 270.0h0M185.9 265.1h0M116.3 278.8h0M177.2 272.7h0M187.1 274.3h0M225.0 268.7h0M204.5 272.2h0M217.8 273.6h0M215.2 279.3h0M222.9 283.2h0" stroke="#78d8c0" stroke-width="2.4"/><path d="M122.3 261.8h0" stroke="#78d8c8" stroke-width="2.4"/><path d="M166.0 268.1h0M103.3 278.1h0M157.3 271.1h0M234.3 268.4h0M200.6 271.1h0M233.3 270.9h0" stroke="#78d8b8" stroke-width="2.4"/><path d="M190.2 269.3h0M117.8 277.1h0M151.2 284.3h0M176.2 281.5h0M170.9 285.8h0M174.1 280.0h0M180.2 283.7h0M119.2 296.6h0M179.9 292.8h0M220.6 265.0h0M219.8 279.8h0M216.0 273.8h0M226.3 277.6h0M191.1 281.8h0M203.3 285.6h0M207.2 279.8h0M209.0 280.2h0M221.8 284.0h0M286.6 286.4h0M196.9 297.4h0" stroke="#68d0d8" stroke-width="2.4"/><path d="M190.1 267.6h0M136.6 270.0h0M136.7 271.0h0M162.0 274.5h0M176.4 277.8h0M178.1 273.0h0M222.4 277.0h0M239.5 273.9h0M233.0 270.5h0M238.3 274.5h0M196.1 280.2h0M200.1 283.2h0M212.3 280.7h0M216.9 281.9h0M215.6 287.2h0M219.7 281.3h0M219.1 282.5h0M226.7 286.6h0M230.2 281.2h0M235.1 281.0h0" stroke="#70d8c8" stroke-width="2.4"/><path d="M147.3 279.7h0M169.2 271.7h0M179.9 273.8h0M185.0 279.1h0M182.1 273.6h0M128.5 287.3h0M155.2 287.9h0M184.7 283.0h0M188.7 284.3h0M108.1 291.6h0M106.9 292.0h0M114.6 290.6h0M150.6 290.7h0M170.2 294.6h0M195.6 290.3h0M197.8 287.4h0M207.0 285.7h0M206.1 288.7h0M217.5 288.2h0M220.8 284.6h0M224.1 282.4h0M221.9 287.8h0M221.9 296.2h0M225.5 294.2h0M237.2 290.8h0" stroke="#60d0e0" stroke-width="2.4"/><path d="M142.1 270.6h0M186.8 272.4h0M181.1 272.9h0M186.1 279.7h0M190.0 278.1h0M192.2 273.8h0M208.9 270.6h0M211.1 275.5h0M220.0 277.7h0M193.1 280.1h0M206.2 284.6h0" stroke="#70d8d0" stroke-width="2.4"/><path d="M170.6 271.4h0M209.6 277.4h0M193.3 280.3h0M222.8 282.6h0" stroke="#68d0d0" stroke-width="2.4"/><path d="M145.7 282.3h0M118.6 294.7h0M116.2 293.5h0M204.3 282.9h0M213.5 283.9h0" stroke="#60c8e0" stroke-width="2.4"/><path d="M171.3 282.0h0M183.4 289.8h0M183.1 285.9h0M103.4 293.1h0M129.2 292.9h0M193.2 288.6h0M203.6 288.3h0M212.5 289.7h0M226.8 286.9h0M236.0 297.7h0M100.0 304.7h0M105.4 301.0h0" stroke="#58c8e0" stroke-width="2.4"/><path d="M169.9 289.9h0M106.8 297.3h0M108.4 299.0h0M126.8 294.2h0M182.1 294.7h0M190.1 289.4h0M214.1 289.4h0M180.2 305.4h0M182.2 306.4h0M181.8 319.7h0" stroke="#58c0e0" stroke-width="2.4"/><path d="M122.8 295.4h0M202.2 333.2h0" stroke="#50b0e8" stroke-width="2.4"/><path d="M124.9 291.7h0M129.4 299.3h0M160.2 307.6h0" stroke="#50c0e8" stroke-width="2.4"/><path d="M170.2 297.3h0M172.9 298.7h0M183.9 300.0h0M187.4 300.2h0M218.6 295.0h0M67.5 302.1h0M108.7 301.8h0M119.5 303.8h0M179.9 302.9h0M189.4 308.1h0M176.1 309.7h0M222.3 306.7h0M231.6 299.7h0" stroke="#50b8e8" stroke-width="2.4"/><path d="M183.8 296.7h0M220.8 279.2h0M197.2 282.2h0M204.9 289.6h0" stroke="#60d0d8" stroke-width="2.4"/><path d="M237.4 208.4h0M235.5 209.8h0" stroke="#b0e060" stroke-width="2.4"/><path d="M229.0 229.2h0" stroke="#98e070" stroke-width="2.4"/><path d="M260.3 235.3h0" stroke="#98e080" stroke-width="2.4"/><path d="M119.2 302.8h0" stroke="#58c0e8" stroke-width="2.4"/><path d="M167.5 317.2h0M236.7 329.5h0M235.7 323.1h0" stroke="#48a0e8" stroke-width="2.4"/><path d="M175.4 316.8h0M182.7 311.7h0M181.3 325.8h0M196.2 331.3h0M237.1 330.9h0M238.2 330.8h0" stroke="#48a8e8" stroke-width="2.4"/><path d="M114.9 329.1h0M177.7 329.4h0M173.5 321.5h0M186.6 321.1h0M237.4 333.9h0" stroke="#4090e8" stroke-width="2.4"/><path d="M179.2 329.1h0M190.1 334.1h0" stroke="#3878e0" stroke-width="2.4"/><path d="M188.3 320.0h0M170.1 334.8h0M173.7 334.3h0M270.0 329.0h0" stroke="#4098e8" stroke-width="2.4"/><path d="M67.4 335.9h0M94.5 344.0h0M172.0 342.1h0M249.7 339.9h0M277.5 340.2h0M284.8 339.8h0M189.9 348.2h0M209.5 344.8h0M206.6 340.7h0M212.4 345.1h0" stroke="#4088e0" stroke-width="2.7"/><path d="M109.8 338.3h0" stroke="#4088e8" stroke-width="2.7"/><path d="M173.7 339.5h0M100.2 341.5h0M195.4 335.3h0M199.5 335.9h0" stroke="#4090e8" stroke-width="2.7"/><path d="M180.7 332.4h0M181.2 333.1h0" stroke="#4078e0" stroke-width="2.4"/><path d="M188.6 335.2h0M110.2 342.7h0M240.1 339.1h0M219.7 343.9h0M227.9 342.6h0M212.3 349.7h0" stroke="#4098e8" stroke-width="2.7"/><path d="M73.1 346.6h0M119.1 345.5h0M117.8 351.4h0M183.3 359.8h0M192.3 349.9h0M193.2 350.3h0M197.1 353.1h0M199.8 355.0h0M195.1 355.9h0M199.7 355.1h0M201.2 358.4h0M198.6 363.2h0M215.4 362.9h0" stroke="#3860d8" stroke-width="2.7"/><path d="M94.4 345.3h0M109.9 347.2h0M116.8 346.3h0M98.1 358.0h0M186.5 356.4h0M209.6 344.0h0M223.5 346.3h0M218.7 360.1h0M204.2 360.4h0" stroke="#3870e0" stroke-width="2.7"/><path d="M104.1 348.0h0M195.4 342.7h0M190.1 343.9h0M206.5 347.8h0M221.2 348.0h0M220.5 349.1h0M227.2 344.0h0M191.2 350.4h0M203.5 353.3h0M213.7 357.4h0" stroke="#4078e0" stroke-width="2.7"/><path d="M101.3 344.7h0M108.1 350.8h0M171.8 363.5h0M200.7 337.4h0M191.5 341.9h0M216.7 340.0h0M216.2 348.6h0M215.1 357.2h0" stroke="#3878e0" stroke-width="2.7"/><path d="M99.8 343.4h0M177.3 353.1h0M141.0 361.9h0M203.6 356.3h0M195.9 364.3h0M208.0 369.1h0M206.2 363.8h0M203.4 367.1h0M217.0 364.2h0M216.2 367.9h0M218.0 371.1h0" stroke="#3058d8" stroke-width="2.7"/><path d="M110.7 340.8h0M206.2 348.4h0M226.7 346.8h0M190.2 355.5h0M203.8 358.9h0M202.1 356.0h0M235.0 351.1h0M191.6 359.7h0" stroke="#3868e0" stroke-width="2.7"/><path d="M172.5 344.0h0M171.1 355.6h0M262.0 335.4h0M194.9 345.6h0M207.1 339.9h0M205.4 344.4h0M211.6 346.2h0" stroke="#4080e0" stroke-width="2.7"/><path d="M93.0 356.1h0M109.5 356.8h0M170.2 359.3h0M170.0 352.8h0M183.4 360.2h0M91.8 361.4h0M103.4 363.2h0M139.3 367.9h0M138.7 364.3h0M170.0 362.2h0M131.4 374.3h0M144.9 370.1h0M178.0 372.9h0M179.2 371.5h0M217.8 357.8h0M210.8 361.7h0M210.9 365.8h0M190.9 372.0h0M213.6 370.7h0M234.3 380.3h0M242.7 370.3h0" stroke="#3050d8" stroke-width="2.7"/><path d="M188.0 358.5h0M134.1 365.7h0M187.8 366.4h0M125.7 375.0h0M137.7 373.5h0M131.6 375.0h0M141.8 371.5h0M99.9 382.9h0M120.6 384.6h0M206.1 369.1h0M219.2 368.8h0M215.4 367.3h0M211.4 375.0h0M213.4 385.8h0" stroke="#2848d0" stroke-width="2.7"/><path d="M70.9 366.6h0M74.3 371.3h0M128.9 380.2h0M125.5 377.8h0M128.1 377.1h0M121.0 372.5h0M126.5 373.4h0M141.1 378.0h0M172.1 374.6h0M181.5 374.4h0M106.2 383.3h0M110.7 384.7h0M119.8 382.9h0M131.4 381.1h0M139.2 379.9h0M130.3 382.8h0M146.1 382.8h0M148.9 387.0h0M165.2 390.3h0M179.0 382.5h0M185.9 383.5h0M114.7 392.5h0M130.1 392.9h0M163.4 396.9h0M162.3 395.3h0M160.8 393.1h0M185.9 390.3h0M185.2 391.8h0M80.0 403.3h0M192.7 375.2h0M199.2 377.5h0M205.5 378.4h0M208.3 376.9h0M214.0 374.7h0M217.8 370.7h0M248.8 376.9h0M196.2 388.8h0M193.0 383.9h0M198.5 382.9h0M192.2 384.6h0M191.6 380.0h0M203.5 386.6h0M202.4 386.5h0M200.3 382.2h0M202.7 385.2h0M213.5 386.5h0M222.6 385.8h0M195.8 399.2h0M211.1 395.6h0M230.0 391.6h0M257.4 392.7h0" stroke="#2840d0" stroke-width="2.7"/><path d="M80.1 368.2h0M72.4 365.3h0M130.6 369.4h0M203.5 378.1h0" stroke="#2848d8" stroke-width="2.7"/><path d="M114.9 366.2h0M142.1 364.0h0M181.1 367.0h0M83.6 373.1h0M137.9 373.2h0M135.8 379.2h0M144.9 373.5h0M146.3 374.6h0M169.8 374.6h0M187.8 373.2h0M182.9 372.0h0M184.7 378.0h0M99.9 390.0h0M172.5 383.8h0M211.8 356.5h0M195.4 360.3h0M198.8 369.4h0M197.8 369.4h0M207.5 367.0h0M198.3 373.8h0M191.0 373.0h0M197.0 379.7h0M200.8 379.7h0M200.5 371.3h0M208.3 377.2h0M210.6 372.5h0M233.3 371.3h0M242.0 375.1h0M205.6 380.5h0M216.4 381.0h0M226.0 386.2h0M255.1 387.0h0" stroke="#3048d8" stroke-width="2.7"/><path d="M144.0 364.0h0M177.2 368.4h0M195.6 346.7h0" stroke="#3060d8" stroke-width="2.7"/><path d="M107.1 374.3h0M137.3 379.8h0M75.3 387.6h0M101.6 389.6h0M115.3 389.8h0M119.0 388.4h0M130.1 385.8h0M139.8 383.2h0M151.0 388.9h0M154.9 387.4h0M169.6 389.1h0M160.6 384.6h0M173.6 381.4h0M172.5 388.9h0M179.4 384.8h0M177.0 390.2h0M170.9 385.1h0M183.8 387.7h0M188.1 388.1h0M181.1 382.4h0M109.6 400.0h0M108.8 398.9h0M118.5 394.3h0M118.6 396.8h0M128.1 398.7h0M148.5 394.9h0M145.9 392.7h0M151.4 394.5h0M163.0 394.5h0M161.7 398.2h0M183.9 392.0h0M183.2 393.7h0M111.4 401.9h0M167.5 406.5h0M175.4 400.0h0M198.3 380.1h0M199.9 383.9h0M198.5 379.7h0M201.2 381.9h0M205.0 385.7h0M239.8 390.0h0M232.9 385.2h0M232.5 388.7h0M193.8 393.9h0M197.1 390.9h0M204.1 390.6h0M212.7 391.2h0M216.9 390.5h0M218.1 390.6h0M214.9 391.0h0M221.3 392.8h0M222.3 392.4h0M223.6 394.7h0M243.0 396.8h0M249.0 391.7h0M253.1 396.9h0M199.2 402.8h0M206.1 400.2h0M212.6 409.4h0M230.3 401.1h0M241.2 402.7h0" stroke="#2838d0" stroke-width="2.7"/><path d="M143.1 377.1h0M114.8 389.6h0M120.5 388.7h0M140.7 388.0h0M172.1 387.2h0M186.7 388.3h0M187.8 386.0h0M183.2 387.4h0M71.8 399.4h0M92.6 393.9h0M91.1 393.0h0M99.4 399.8h0M97.1 399.9h0M106.6 399.9h0M110.3 397.4h0M112.0 398.5h0M121.2 390.2h0M125.4 399.6h0M121.7 394.9h0M134.3 398.1h0M131.3 398.3h0M141.8 398.9h0M153.3 395.2h0M153.6 390.2h0M169.7 395.4h0M166.7 398.4h0M177.9 396.9h0M172.1 400.2h0M172.0 397.9h0M173.3 398.8h0M173.4 395.9h0M173.0 396.3h0M173.4 396.0h0M178.2 394.9h0M188.1 398.1h0M183.9 397.9h0M188.5 399.1h0M186.5 395.1h0M70.4 404.9h0M76.9 405.3h0M85.8 402.0h0M89.9 403.8h0M85.0 405.2h0M99.5 400.4h0M93.3 405.1h0M91.5 403.0h0M90.3 402.7h0M96.5 405.0h0M93.1 406.9h0M102.2 405.2h0M103.6 410.1h0M102.1 409.7h0M106.3 407.5h0M104.2 405.3h0M118.1 409.7h0M119.4 400.4h0M115.5 402.9h0M119.3 400.8h0M122.1 405.2h0M120.5 401.6h0M129.1 405.1h0M123.0 404.9h0M123.5 410.0h0M122.0 405.1h0M131.0 406.2h0M133.3 405.0h0M132.3 400.2h0M137.9 404.0h0M139.0 401.0h0M138.1 401.5h0M145.1 407.5h0M149.8 404.8h0M141.4 405.5h0M140.1 405.0h0M147.3 403.5h0M147.4 408.1h0M159.4 404.0h0M153.7 407.8h0M157.9 404.3h0M150.3 405.2h0M158.7 401.0h0M156.2 403.7h0M169.6 410.2h0M163.1 402.5h0M169.3 406.2h0M168.1 410.0h0M162.1 402.8h0M162.2 401.5h0M168.9 406.9h0M169.8 403.3h0M164.1 402.4h0M170.1 404.5h0M173.4 402.9h0M178.2 408.4h0M172.5 408.3h0M174.8 406.8h0M176.7 402.3h0M177.0 407.0h0M172.4 407.6h0M187.7 405.6h0M181.6 401.1h0M180.7 408.9h0M184.5 405.8h0M187.1 400.6h0M180.9 407.4h0M183.2 406.5h0M185.2 408.3h0M184.0 407.8h0M180.8 402.8h0M80.0 415.5h0M81.3 411.8h0M89.1 415.6h0M100.1 415.9h0M90.8 410.3h0M92.1 411.5h0M106.8 419.8h0M108.4 415.5h0M110.7 410.4h0M117.9 415.0h0M112.2 411.8h0M120.1 417.1h0M126.0 412.1h0M131.6 411.9h0M131.0 414.8h0M149.5 418.1h0M140.6 410.4h0M148.4 410.6h0M141.9 412.0h0M159.6 412.2h0M159.6 419.2h0M155.1 419.7h0M155.2 410.5h0M168.6 419.9h0M167.7 418.0h0M160.3 413.2h0M162.5 415.2h0M163.0 411.2h0M162.7 416.8h0M172.0 410.2h0M179.7 412.7h0M177.7 410.9h0M171.1 411.5h0M177.0 415.6h0M170.2 410.2h0M175.5 414.3h0M173.4 412.4h0M188.2 410.8h0M181.4 417.3h0M181.5 414.1h0M187.4 410.0h0M182.2 410.6h0M186.4 416.5h0M87.3 421.5h0M109.0 424.5h0M158.2 420.5h0M159.8 423.6h0M181.2 421.6h0M203.0 389.8h0M194.5 398.5h0M198.2 393.4h0M197.9 398.8h0M193.2 395.7h0M199.1 400.0h0M206.2 390.8h0M205.8 399.5h0M203.0 399.3h0M201.4 394.9h0M204.8 396.7h0M204.6 391.6h0M205.6 393.9h0M220.0 399.6h0M216.5 393.0h0M211.1 397.3h0M228.2 398.3h0M229.8 396.6h0M221.1 399.6h0M226.1 397.3h0M240.5 398.5h0M254.1 399.4h0M194.0 405.8h0M195.9 408.1h0M192.1 410.2h0M189.8 408.3h0M191.4 400.7h0M204.1 402.6h0M201.9 405.8h0M201.7 409.2h0M203.7 405.6h0M210.1 403.7h0M212.4 404.0h0M219.6 401.2h0M217.9 409.2h0M219.7 401.6h0M226.5 400.4h0M224.3 400.4h0M220.9 401.9h0M221.4 408.9h0M227.1 404.3h0M231.7 400.6h0M235.6 400.4h0M235.7 405.0h0M234.0 408.7h0M237.5 407.2h0M237.9 400.6h0M243.5 401.7h0M245.8 405.0h0M248.3 406.5h0M242.9 403.4h0M242.8 407.9h0M199.5 415.5h0M199.5 413.2h0M198.7 415.1h0M192.8 416.0h0M194.5 411.4h0M197.0 414.7h0M195.3 414.5h0M195.8 414.7h0M190.9 410.3h0M201.0 410.1h0M199.8 411.7h0M201.9 413.7h0M203.8 415.3h0M201.8 413.3h0M208.1 417.1h0M208.1 417.1h0M200.9 412.8h0M219.6 411.3h0M217.6 416.4h0M215.0 419.3h0M217.3 419.6h0M213.9 418.7h0M217.3 414.9h0M223.5 414.7h0M226.0 411.3h0M225.2 413.5h0M225.3 412.9h0M226.1 412.9h0M234.5 416.2h0M237.9 410.2h0M236.2 411.1h0M237.4 412.5h0M243.9 419.0h0M245.2 417.8h0M253.0 414.1h0M249.9 411.3h0M200.1 426.6h0M210.8 420.4h0M225.6 426.3h0M221.0 420.6h0M237.2 425.2h0M230.8 424.8h0M239.3 420.0h0M241.6 420.5h0M244.4 422.9h0M243.6 422.0h0M254.6 427.0h0M250.3 427.7h0M267.6 420.5h0M265.4 428.4h0M268.4 429.4h0M280.2 430.1h0M276.0 423.7h0M273.9 424.3h0M292.1 428.9h0M209.0 433.8h0M295.4 435.8h0M300.0 429.8h0" stroke="#2030d0" stroke-width="2.7"/><path d="M184.1 387.8h0M159.1 392.9h0M166.6 393.7h0M114.0 408.2h0M245.2 391.9h0M218.0 406.9h0" stroke="#2038d0" stroke-width="2.7"/><path d="M178.7 408.4h0M84.3 414.9h0M98.5 416.0h0M105.0 419.5h0M113.1 419.4h0M121.8 419.5h0M137.6 414.2h0M129.8 413.4h0M169.3 413.0h0M168.9 414.6h0M162.8 416.6h0M172.8 417.4h0M169.9 414.0h0M172.7 418.3h0M177.0 414.2h0M176.6 418.9h0M187.5 417.9h0M181.8 418.6h0M189.4 416.1h0M183.6 419.0h0M188.0 417.4h0M181.4 420.2h0M86.9 424.5h0M84.2 420.8h0M88.3 428.4h0M98.2 419.8h0M96.9 430.1h0M92.0 425.0h0M89.8 429.3h0M101.6 428.5h0M104.3 428.1h0M106.2 424.3h0M118.9 428.1h0M114.4 420.2h0M112.8 419.8h0M128.9 422.5h0M127.0 426.7h0M122.0 428.4h0M123.8 422.9h0M137.9 429.9h0M133.0 427.0h0M134.6 429.8h0M145.7 425.8h0M145.0 428.0h0M145.6 423.4h0M141.6 423.4h0M154.7 423.9h0M156.0 429.7h0M168.2 422.5h0M169.6 424.3h0M167.5 426.8h0M160.7 424.3h0M163.4 426.3h0M164.8 425.5h0M160.1 423.1h0M163.5 422.6h0M163.6 427.0h0M172.8 427.4h0M176.6 422.9h0M173.7 428.2h0M179.3 421.3h0M175.7 429.2h0M176.4 429.0h0M175.4 423.5h0M175.3 422.4h0M170.9 422.1h0M170.7 427.0h0M185.2 424.6h0M183.2 425.2h0M187.1 424.8h0M187.3 423.8h0M182.7 427.3h0M184.5 424.2h0M180.6 430.1h0M181.0 421.3h0M70.5 435.5h0M72.5 438.2h0M77.6 430.3h0M78.9 437.6h0M82.3 431.4h0M89.7 438.6h0M82.7 432.6h0M88.1 431.7h0M95.9 433.9h0M97.9 439.9h0M99.2 440.1h0M102.9 434.5h0M109.5 438.0h0M100.9 433.9h0M113.0 429.8h0M116.7 431.5h0M110.4 430.2h0M111.9 435.0h0M127.0 431.1h0M121.8 439.3h0M129.6 439.9h0M127.1 439.3h0M132.8 438.2h0M137.2 435.2h0M138.4 435.6h0M134.8 439.3h0M147.0 435.3h0M142.7 431.5h0M148.9 440.0h0M142.3 436.1h0M152.4 438.5h0M153.6 434.5h0M150.1 430.1h0M170.1 433.0h0M160.7 438.9h0M162.9 431.0h0M162.0 437.8h0M167.4 435.8h0M166.9 431.8h0M168.6 432.1h0M168.0 438.5h0M178.3 432.0h0M169.9 435.9h0M177.3 436.0h0M173.5 439.5h0M170.9 435.8h0M177.0 435.2h0M176.4 430.2h0M177.7 436.2h0M182.7 439.7h0M185.9 435.5h0M186.4 435.6h0M186.2 438.0h0M189.9 432.7h0M184.3 437.5h0M183.0 435.3h0M184.8 434.0h0M86.3 440.9h0M81.8 440.8h0M82.3 440.3h0M92.6 441.7h0M98.7 445.8h0M92.4 439.9h0M98.5 447.8h0M99.6 442.5h0M97.1 449.4h0M91.2 441.6h0M108.8 441.4h0M102.1 446.2h0M106.6 440.2h0M102.9 448.0h0M104.0 443.4h0M113.2 440.6h0M114.8 450.3h0M116.6 444.1h0M114.9 442.3h0M117.2 443.1h0M110.5 450.0h0M111.5 440.2h0M141.3 444.2h0M150.0 440.1h0M148.2 448.3h0M154.8 443.1h0M151.6 449.1h0M167.1 447.4h0M169.3 449.5h0M163.7 440.8h0M176.1 443.6h0M180.8 442.9h0M185.9 444.6h0M186.3 449.6h0M193.3 411.1h0M203.2 411.1h0M206.1 414.0h0M207.8 415.9h0M225.8 414.9h0M234.6 419.3h0M239.6 417.4h0M197.3 420.7h0M192.0 429.5h0M195.6 424.6h0M199.0 428.8h0M194.4 430.2h0M190.9 424.8h0M190.7 428.3h0M199.5 427.6h0M191.2 419.9h0M197.1 427.0h0M207.8 423.4h0M204.5 427.0h0M207.0 426.6h0M208.0 427.7h0M206.4 426.0h0M210.0 422.4h0M206.7 427.7h0M203.4 421.4h0M208.2 425.2h0M210.1 426.6h0M216.4 422.2h0M219.5 426.6h0M216.9 422.0h0M213.7 426.9h0M218.3 429.7h0M226.3 428.4h0M228.7 423.4h0M228.7 423.4h0M239.9 429.7h0M231.0 427.2h0M230.8 429.2h0M240.4 424.2h0M258.5 428.1h0M258.4 426.6h0M272.3 428.4h0M199.6 439.3h0M197.8 436.9h0M195.6 429.7h0M193.1 431.7h0M194.4 433.1h0M198.0 436.5h0M191.7 434.5h0M190.5 437.5h0M200.5 438.4h0M206.1 432.3h0M199.9 433.6h0M203.2 438.7h0M202.7 439.2h0M200.1 438.1h0M208.8 431.1h0M212.8 431.4h0M216.5 440.2h0M212.5 431.1h0M212.7 438.4h0M226.1 433.9h0M228.9 431.2h0M224.9 437.0h0M237.0 431.6h0M230.7 432.8h0M233.8 435.0h0M250.2 434.8h0M248.5 438.3h0M240.6 439.3h0M250.0 439.5h0M251.6 432.4h0M250.7 435.9h0M258.6 438.9h0M255.8 438.9h0M259.7 440.2h0M262.5 435.2h0M261.0 440.2h0M274.9 433.1h0M280.1 437.7h0M271.3 436.6h0M280.0 435.0h0M290.7 434.5h0M295.4 436.8h0M302.2 434.9h0M300.7 437.8h0M192.5 443.4h0M190.9 441.1h0M201.8 450.0h0M208.2 442.3h0M216.0 445.5h0M222.9 443.2h0M226.3 447.6h0M220.4 446.1h0M229.6 444.9h0M240.0 444.0h0M230.1 442.6h0M242.9 447.2h0M257.9 445.4h0M268.9 444.4h0M277.1 449.1h0M270.2 443.3h0M97.0 458.9h0M114.7 460.9h0M168.0 462.0h0M232.8 450.2h0M241.0 458.3h0M258.4 456.0h0M255.6 452.8h0" stroke="#2030c8" stroke-width="2.7"/><path d="M83.4 449.4h0M87.8 444.9h0M86.9 448.6h0M84.3 441.9h0M85.3 450.2h0M93.1 450.1h0M102.0 446.4h0M103.0 449.2h0M101.7 449.0h0M119.5 446.2h0M122.3 449.7h0M131.2 448.0h0M130.2 448.2h0M133.4 447.0h0M145.9 446.2h0M160.3 441.2h0M167.3 449.9h0M174.3 450.1h0M177.2 442.5h0M183.2 448.0h0M197.2 447.1h0M199.9 447.8h0M213.3 449.9h0M216.2 442.8h0M95.8 453.7h0M98.4 458.8h0M93.5 452.2h0M104.0 457.1h0M100.1 456.9h0M104.4 457.8h0M101.7 456.6h0M110.5 458.3h0M115.8 458.5h0M110.0 459.6h0M113.0 456.5h0M137.8 458.2h0M139.3 454.0h0M136.0 456.8h0M138.5 456.4h0M148.6 450.8h0M143.9 458.7h0M140.1 457.2h0M153.4 454.6h0M157.5 450.5h0M166.8 456.3h0M179.6 454.8h0M119.7 468.6h0M130.1 462.6h0M144.0 459.8h0M146.9 470.1h0M140.9 463.6h0M150.0 469.9h0M156.4 464.8h0M158.2 462.2h0M156.3 465.7h0M159.9 469.1h0M163.5 467.3h0M163.9 479.8h0M184.5 480.4h0M190.0 490.6h0M184.7 497.1h0M217.1 454.1h0M219.9 458.7h0M214.4 453.3h0M211.3 451.6h0M237.0 459.3h0M237.0 459.9h0M236.0 453.6h0M242.7 456.9h0M247.4 454.8h0M252.2 459.6h0M219.0 461.5h0M199.1 476.2h0M190.9 475.6h0M190.5 479.3h0M193.8 474.8h0M200.5 473.4h0M209.0 475.4h0M206.8 476.8h0M210.9 479.9h0M216.9 470.9h0M214.1 478.1h0M212.8 476.9h0M221.0 477.7h0M226.2 473.5h0M230.2 471.6h0M228.5 480.1h0M205.9 480.8h0M190.7 490.9h0" stroke="#2028c8" stroke-width="2.7"/><path d="M204.8 320.0h0M245.9 329.5h0M245.5 319.7h0" stroke="#48b0e8" stroke-width="2.4"/><path d="M240.1 337.3h0M218.6 343.5h0" stroke="#48a0e8" stroke-width="2.7"/></g><g fill="none" stroke-linecap="round"><path d="M520.0 12.2h0M511.6 15.8h0M515.0 11.7h0M525.1 12.1h0M528.1 18.0h0M522.4 12.1h0M508.2 29.6h0M504.3 23.2h0M503.7 19.7h0M510.2 19.7h0M526.9 22.2h0M524.0 27.3h0M521.1 19.9h0M530.1 22.7h0M530.0 24.1h0M530.4 21.1h0M515.7 29.9h0M513.0 34.7h0M526.2 30.5h0M559.7 34.3h0M557.7 31.9h0M511.6 40.1h0M529.7 40.7h0" stroke="#d84838" stroke-width="2.2"/><path d="M491.0 22.5h0M503.3 26.2h0M501.3 23.8h0M515.0 28.3h0M511.6 28.4h0M517.8 27.0h0M517.9 23.2h0M524.8 28.4h0M496.2 39.8h0M497.2 38.1h0M492.8 30.9h0M492.0 33.4h0M508.2 32.2h0M509.2 38.8h0M504.1 32.3h0M499.8 31.4h0M506.5 35.0h0M509.9 36.8h0M513.1 37.4h0M513.8 30.3h0M515.9 39.6h0M516.7 39.9h0M517.2 33.3h0M523.9 36.2h0M520.9 35.9h0M529.0 33.2h0M526.2 32.1h0M525.9 32.2h0M539.5 35.1h0M531.5 35.5h0M531.2 36.5h0M531.5 30.1h0M538.9 31.2h0M530.0 38.0h0M541.4 37.6h0M539.8 39.8h0M541.0 38.2h0M560.1 32.3h0M564.6 31.5h0M567.6 34.1h0M484.0 41.0h0M490.2 47.4h0M490.7 43.8h0M493.1 39.8h0M494.2 43.6h0M504.2 42.9h0M508.0 49.2h0M504.3 41.0h0M502.8 41.6h0M509.0 49.4h0M504.2 43.7h0M506.3 40.7h0M504.5 47.7h0M509.3 44.1h0M509.8 40.5h0M515.7 44.0h0M512.7 46.5h0M513.6 41.1h0M514.8 40.5h0M524.9 49.2h0M529.5 42.3h0M520.0 47.0h0M531.3 43.2h0M537.2 48.0h0M530.0 44.8h0M530.3 42.2h0M536.0 41.6h0M531.9 44.8h0M535.8 40.2h0M536.5 46.8h0M540.6 43.1h0M548.0 39.9h0M541.9 40.9h0M543.4 49.9h0M550.9 40.2h0M557.0 48.0h0M551.8 40.5h0M550.8 49.4h0M557.3 42.2h0M565.7 46.2h0M567.7 45.3h0M561.9 43.0h0M502.3 50.8h0M580.0 34.2h0M618.9 37.6h0M575.9 41.9h0M575.4 47.2h0M577.4 41.1h0M594.2 46.6h0M595.4 44.0h0M596.2 43.3h0M594.7 45.5h0M590.7 40.1h0M597.5 44.0h0M594.4 40.7h0M591.0 41.3h0M595.4 40.8h0M603.8 45.2h0M606.7 43.3h0M609.3 43.8h0M600.2 42.7h0M605.3 43.0h0M609.3 42.7h0M604.4 40.5h0M605.1 42.5h0M619.8 42.3h0M615.1 43.0h0M619.1 41.0h0M611.3 49.4h0M615.6 39.9h0M622.5 49.5h0M621.2 43.9h0M627.4 41.9h0M623.1 41.0h0M624.8 43.8h0M619.9 47.0h0M621.2 42.0h0M580.1 52.2h0M591.7 58.0h0M597.3 58.0h0M604.6 53.4h0" stroke="#d85038" stroke-width="2.2"/><path d="M520.0 29.4h0M500.8 40.1h0M510.9 40.2h0M528.6 37.4h0M538.6 31.0h0M545.4 40.1h0M554.2 36.8h0M499.4 46.9h0M494.5 44.7h0M496.6 44.8h0M499.1 41.8h0M497.2 46.8h0M508.3 43.1h0M504.0 48.8h0M506.6 43.8h0M515.1 49.0h0M510.0 47.9h0M520.0 46.4h0M515.5 40.1h0M512.3 47.1h0M516.9 44.3h0M514.5 48.9h0M519.8 40.9h0M525.7 44.1h0M525.7 49.3h0M529.9 49.3h0M529.5 49.8h0M523.5 41.6h0M522.2 43.4h0M526.0 44.8h0M525.1 42.9h0M534.0 45.1h0M549.2 49.9h0M569.8 41.5h0M562.0 47.1h0M563.3 41.8h0M560.4 44.4h0M561.2 44.7h0M532.5 50.1h0M552.7 54.6h0M560.8 53.5h0M569.4 49.8h0M563.7 50.1h0M569.7 66.7h0M575.0 50.3h0M591.5 45.1h0M599.1 50.0h0M598.5 40.0h0M596.2 47.4h0M592.0 47.8h0M606.2 47.5h0M604.7 40.9h0M605.2 44.9h0M619.2 48.5h0M615.5 42.4h0M617.4 42.7h0M612.4 49.0h0M623.9 50.2h0M628.6 47.5h0M625.9 48.2h0M627.5 42.5h0M621.9 40.2h0M622.6 48.5h0M619.7 49.9h0M624.5 46.1h0M623.4 45.2h0M618.7 59.6h0M630.2 59.6h0M627.1 53.2h0M625.5 64.3h0" stroke="#e05840" stroke-width="2.2"/><path d="M503.3 36.6h0M490.3 45.0h0M496.8 40.6h0M505.0 42.3h0M503.9 41.3h0M519.3 44.5h0M511.1 44.8h0M512.9 44.7h0M519.7 46.3h0M528.2 47.9h0M523.4 48.2h0M520.5 44.7h0M537.4 47.9h0M537.8 39.9h0M533.9 45.1h0M536.8 45.0h0M533.8 43.1h0M558.4 48.3h0M558.9 44.6h0M515.2 54.9h0M569.7 50.4h0M570.1 44.8h0M606.4 49.9h0M606.6 50.2h0M618.2 41.7h0M620.8 49.4h0M608.9 52.4h0M612.6 50.1h0" stroke="#d85838" stroke-width="2.2"/><path d="M496.0 40.1h0M493.9 43.1h0M495.0 47.3h0M492.1 44.3h0M490.1 45.1h0M494.9 48.1h0M490.5 45.2h0M509.5 45.5h0M509.1 49.4h0M508.6 49.9h0M505.3 50.2h0M516.5 50.1h0M514.8 41.9h0M529.2 50.1h0M529.2 50.3h0M533.3 48.1h0M540.0 50.0h0M534.6 44.7h0M549.1 43.6h0M549.2 47.5h0M547.0 41.4h0M557.1 43.2h0M561.3 49.3h0M499.4 55.4h0M504.9 52.1h0M507.7 53.0h0M526.1 51.8h0M537.5 57.8h0M532.2 57.4h0M549.4 58.0h0M550.1 57.6h0M559.1 54.9h0M552.9 60.3h0M558.8 58.2h0M566.4 59.0h0M506.7 63.4h0M549.8 60.3h0M549.7 62.9h0M509.3 73.1h0M589.8 47.5h0M597.8 48.9h0M607.4 47.4h0M601.1 41.8h0M609.3 41.2h0M603.4 42.7h0M610.5 45.2h0M611.3 48.8h0M611.8 47.3h0M618.0 42.2h0M619.7 49.1h0M619.4 47.1h0M623.2 48.9h0M577.1 51.8h0M588.6 55.4h0M587.4 51.5h0M584.9 50.6h0M597.5 54.1h0M593.2 53.6h0M609.7 55.3h0M605.4 55.0h0M607.9 57.1h0M604.9 51.8h0M623.8 51.5h0M624.1 53.5h0M578.3 60.4h0" stroke="#e06040" stroke-width="2.2"/><path d="M491.1 48.5h0M518.3 50.0h0M523.0 49.2h0M531.1 46.2h0M541.4 45.8h0M550.4 48.1h0M490.2 55.1h0M498.4 57.8h0M495.7 57.5h0M495.8 59.0h0M507.1 57.7h0M500.8 56.6h0M510.2 50.1h0M511.6 50.8h0M515.6 54.2h0M521.8 55.7h0M527.1 50.6h0M523.3 59.7h0M529.8 58.2h0M531.4 59.9h0M544.4 57.6h0M546.8 60.2h0M495.9 61.3h0M498.7 65.9h0M497.6 65.1h0M500.1 65.4h0M507.1 64.5h0M511.1 62.8h0M511.9 65.3h0M533.1 60.1h0M533.4 66.3h0M543.1 63.8h0M556.6 66.7h0M558.7 68.2h0M570.0 60.7h0M500.1 70.8h0M559.5 73.4h0M579.0 50.1h0M589.8 44.1h0M575.8 55.6h0M580.3 60.2h0M570.2 55.1h0M585.0 56.3h0M596.3 60.3h0M595.5 52.2h0M612.0 56.6h0M611.4 53.9h0M627.0 57.6h0M579.2 69.6h0M585.8 59.8h0M623.9 60.7h0M619.9 65.6h0M632.6 61.4h0M587.5 73.5h0" stroke="#e06840" stroke-width="2.2"/><path d="M520.0 47.8h0M518.2 57.5h0M510.7 65.2h0M525.6 59.9h0M539.8 66.9h0M553.2 65.7h0M500.3 74.3h0M532.5 72.7h0M589.6 59.4h0M589.0 60.2h0M576.0 62.3h0M624.7 64.0h0M572.4 70.2h0" stroke="#e07040" stroke-width="2.2"/><path d="M515.5 55.4h0M510.6 55.6h0M521.9 55.3h0M533.8 51.1h0M546.1 59.6h0M557.5 55.1h0M566.0 59.3h0M492.9 65.8h0M513.2 61.6h0M529.4 64.9h0M521.7 69.5h0M520.9 65.9h0M531.0 62.2h0M533.4 60.1h0M543.6 64.6h0M543.2 66.1h0M505.4 72.0h0M506.9 75.0h0M521.3 75.2h0M531.1 71.3h0M558.4 80.9h0M564.9 83.2h0M614.0 48.9h0M616.4 58.4h0M582.7 68.4h0M639.9 65.2h0M579.0 73.5h0M582.5 83.7h0" stroke="#e07048" stroke-width="2.2"/><path d="M489.8 69.0h0M524.7 68.9h0M548.8 68.3h0M558.1 69.4h0M481.0 73.1h0M498.5 77.3h0M510.1 76.1h0M517.5 78.3h0M515.1 70.5h0M523.1 75.3h0M526.7 72.1h0M529.8 73.7h0M530.1 70.0h0M536.1 76.4h0M549.2 76.6h0M543.9 79.2h0M570.1 75.9h0M566.1 74.4h0M491.2 83.3h0M492.0 82.1h0M556.5 81.4h0M583.7 64.1h0M635.8 69.9h0M586.7 71.0h0" stroke="#e87848" stroke-width="2.2"/><path d="M499.0 60.8h0M560.1 61.2h0M564.0 70.2h0M507.8 71.9h0M534.1 74.2h0M557.2 70.1h0M552.7 75.1h0M529.1 80.5h0M573.2 67.0h0M575.9 69.1h0M576.5 61.8h0M585.6 69.9h0M639.3 63.6h0M584.7 78.5h0" stroke="#e07848" stroke-width="2.2"/><path d="M504.5 65.2h0M528.0 65.2h0M533.6 68.7h0M568.4 61.8h0M496.8 77.9h0M566.5 70.2h0M494.3 88.8h0M504.6 86.4h0M523.7 86.0h0M523.8 87.5h0M529.9 81.8h0M534.1 82.4h0M539.8 86.9h0M541.2 86.9h0M545.7 82.4h0M542.3 83.1h0M552.2 81.3h0M553.4 86.7h0M561.7 82.8h0M476.8 93.8h0M548.5 97.1h0M555.4 98.0h0M555.7 89.9h0M567.5 90.3h0M547.4 99.9h0M555.2 101.0h0M584.4 70.0h0M574.9 80.6h0M576.9 80.4h0M576.6 89.8h0M574.5 89.2h0M572.2 90.0h0M585.3 90.0h0M587.9 85.7h0M585.5 83.0h0M584.8 81.1h0M585.5 81.3h0M583.2 85.0h0M609.8 84.6h0M629.2 85.4h0M626.7 85.4h0M640.2 85.9h0M634.8 81.5h0M578.3 93.6h0M581.1 95.9h0M600.7 96.6h0M611.1 97.9h0M578.6 106.0h0" stroke="#e88848" stroke-width="2.2"/><path d="M509.7 63.7h0M502.7 69.9h0M516.7 70.0h0M548.7 66.8h0M562.4 64.2h0M569.2 69.7h0M489.9 78.3h0M490.1 70.9h0M496.4 71.0h0M512.1 78.5h0M516.1 78.4h0M514.3 78.0h0M529.5 78.8h0M520.6 77.8h0M548.3 77.8h0M546.1 73.5h0M549.3 74.6h0M555.0 76.2h0M551.0 80.1h0M563.1 71.2h0M500.2 89.1h0M523.7 80.4h0M532.1 84.2h0M549.7 82.6h0M566.2 80.2h0M616.9 59.6h0M582.6 66.1h0M571.9 75.5h0M583.6 79.9h0M582.3 75.0h0M634.2 78.7h0M575.8 87.8h0M576.3 81.3h0M571.5 84.1h0M579.4 83.0h0M589.4 84.5h0M588.9 86.1h0M639.7 83.9h0M572.3 91.1h0M583.7 93.3h0M599.6 92.7h0M595.6 90.2h0M618.3 93.3h0" stroke="#e88048" stroke-width="2.2"/><path d="M523.8 77.1h0M559.4 77.4h0M560.7 74.7h0M566.2 80.2h0M505.7 86.5h0M545.1 88.6h0M564.6 86.3h0M492.1 96.2h0M526.3 90.3h0M532.0 90.1h0M533.6 89.9h0M533.5 97.8h0M547.6 94.7h0M547.8 97.9h0M551.9 94.7h0M536.4 99.8h0M540.8 100.4h0M572.7 75.8h0M573.6 78.5h0M572.6 81.1h0M581.7 82.8h0M579.7 83.7h0M580.8 84.3h0M588.8 86.4h0M577.2 91.8h0M575.9 96.6h0M571.8 92.2h0M588.4 97.5h0M580.5 98.0h0M606.7 90.9h0M616.0 90.3h0M612.0 100.2h0M579.9 106.3h0" stroke="#e89048" stroke-width="2.2"/><path d="M552.6 86.6h0M462.1 94.5h0M525.5 91.4h0M523.5 99.4h0M560.5 99.1h0M527.0 103.1h0M529.7 100.5h0M521.9 100.9h0M521.5 110.1h0M530.5 106.4h0M532.1 107.4h0M535.4 100.3h0M546.0 102.8h0M544.1 99.8h0M549.9 101.7h0M546.8 100.8h0M542.5 107.6h0M546.6 102.3h0M551.1 102.0h0M552.0 104.4h0M550.7 105.7h0M554.8 104.4h0M553.4 107.1h0M555.4 106.1h0M557.8 103.0h0M468.0 115.5h0M514.6 112.0h0M540.0 113.0h0M547.5 118.0h0M621.7 89.1h0M583.7 93.2h0M591.6 96.8h0M592.3 99.4h0M599.3 95.8h0M600.0 100.3h0M623.0 98.5h0M573.1 104.9h0M574.8 102.5h0M574.3 102.6h0M575.5 106.0h0M579.9 103.0h0M584.5 102.6h0M584.3 106.7h0M596.2 110.3h0M626.5 105.6h0M571.2 111.4h0M584.5 115.7h0" stroke="#f0a048" stroke-width="2.2"/><path d="M569.9 86.9h0M526.3 92.4h0M524.3 99.5h0M535.5 96.4h0M544.3 92.0h0M545.5 96.2h0M540.7 99.5h0M551.5 96.3h0M550.3 96.9h0M559.5 99.6h0M567.6 98.5h0M485.0 102.3h0M489.7 104.8h0M521.1 104.9h0M519.9 104.2h0M537.6 106.4h0M536.2 102.6h0M532.2 101.4h0M536.5 100.3h0M547.7 99.9h0M569.8 100.1h0M556.6 110.3h0M553.5 110.0h0M560.3 111.0h0M577.8 89.8h0M579.2 86.7h0M629.2 86.7h0M637.8 82.3h0M575.5 94.5h0M573.3 91.0h0M589.2 91.3h0M587.5 97.2h0M586.1 91.1h0M580.3 92.8h0M597.6 99.0h0M599.3 96.4h0M608.7 94.0h0M617.2 98.0h0M612.6 98.2h0M576.4 100.2h0M575.3 101.9h0M587.0 101.1h0M585.3 106.7h0M587.0 100.4h0" stroke="#e89848" stroke-width="2.2"/><path d="M524.1 98.0h0M481.9 105.0h0M560.8 107.5h0M562.9 107.1h0M527.2 112.3h0M543.2 118.0h0M558.6 111.5h0M598.9 99.2h0M584.1 107.6h0" stroke="#e8a048" stroke-width="2.2"/><path d="M535.1 96.2h0M532.2 96.4h0M567.3 95.6h0M568.1 98.8h0M562.4 99.7h0M530.0 103.5h0M524.0 101.0h0M527.5 103.4h0M525.3 100.8h0M536.1 109.1h0M539.2 101.0h0M534.2 106.9h0M538.4 101.7h0M547.1 103.4h0M540.6 102.6h0M556.2 99.9h0M550.4 103.6h0M562.8 101.3h0M565.0 107.6h0M561.3 101.5h0M561.4 107.9h0M567.5 106.4h0M568.4 107.9h0M485.3 113.0h0M519.2 111.7h0M519.6 113.1h0M525.5 119.3h0M525.3 112.9h0M540.1 113.7h0M529.7 115.5h0M541.6 110.8h0M554.9 113.4h0M552.7 110.4h0M550.0 113.4h0M567.5 115.8h0M569.1 114.4h0M559.8 114.2h0M576.5 94.1h0M573.8 99.9h0M593.8 99.7h0M608.6 96.4h0M609.3 98.3h0M577.2 101.5h0M589.5 107.6h0M586.8 104.7h0M596.4 106.7h0M577.8 113.7h0M584.5 116.2h0M594.0 114.7h0M606.6 117.4h0M628.7 112.1h0" stroke="#f0a848" stroke-width="2.2"/><path d="M461.7 103.0h0M480.2 101.8h0M511.0 106.0h0M522.4 109.9h0M522.8 108.3h0M539.3 108.7h0M546.6 106.6h0M548.2 107.8h0M556.6 109.6h0M558.1 109.9h0M553.2 106.3h0M568.5 105.9h0M563.2 105.9h0M567.7 103.7h0M564.8 103.7h0M462.6 110.1h0M470.7 116.7h0M494.3 116.1h0M516.6 116.5h0M514.5 110.1h0M513.9 114.9h0M528.8 109.7h0M528.9 115.6h0M533.5 116.8h0M531.7 118.6h0M534.4 111.7h0M534.5 119.3h0M537.4 113.4h0M536.8 112.9h0M541.5 110.3h0M539.9 111.0h0M547.0 118.7h0M545.0 114.0h0M555.1 116.2h0M550.8 112.2h0M552.1 115.5h0M564.8 112.9h0M564.7 120.2h0M484.0 120.2h0M487.6 125.9h0M489.0 121.1h0M508.2 125.2h0M514.8 121.2h0M526.9 120.1h0M524.0 119.7h0M531.0 128.5h0M580.0 106.7h0M573.0 103.8h0M573.1 105.2h0M587.9 109.1h0M585.3 102.7h0M587.4 106.6h0M586.4 120.2h0M588.7 116.0h0M592.9 120.3h0M602.4 119.1h0M623.4 114.7h0M597.2 129.0h0M595.9 122.3h0M603.9 120.9h0" stroke="#f0b048" stroke-width="2.2"/><path d="M529.2 104.4h0M481.3 115.4h0M495.2 119.3h0M510.9 116.4h0M511.2 114.4h0M510.0 116.9h0M516.4 110.2h0M516.8 119.6h0M528.7 114.9h0M519.9 119.0h0M526.8 115.7h0M529.4 115.5h0M525.1 116.8h0M535.9 118.2h0M530.9 116.7h0M538.0 117.7h0M541.2 119.5h0M548.7 114.5h0M546.2 113.4h0M547.9 116.3h0M553.8 114.1h0M550.8 113.6h0M560.6 118.4h0M569.0 114.4h0M568.4 112.2h0M566.0 114.7h0M494.8 128.8h0M500.7 121.8h0M506.1 124.0h0M521.4 127.7h0M534.6 123.8h0M546.2 126.8h0M542.7 125.8h0M551.9 123.1h0M552.6 120.9h0M543.6 133.8h0M583.9 109.1h0M577.8 120.2h0M573.5 113.4h0M598.8 119.2h0M589.9 119.0h0M601.4 115.4h0M602.8 111.8h0M600.4 117.3h0M570.5 119.8h0M573.3 122.4h0M570.9 125.0h0M587.3 125.1h0M585.2 127.6h0M600.5 129.2h0M600.0 124.4h0M602.8 127.9h0M615.2 130.4h0M636.6 133.6h0" stroke="#f0b848" stroke-width="2.2"/><path d="M470.6 111.8h0M512.5 118.5h0M519.2 117.8h0M520.7 113.2h0M519.9 119.1h0M541.3 111.9h0M557.6 115.3h0M550.1 119.8h0M488.3 123.1h0M499.3 123.9h0M494.0 122.6h0M516.4 120.1h0M521.7 121.4h0M532.7 128.1h0M545.8 128.5h0M541.7 124.1h0M569.8 128.0h0M565.8 126.0h0M564.5 122.4h0M483.4 133.8h0M485.1 133.1h0M490.5 129.8h0M492.4 133.7h0M536.6 133.2h0M540.1 131.4h0M561.5 132.8h0M563.8 133.1h0M525.8 140.5h0M590.2 108.5h0M579.2 115.5h0M587.3 117.0h0M583.3 119.6h0M574.5 123.9h0M585.1 124.3h0M602.5 129.0h0M601.7 128.2h0M629.4 124.7h0M575.5 131.2h0M575.5 139.4h0M602.1 131.8h0M618.1 132.8h0" stroke="#f0c048" stroke-width="2.2"/><path d="M527.7 119.2h0M530.4 119.5h0M568.9 116.9h0M490.1 125.9h0M499.9 129.2h0M517.8 123.5h0M519.5 120.8h0M522.6 125.2h0M539.3 129.4h0M549.7 124.4h0M557.2 124.6h0M554.1 125.9h0M559.7 129.6h0M480.7 135.6h0M482.0 134.1h0M489.4 132.0h0M500.1 135.7h0M502.2 132.3h0M507.2 133.1h0M517.1 137.6h0M520.1 137.9h0M530.4 130.6h0M549.9 138.3h0M563.3 134.7h0M469.3 139.9h0M500.4 143.5h0M499.9 147.7h0M514.7 146.2h0M514.2 140.7h0M544.7 146.0h0M599.6 116.8h0M572.8 128.6h0M579.7 125.2h0M583.1 125.6h0M589.8 129.3h0M622.0 128.8h0M586.4 136.8h0M593.7 136.2h0M600.4 139.3h0M616.7 135.6h0M617.0 130.3h0M576.9 143.1h0M600.5 145.1h0M599.8 140.0h0M605.0 145.6h0M618.1 142.7h0M595.6 150.7h0" stroke="#f0c850" stroke-width="2.2"/><path d="M535.6 117.7h0M513.4 125.1h0M533.2 123.4h0M546.2 126.1h0M555.3 128.6h0M565.4 126.1h0M569.6 129.7h0M491.3 135.2h0M507.3 135.2h0M509.7 140.1h0M517.9 137.6h0M516.2 139.4h0M513.1 138.0h0M526.0 133.5h0M525.3 138.6h0M525.6 136.2h0M524.3 138.3h0M537.0 137.5h0M546.8 136.1h0M557.1 135.9h0M567.0 140.3h0M567.1 138.0h0M567.6 133.3h0M467.4 145.4h0M490.2 144.6h0M483.0 145.9h0M489.7 150.1h0M488.3 145.8h0M499.5 143.2h0M518.3 140.2h0M510.4 144.8h0M512.3 143.9h0M533.0 142.8h0M539.4 142.9h0M539.0 142.5h0M537.1 146.3h0M541.1 142.6h0M548.4 146.4h0M542.7 142.9h0M547.1 142.3h0M555.2 141.0h0M568.8 148.5h0M582.4 127.6h0M592.7 127.0h0M574.1 132.3h0M579.6 138.6h0M587.7 132.5h0M582.8 137.2h0M598.2 138.1h0M599.4 137.3h0M598.4 133.7h0M604.9 134.0h0M600.3 133.0h0M601.1 130.6h0M611.3 140.0h0M613.2 134.5h0M623.7 138.4h0M573.3 146.3h0M583.3 143.6h0M591.8 144.0h0M592.2 146.6h0M594.1 142.7h0M600.5 141.9h0M620.7 146.9h0M622.2 143.0h0M629.7 145.5h0M512.2 160.0h0M577.7 155.8h0M588.3 151.3h0M675.4 165.4h0" stroke="#f0d050" stroke-width="2.2"/><path d="M564.1 118.6h0M568.3 120.1h0M551.2 126.4h0M494.1 135.9h0M499.0 140.7h0M598.5 119.5h0M609.2 116.9h0M581.3 127.4h0M592.9 127.8h0M573.2 135.2h0M586.8 131.9h0M594.0 132.5h0M593.5 135.4h0M606.8 130.1h0" stroke="#f0c050" stroke-width="2.2"/><path d="M482.4 133.9h0M516.7 138.6h0M537.6 137.6h0M544.0 139.9h0M559.3 135.9h0M556.0 137.3h0M452.0 146.7h0M482.6 145.8h0M491.9 145.4h0M499.0 148.0h0M509.3 145.6h0M518.4 143.4h0M523.0 146.2h0M530.6 143.7h0M530.1 139.7h0M531.2 148.4h0M530.2 150.0h0M533.0 144.8h0M546.7 148.7h0M541.6 149.5h0M544.5 146.7h0M544.1 149.0h0M557.9 147.3h0M555.5 145.9h0M564.6 146.1h0M569.0 149.1h0M569.8 139.3h0M589.9 131.5h0M578.9 147.1h0M574.3 145.2h0M586.5 144.5h0M585.9 143.2h0M594.2 148.6h0M606.7 150.2h0M603.6 143.1h0M620.3 147.1h0M622.2 143.9h0M627.0 150.3h0M626.1 148.6h0M627.9 141.4h0M631.5 141.5h0M632.5 141.7h0M463.5 151.9h0M464.9 153.4h0M467.8 154.6h0M463.0 158.3h0M473.2 159.9h0M477.2 158.9h0M477.3 151.3h0M482.3 151.9h0M488.6 150.7h0M487.6 155.5h0M499.7 152.1h0M498.0 153.1h0M502.0 158.2h0M505.9 153.7h0M515.4 150.9h0M515.6 153.8h0M518.2 152.0h0M516.8 154.8h0M518.7 150.6h0M516.7 155.8h0M509.7 151.7h0M524.6 158.2h0M527.4 160.0h0M529.5 154.1h0M520.6 154.6h0M540.1 150.2h0M536.6 158.4h0M538.2 155.6h0M539.1 154.1h0M537.5 156.9h0M533.3 158.1h0M531.5 150.8h0M537.8 158.9h0M542.6 157.1h0M544.3 151.8h0M546.9 156.1h0M549.3 155.2h0M545.1 152.0h0M556.1 151.1h0M569.1 152.2h0M562.8 155.0h0M444.0 165.1h0M453.2 160.0h0M462.7 163.9h0M482.3 169.8h0M491.7 160.2h0M499.1 162.0h0M504.7 169.4h0M507.7 159.8h0M502.0 161.0h0M503.9 163.4h0M510.9 164.1h0M515.9 162.1h0M529.9 165.5h0M534.0 164.0h0M549.7 162.2h0M570.0 164.2h0M579.4 155.3h0M570.7 153.6h0M578.7 153.6h0M580.3 157.7h0M570.3 156.4h0M588.1 158.7h0M580.0 155.4h0M589.4 158.2h0M583.5 155.9h0M589.0 150.4h0M585.9 155.3h0M581.0 157.4h0M583.2 156.5h0M590.3 150.7h0M593.6 157.5h0M589.8 152.3h0M590.8 153.4h0M597.9 149.8h0M590.9 152.8h0M595.8 153.0h0M608.7 151.4h0M608.0 153.2h0M608.3 160.0h0M600.0 152.3h0M602.0 155.9h0M606.7 154.0h0M604.5 154.5h0M604.5 157.8h0M605.0 158.2h0M613.1 159.4h0M616.4 155.1h0M625.1 155.4h0M622.6 151.0h0M628.5 159.6h0M621.3 153.8h0M639.7 157.1h0M635.7 152.8h0M643.3 158.4h0M643.2 153.6h0M639.7 157.6h0M640.8 155.9h0M654.1 154.9h0M658.2 155.7h0M657.3 159.8h0M667.4 150.3h0M666.4 154.8h0M673.3 158.8h0M672.8 152.3h0M670.2 154.4h0M573.2 160.1h0M578.1 164.8h0M577.3 160.0h0M574.1 163.1h0M582.2 162.4h0M596.5 165.0h0M591.6 165.1h0M597.0 170.1h0M598.0 164.7h0M597.0 163.2h0M609.7 162.5h0M604.1 166.0h0M609.7 160.4h0M641.1 163.2h0M649.9 160.1h0M670.4 164.2h0M578.9 170.2h0M600.7 176.6h0M668.4 173.0h0" stroke="#f8e058" stroke-width="2.2"/><path d="M504.0 135.8h0M527.7 135.4h0M547.6 136.1h0M553.4 134.2h0M556.1 135.6h0M501.3 142.9h0M500.1 139.9h0M520.0 147.3h0M528.1 150.2h0M534.4 146.6h0M537.4 144.5h0M531.0 140.3h0M542.7 147.2h0M551.2 144.0h0M555.4 147.1h0M569.5 145.3h0M561.4 141.8h0M579.8 130.6h0M638.5 137.0h0M570.9 145.2h0M583.3 141.2h0M619.9 145.5h0M519.0 150.5h0M579.2 153.5h0M595.0 152.3h0M601.9 150.3h0M611.5 160.1h0M642.0 151.2h0M672.1 152.7h0M581.9 160.8h0" stroke="#f0d850" stroke-width="2.2"/><path d="M517.2 140.2h0M532.3 134.1h0M486.9 140.8h0M498.1 145.2h0M530.1 140.9h0M541.3 148.1h0M548.0 140.4h0M611.5 129.1h0M570.3 143.0h0M590.0 145.9h0M586.0 144.7h0M598.4 141.5h0M594.7 142.0h0M616.4 148.4h0M619.9 147.3h0M639.4 143.3h0M640.3 143.7h0M508.8 150.5h0M515.4 157.7h0M511.7 155.8h0M530.2 155.4h0M547.7 153.6h0M546.4 160.9h0M569.1 162.5h0M589.4 153.0h0M592.2 151.5h0M610.0 149.9h0M666.1 151.1h0" stroke="#f8d850" stroke-width="2.2"/><path d="M504.3 140.5h0M523.6 146.3h0M599.8 124.2h0M633.0 141.3h0M530.3 157.3h0M534.3 151.4h0M551.3 153.1h0M565.0 153.7h0M633.6 154.3h0" stroke="#f8d858" stroke-width="2.2"/><path d="M530.1 147.0h0M479.9 152.4h0M499.4 154.4h0M492.0 159.8h0M504.8 158.9h0M513.0 156.0h0M527.1 156.2h0M530.1 156.0h0M532.8 155.2h0M545.1 158.7h0M550.3 155.2h0M548.2 150.8h0M547.7 160.0h0M553.8 152.6h0M554.8 158.6h0M563.6 156.1h0M440.7 163.7h0M481.1 163.7h0M483.4 169.7h0M480.9 163.7h0M495.3 168.7h0M495.9 162.6h0M497.4 164.1h0M503.0 168.8h0M516.4 169.2h0M522.0 170.1h0M538.4 161.4h0M536.2 162.6h0M544.9 164.7h0M542.0 162.1h0M547.3 161.6h0M548.2 162.0h0M552.9 163.2h0M560.2 164.4h0M563.6 162.1h0M561.7 162.5h0M466.6 170.6h0M486.6 171.2h0M482.1 172.0h0M501.0 177.8h0M555.5 173.3h0M570.5 158.3h0M577.4 154.1h0M576.6 151.1h0M572.0 156.2h0M584.4 155.9h0M596.4 154.5h0M591.8 154.9h0M589.8 151.9h0M604.5 159.7h0M610.0 153.0h0M618.7 152.2h0M623.3 156.5h0M639.7 158.9h0M630.1 154.8h0M640.0 153.2h0M660.5 158.1h0M662.4 156.7h0M669.8 156.3h0M575.4 163.3h0M572.2 166.8h0M573.5 160.7h0M585.1 162.3h0M587.1 166.8h0M585.9 168.6h0M590.4 168.6h0M597.7 169.0h0M596.2 168.4h0M591.1 161.3h0M603.2 164.1h0M602.2 164.8h0M608.3 169.4h0M600.4 169.0h0M618.4 167.8h0M617.9 161.3h0M634.9 161.3h0M632.1 160.5h0M638.0 163.4h0M651.4 164.9h0M667.1 160.3h0M673.4 164.6h0M676.1 164.5h0M587.7 170.4h0M588.5 172.8h0M597.4 170.5h0M602.8 172.4h0M664.7 170.9h0" stroke="#f0e058" stroke-width="2.2"/><path d="M540.6 148.9h0M473.6 160.2h0M512.4 155.5h0M511.2 158.1h0M523.6 160.2h0M521.7 155.8h0M529.2 157.6h0M527.3 158.1h0M526.6 152.5h0M542.3 156.7h0M552.9 150.0h0M564.1 160.2h0M448.5 160.4h0M456.6 169.2h0M455.7 168.4h0M458.4 168.1h0M454.3 167.9h0M452.5 164.4h0M468.8 168.7h0M462.0 164.5h0M465.6 169.8h0M464.3 165.7h0M459.8 169.5h0M489.6 161.9h0M488.9 166.6h0M488.7 160.5h0M482.8 165.3h0M489.7 167.9h0M498.2 163.3h0M494.4 170.2h0M493.2 163.7h0M501.6 162.1h0M508.2 161.2h0M505.6 160.1h0M508.4 159.8h0M513.8 165.1h0M518.5 169.1h0M517.5 169.5h0M514.8 162.5h0M515.0 165.2h0M515.8 166.8h0M529.5 165.9h0M526.9 163.9h0M523.1 161.8h0M520.4 169.2h0M525.7 163.4h0M530.0 169.5h0M533.0 168.2h0M532.4 162.9h0M533.2 168.6h0M538.0 162.3h0M545.9 164.5h0M546.9 163.7h0M547.4 163.1h0M545.7 160.6h0M558.0 166.9h0M552.2 168.2h0M551.6 161.5h0M559.0 160.1h0M552.9 162.8h0M551.4 166.1h0M554.4 161.1h0M561.7 169.8h0M564.2 166.1h0M568.7 169.0h0M563.6 169.6h0M565.7 163.8h0M457.6 175.5h0M458.5 172.0h0M453.2 171.6h0M462.2 175.7h0M467.9 179.1h0M467.4 179.8h0M459.9 172.8h0M485.4 171.6h0M487.1 177.2h0M489.5 179.2h0M484.4 177.2h0M484.2 169.7h0M480.0 171.5h0M486.1 173.9h0M494.6 173.4h0M497.6 175.6h0M494.4 176.0h0M496.9 172.1h0M492.9 175.8h0M496.5 171.1h0M490.0 176.7h0M509.0 176.6h0M500.8 173.4h0M500.6 172.9h0M503.4 177.5h0M506.2 176.2h0M502.4 175.6h0M505.9 176.1h0M518.5 171.4h0M517.3 177.3h0M513.7 173.7h0M514.0 171.8h0M520.0 175.1h0M514.1 177.8h0M526.0 172.5h0M521.4 170.0h0M524.5 174.0h0M520.1 175.6h0M529.9 178.5h0M524.1 174.9h0M530.2 176.3h0M539.7 176.8h0M529.8 172.3h0M536.2 178.4h0M532.2 173.3h0M531.6 171.5h0M533.7 174.2h0M540.2 173.4h0M542.7 172.6h0M547.9 173.7h0M548.4 178.5h0M546.9 175.1h0M546.9 179.6h0M551.4 175.1h0M550.5 171.0h0M549.8 177.9h0M558.3 170.0h0M554.6 171.3h0M551.9 178.2h0M551.3 171.3h0M559.6 172.7h0M565.4 178.7h0M567.6 175.0h0M563.5 173.5h0M567.0 170.4h0M570.3 171.4h0M567.4 178.6h0M561.9 180.0h0M465.7 179.9h0M468.8 183.7h0M465.9 182.5h0M469.4 180.1h0M460.1 180.4h0M471.2 180.8h0M476.1 183.4h0M483.8 184.6h0M485.9 184.7h0M496.6 184.2h0M497.2 183.3h0M506.7 180.0h0M505.2 184.4h0M504.3 181.4h0M509.6 184.3h0M514.1 180.3h0M514.7 183.6h0M515.4 182.5h0M515.8 185.5h0M539.3 180.5h0M539.6 190.1h0M543.1 183.3h0M546.4 180.4h0M547.3 189.7h0M559.3 189.7h0M551.5 189.1h0M559.7 181.8h0M556.8 179.8h0M556.1 184.8h0M566.2 181.7h0M560.7 188.0h0M479.1 192.0h0M580.0 152.0h0M581.4 155.7h0M581.9 150.6h0M605.7 156.0h0M628.9 155.0h0M648.5 156.4h0M652.8 154.8h0M651.6 156.2h0M670.7 153.9h0M678.1 160.1h0M580.2 161.7h0M578.7 164.6h0M579.9 167.3h0M573.5 167.5h0M574.6 166.7h0M583.7 167.9h0M590.2 168.7h0M586.6 162.8h0M581.3 168.6h0M586.4 161.4h0M585.2 164.9h0M585.4 168.9h0M594.9 166.0h0M593.0 167.1h0M591.2 165.8h0M596.0 165.0h0M604.9 161.9h0M605.2 166.2h0M603.9 168.2h0M601.3 168.5h0M602.4 168.6h0M614.5 168.9h0M612.5 164.5h0M618.4 161.4h0M609.9 168.5h0M626.2 167.1h0M619.9 167.7h0M623.2 166.2h0M626.4 169.5h0M638.0 161.9h0M631.7 169.6h0M631.7 167.2h0M647.9 161.7h0M645.0 164.7h0M652.1 165.7h0M655.2 169.3h0M657.1 166.0h0M649.9 170.1h0M662.3 169.1h0M659.9 169.6h0M670.0 165.8h0M676.6 168.6h0M570.9 171.2h0M574.4 170.1h0M573.4 179.2h0M572.5 176.2h0M576.4 177.9h0M579.5 175.5h0M574.5 176.6h0M571.7 170.0h0M578.5 178.4h0M571.6 178.9h0M582.1 175.1h0M580.5 177.7h0M586.9 171.6h0M587.1 174.4h0M588.5 176.8h0M580.5 176.3h0M588.8 177.0h0M583.2 175.4h0M599.6 177.8h0M599.6 169.8h0M591.1 170.1h0M592.6 179.5h0M592.4 174.4h0M594.5 179.7h0M591.3 176.2h0M599.0 178.4h0M597.2 170.8h0M602.6 173.2h0M601.4 179.4h0M608.4 175.1h0M610.1 171.7h0M605.1 180.0h0M601.0 174.5h0M606.3 178.3h0M601.6 171.9h0M609.8 171.7h0M615.1 171.6h0M617.3 171.0h0M620.3 173.9h0M615.6 172.7h0M615.3 175.7h0M618.7 173.9h0M629.7 174.7h0M622.5 177.9h0M622.2 172.5h0M621.0 175.1h0M623.7 176.1h0M631.5 175.3h0M635.8 174.4h0M631.2 178.1h0M639.4 171.7h0M634.8 176.2h0M643.6 176.9h0M641.4 174.9h0M646.9 172.1h0M642.8 176.8h0M646.7 179.6h0M646.8 176.2h0M650.0 175.5h0M652.9 175.6h0M655.8 176.5h0M658.3 171.1h0M657.7 175.4h0M670.0 173.6h0M661.0 177.1h0M666.4 176.4h0M668.1 177.9h0M677.0 171.2h0M676.4 170.1h0M673.1 175.0h0M670.0 180.1h0M578.3 180.4h0M572.5 182.8h0M573.9 182.6h0M589.0 184.4h0M580.3 184.8h0M585.4 180.7h0M588.3 182.1h0M588.1 184.2h0M580.4 180.4h0M588.6 183.5h0M588.7 187.9h0M582.1 186.6h0M597.4 190.1h0M598.3 186.2h0M599.0 182.5h0M603.8 182.3h0M600.1 182.4h0M600.7 190.1h0M603.9 181.7h0M609.3 180.4h0M618.3 182.3h0M616.3 188.1h0M622.6 182.2h0M620.1 185.7h0M632.4 182.2h0M633.5 185.4h0M642.6 183.3h0M650.2 182.1h0M650.4 184.9h0M657.6 186.1h0M667.2 180.6h0M669.5 180.9h0M669.9 186.7h0M570.8 192.8h0M671.6 194.0h0" stroke="#f0e860" stroke-width="2.2"/><path d="M526.2 160.0h0M534.1 152.2h0M541.2 158.1h0M559.8 157.7h0M498.2 160.9h0M505.1 159.8h0M520.0 160.9h0M538.7 160.5h0M556.5 159.7h0M496.7 172.7h0M509.6 175.8h0M527.6 171.6h0M543.1 171.2h0M564.2 174.1h0M573.6 157.4h0M585.2 165.3h0M609.7 160.6h0M629.3 166.0h0M623.1 166.5h0M645.2 169.9h0M642.0 164.5h0M657.9 162.6h0M667.4 166.0h0M662.4 164.3h0M597.8 171.5h0M601.7 173.6h0M680.1 170.5h0" stroke="#f0e060" stroke-width="2.2"/><path d="M540.2 169.8h0M453.4 176.1h0M468.8 174.7h0M519.9 179.8h0M539.3 178.1h0M533.6 179.9h0M540.8 173.9h0M561.2 179.7h0M467.2 181.9h0M476.3 189.4h0M475.4 189.6h0M482.6 183.6h0M497.9 182.5h0M498.2 180.1h0M497.8 187.5h0M507.3 186.1h0M519.0 187.5h0M531.6 183.4h0M536.3 182.4h0M534.1 185.7h0M543.6 184.6h0M553.6 184.7h0M559.8 186.9h0M563.5 184.7h0M565.5 184.5h0M486.0 196.9h0M481.9 194.7h0M499.1 195.6h0M500.1 196.2h0M494.7 190.6h0M492.8 191.7h0M509.6 191.1h0M502.7 198.2h0M517.8 192.5h0M517.9 191.9h0M546.4 194.1h0M541.9 194.1h0M557.0 195.9h0M560.0 198.8h0M563.5 196.1h0M480.0 208.2h0M506.1 202.1h0M520.5 200.9h0M576.0 178.6h0M589.6 177.1h0M575.9 190.1h0M574.4 180.3h0M580.3 185.9h0M576.7 184.8h0M582.0 188.0h0M595.2 188.3h0M596.5 182.5h0M597.5 187.7h0M595.3 189.1h0M598.0 187.1h0M590.5 189.0h0M603.1 184.1h0M601.6 189.3h0M611.3 180.8h0M625.2 182.6h0M628.9 187.8h0M638.1 185.8h0M636.5 186.3h0M649.6 184.5h0M643.6 180.5h0M655.1 187.5h0M657.1 179.8h0M661.6 187.8h0M667.5 186.2h0M673.4 190.1h0M679.6 182.9h0M675.1 184.0h0M597.4 194.0h0M599.9 190.8h0M596.2 190.5h0M602.2 194.7h0M607.3 194.7h0M603.5 189.7h0M618.1 196.0h0M631.2 196.6h0M639.0 189.9h0M631.7 193.8h0M642.6 190.8h0M653.1 190.7h0M653.2 189.7h0M668.4 198.6h0M662.4 198.8h0M619.2 201.5h0M628.8 199.8h0M658.1 201.9h0" stroke="#e8e868" stroke-width="2.2"/><path d="M455.4 176.0h0M458.3 177.3h0M516.4 179.4h0M528.7 173.0h0M535.1 178.2h0M540.6 170.8h0M550.0 178.5h0M494.4 187.5h0M504.8 186.9h0M537.9 188.5h0M542.7 184.0h0M546.9 187.7h0M542.8 189.5h0M552.0 188.2h0M559.8 182.8h0M568.4 187.8h0M564.3 183.8h0M482.3 194.8h0M561.2 192.4h0M571.8 170.4h0M584.1 178.9h0M590.0 174.2h0M599.9 179.0h0M619.7 176.4h0M633.8 171.5h0M657.0 180.0h0M679.3 173.8h0M577.3 187.1h0M574.5 184.4h0M587.0 181.2h0M585.6 183.5h0M584.3 181.2h0M596.7 187.5h0M599.5 188.4h0M597.2 188.7h0M608.1 185.0h0M603.0 186.0h0M604.2 190.2h0M612.5 182.3h0M640.2 180.9h0M677.1 188.0h0M626.0 192.6h0" stroke="#f0e868" stroke-width="2.2"/><path d="M497.0 176.5h0M517.1 179.5h0M471.9 189.5h0M470.9 181.2h0M484.1 188.9h0M482.1 188.3h0M514.2 180.7h0M530.0 187.7h0M533.4 185.2h0M548.9 187.0h0M548.6 186.0h0M551.3 182.6h0M550.5 186.6h0M562.0 189.4h0M563.0 187.3h0M474.8 194.6h0M472.0 190.2h0M484.7 190.8h0M498.8 196.4h0M503.7 192.7h0M507.7 194.6h0M501.2 189.8h0M503.0 190.2h0M518.1 196.3h0M519.4 195.8h0M550.3 189.7h0M547.8 191.6h0M545.9 195.0h0M556.0 190.2h0M558.9 195.6h0M563.9 195.9h0M566.4 195.0h0M478.9 200.2h0M478.9 201.3h0M480.9 202.5h0M493.7 207.1h0M498.5 201.0h0M559.7 199.7h0M516.5 213.2h0M585.3 177.6h0M590.2 179.9h0M571.7 188.0h0M571.5 180.0h0M579.8 187.7h0M592.8 181.8h0M609.3 188.9h0M601.8 189.5h0M605.5 186.7h0M620.2 188.6h0M623.9 189.5h0M632.7 187.6h0M643.2 185.6h0M672.3 190.0h0M675.8 187.5h0M579.1 191.2h0M573.7 199.9h0M574.7 196.6h0M589.8 198.9h0M588.7 196.8h0M586.7 198.6h0M583.9 191.0h0M595.6 195.9h0M591.1 199.2h0M602.6 193.6h0M603.4 197.1h0M612.5 198.7h0M618.6 192.4h0M615.0 194.9h0M621.9 193.8h0M628.8 200.0h0M620.5 199.4h0M621.5 199.7h0M632.7 196.1h0M637.8 191.2h0M646.5 196.3h0M641.6 197.1h0M656.8 198.5h0M655.6 197.9h0M652.2 193.6h0M667.0 197.1h0M667.6 198.6h0M676.4 198.9h0M674.9 193.0h0M673.4 191.8h0M676.8 198.6h0M577.4 200.8h0M589.7 202.8h0M588.5 201.0h0M592.9 200.5h0M591.2 206.6h0M592.9 202.3h0M616.6 205.2h0M616.9 202.4h0M625.7 205.4h0M621.5 208.9h0M633.0 207.4h0M637.9 201.8h0M638.5 204.7h0M641.3 204.3h0M659.7 207.2h0M673.5 201.4h0M678.6 200.0h0M598.0 210.5h0M664.8 214.8h0" stroke="#e8f068" stroke-width="2.2"/><path d="M485.3 187.0h0M540.2 184.6h0M474.5 199.1h0M475.8 194.4h0M484.5 194.5h0M519.7 198.2h0M514.1 196.3h0M546.7 195.8h0M551.0 192.4h0M552.5 198.6h0M553.6 199.8h0M569.6 197.2h0M479.9 208.1h0M472.1 202.0h0M481.4 208.8h0M521.4 204.9h0M530.0 206.5h0M550.4 203.3h0M515.4 213.7h0M527.1 210.3h0M535.8 210.0h0M535.2 213.0h0M535.7 210.8h0M559.5 210.0h0M654.5 184.5h0M576.7 196.3h0M573.5 192.4h0M606.8 195.0h0M613.7 198.9h0M630.5 197.8h0M649.5 197.4h0M645.7 197.1h0M650.1 197.1h0M576.7 208.3h0M575.1 203.6h0M609.2 203.1h0M613.8 207.7h0M635.4 203.8h0M640.0 202.6h0M645.1 207.4h0M648.0 202.4h0M647.9 206.6h0M654.6 208.1h0M667.9 204.0h0M660.2 207.9h0M673.1 204.3h0M679.4 203.7h0M575.6 211.0h0M576.0 213.3h0M580.9 211.1h0M583.4 211.7h0M599.8 217.2h0M629.0 213.0h0M627.2 212.2h0M676.5 214.5h0M647.6 220.3h0" stroke="#e0f068" stroke-width="2.2"/><path d="M477.9 196.7h0M483.4 200.9h0M501.8 200.7h0M564.7 201.3h0M480.0 210.0h0M506.8 209.9h0M530.5 216.3h0M540.9 212.9h0M555.7 218.0h0M561.1 219.6h0M567.4 219.6h0M470.5 221.2h0M591.3 196.3h0M578.8 203.1h0M599.7 207.9h0M644.7 205.6h0M639.7 201.4h0M654.7 209.2h0M570.6 216.3h0M584.3 219.2h0M603.3 215.5h0M613.1 219.8h0M623.6 213.5h0M636.9 214.3h0M631.2 210.2h0M641.5 218.6h0M659.7 219.9h0M668.7 213.7h0M674.8 214.6h0M671.2 213.7h0M603.0 226.5h0" stroke="#d0e870" stroke-width="2.2"/><path d="M487.4 199.7h0M482.8 206.6h0M493.8 203.1h0M500.1 209.4h0M504.7 205.4h0M557.3 204.6h0M508.8 213.2h0M542.8 218.5h0M560.1 212.3h0M573.8 185.7h0M588.9 192.7h0M617.5 198.0h0M652.5 197.2h0M663.3 198.6h0M597.6 208.9h0M601.5 202.2h0M602.3 209.1h0M600.1 207.6h0M616.4 210.2h0M657.1 201.2h0M665.0 205.1h0M664.7 205.2h0M669.0 209.6h0M672.4 205.6h0M676.7 205.1h0M589.4 210.9h0M593.1 210.7h0M590.5 210.2h0M603.7 217.6h0M625.3 210.9h0M628.2 213.1h0M636.2 209.8h0M646.0 214.9h0M652.8 214.6h0M665.3 217.5h0" stroke="#d8f070" stroke-width="2.2"/><path d="M473.6 205.2h0M501.1 205.4h0M553.6 204.2h0M470.2 214.6h0M529.2 213.2h0M534.7 215.9h0M548.0 212.6h0M559.4 219.4h0M484.9 220.9h0M503.4 222.3h0M570.4 206.8h0M575.1 204.4h0M589.8 204.8h0M595.6 205.1h0M630.3 210.2h0M663.1 206.8h0M605.3 218.8h0M614.5 210.0h0M632.9 218.6h0M643.0 217.2h0M660.3 213.4h0M660.3 218.8h0M673.6 213.3h0M575.2 223.8h0M586.9 221.7h0M609.8 224.8h0" stroke="#d0e878" stroke-width="2.2"/><path d="M479.4 201.3h0M498.1 204.2h0M500.5 212.8h0M550.1 209.9h0M568.4 216.3h0M624.7 200.3h0M663.0 195.9h0M675.1 195.9h0M604.3 201.0h0M609.2 207.1h0M625.2 208.4h0M583.7 211.4h0M640.5 213.6h0M644.4 217.8h0M659.4 214.5h0" stroke="#e0f070" stroke-width="2.2"/><path d="M486.3 208.1h0M499.7 206.0h0M538.5 208.6h0M487.8 213.7h0M512.7 214.3h0M527.3 209.8h0M522.5 212.2h0M522.4 213.1h0M535.5 219.8h0M542.4 214.1h0M546.0 220.0h0M563.6 214.6h0M480.2 223.4h0M506.2 229.0h0M553.7 220.0h0M584.4 205.1h0M586.6 207.4h0M616.6 205.8h0M622.7 209.6h0M620.3 208.4h0M652.3 208.4h0M579.6 210.7h0M576.6 216.3h0M585.4 216.8h0M609.7 215.3h0M616.8 217.4h0M610.2 217.0h0M629.3 212.0h0M633.2 214.5h0M630.6 220.2h0M651.3 216.1h0M660.3 211.9h0M676.6 215.5h0M581.2 221.1h0M599.4 222.8h0M595.3 223.1h0M620.8 223.6h0M630.1 222.9h0M635.4 220.6h0M637.8 225.7h0M642.0 220.4h0M662.5 222.3h0" stroke="#c8e878" stroke-width="2.2"/><path d="M467.0 215.1h0M484.7 214.9h0M507.2 214.1h0M506.2 217.1h0M518.4 219.5h0M515.1 214.1h0M549.5 220.1h0M555.5 214.5h0M484.7 227.0h0M496.1 228.2h0M549.6 223.2h0M563.0 225.7h0M537.1 231.6h0M559.1 235.9h0M616.6 216.5h0M648.0 220.1h0M671.0 215.8h0M595.2 221.3h0M603.7 220.4h0M612.8 220.6h0M617.0 225.2h0M628.6 225.0h0M648.3 226.2h0M599.0 231.2h0M612.3 231.1h0M659.7 234.8h0" stroke="#c0e878" stroke-width="2.2"/><path d="M470.2 211.4h0M474.5 222.1h0M483.3 223.7h0M493.6 220.0h0M507.0 229.0h0M540.8 221.9h0M482.1 237.9h0M508.0 231.3h0M555.3 235.9h0M602.8 218.5h0M659.9 214.0h0M575.0 227.2h0M619.8 224.7h0M615.0 220.2h0M632.7 224.8h0M648.6 227.4h0M646.2 233.8h0M668.2 239.7h0" stroke="#c0e880" stroke-width="2.2"/><path d="M504.4 216.4h0M527.4 215.9h0M485.8 225.4h0M500.2 220.1h0M490.0 225.4h0M499.2 222.4h0M519.9 225.0h0M561.3 229.3h0M509.5 232.8h0M535.1 231.2h0M552.8 231.5h0M594.0 219.3h0M576.6 229.9h0M603.5 221.1h0M604.3 223.0h0M607.8 226.6h0M627.9 228.6h0M621.2 220.0h0M625.8 226.4h0M636.9 220.5h0M631.1 222.2h0M581.3 235.2h0M645.9 230.8h0M643.5 236.6h0M653.6 231.4h0M630.6 240.8h0" stroke="#b8e880" stroke-width="2.2"/><path d="M551.9 216.1h0M478.8 220.6h0M485.1 230.3h0M505.9 231.4h0M552.9 230.5h0M598.3 219.4h0M659.5 218.3h0M580.0 225.7h0M606.2 225.8h0M609.2 229.7h0M612.3 224.9h0M614.2 227.7h0M628.8 229.4h0M629.0 227.3h0M602.4 232.2h0M624.5 230.3h0M635.9 236.2h0" stroke="#b8e888" stroke-width="2.2"/><path d="M567.2 214.6h0M500.7 228.1h0M505.3 238.8h0M561.7 231.1h0M565.1 234.4h0M565.8 238.7h0M502.7 258.7h0M554.5 250.3h0M654.1 226.5h0M580.5 237.3h0M588.7 235.1h0M615.6 239.2h0M617.6 237.4h0M626.6 236.4h0M643.7 230.5h0M576.1 242.0h0M578.5 242.7h0M610.8 242.8h0" stroke="#a8e890" stroke-width="2.2"/><path d="M478.5 222.1h0M482.4 227.3h0M508.8 226.4h0M496.6 235.2h0M523.5 235.2h0M540.3 246.1h0M639.0 221.6h0M641.9 228.2h0M640.3 229.8h0M574.1 236.9h0M643.7 231.9h0M613.4 244.9h0M618.2 246.2h0" stroke="#b0e888" stroke-width="2.2"/><path d="M479.8 238.1h0M499.2 238.7h0M496.9 242.6h0M564.3 252.3h0M609.9 228.2h0M657.9 234.9h0M662.1 237.6h0M585.5 256.8h0M647.1 250.4h0" stroke="#a0e098" stroke-width="2.2"/><path d="M482.5 239.6h0M531.8 240.4h0M553.8 243.4h0M567.6 248.0h0M518.6 258.0h0M550.7 251.5h0M513.4 262.3h0M546.6 262.2h0M626.0 237.6h0M614.4 243.4h0M637.0 248.1h0M635.5 244.2h0M640.5 246.1h0M646.9 246.0h0M668.8 248.6h0M618.0 253.4h0M626.0 252.2h0M620.4 253.7h0M621.0 255.0h0M649.1 255.1h0M644.2 255.8h0" stroke="#90e0a8" stroke-width="2.2"/><path d="M488.5 238.6h0M556.9 243.0h0M555.0 248.6h0M529.0 252.8h0M553.4 251.7h0M577.9 232.0h0M584.0 239.3h0M589.7 240.7h0M600.0 248.0h0M611.6 243.9h0M627.3 246.8h0M630.3 254.6h0" stroke="#a0e0a0" stroke-width="2.2"/><path d="M496.1 229.7h0M497.5 230.2h0M493.5 234.1h0M529.9 237.5h0M569.5 234.5h0M521.4 241.9h0M548.5 242.0h0M640.0 224.5h0M662.5 220.7h0M617.9 236.7h0M623.8 238.9h0M584.5 247.8h0M621.4 247.2h0" stroke="#b0e890" stroke-width="2.2"/><path d="M554.0 234.8h0M480.2 242.8h0M521.9 248.1h0M564.0 240.4h0M617.5 227.2h0M613.9 239.8h0M632.3 236.2h0M634.7 236.2h0M584.6 245.2h0M590.9 244.0h0M649.9 240.3h0M646.4 247.7h0" stroke="#a8e898" stroke-width="2.2"/><path d="M567.3 233.9h0M503.1 244.1h0M552.5 248.8h0M566.3 245.0h0M564.8 247.1h0M567.1 256.0h0M579.5 237.9h0M577.2 235.8h0M631.3 237.6h0M664.6 230.9h0M572.8 250.2h0M572.2 247.9h0M582.8 245.3h0M583.4 243.6h0M592.2 243.3h0M597.5 245.9h0M612.9 248.1h0M624.4 241.6h0M626.3 243.8h0M625.2 240.1h0M602.1 249.8h0M613.0 253.9h0M619.2 255.7h0M625.4 256.8h0" stroke="#98e0a0" stroke-width="2.2"/><path d="M489.7 245.7h0M501.6 246.7h0M532.2 259.1h0M564.7 251.9h0M490.7 260.4h0M534.7 261.2h0M577.8 241.4h0M636.3 245.0h0M641.8 248.3h0M572.3 256.0h0M587.5 256.3h0M591.0 252.2h0M618.4 249.8h0M612.7 253.6h0M619.6 252.1h0M626.7 252.2h0M648.4 253.7h0M640.4 261.6h0" stroke="#98e0a8" stroke-width="2.2"/><path d="M497.9 247.6h0M493.6 254.9h0M497.2 262.5h0M506.5 262.1h0M509.7 259.9h0M515.8 262.1h0M530.0 261.2h0M638.9 240.0h0M628.5 246.3h0M633.7 245.8h0M593.9 254.7h0M606.6 254.4h0M611.3 252.1h0M617.7 259.3h0M623.9 259.1h0M631.9 256.1h0M636.1 258.0h0M635.9 254.6h0M641.9 256.3h0M649.3 251.6h0M652.1 255.1h0M571.2 262.1h0M585.4 263.1h0M626.4 270.6h0" stroke="#90e0b0" stroke-width="2.2"/><path d="M539.0 249.8h0M500.9 258.8h0M513.0 258.0h0M527.7 252.0h0M529.2 259.5h0M559.9 258.0h0M555.3 256.9h0M568.5 250.3h0M506.4 264.6h0M499.8 267.7h0M506.9 260.6h0M516.7 265.9h0M548.7 261.9h0M492.2 279.6h0M564.6 272.5h0M647.9 249.8h0M577.1 253.9h0M571.2 259.2h0M583.1 249.8h0M602.6 252.0h0M618.3 259.3h0M619.1 251.7h0M623.0 252.9h0M626.4 255.0h0M637.7 257.6h0M637.7 253.1h0M631.6 256.4h0M643.7 254.5h0M573.2 264.9h0M580.5 263.8h0M586.4 262.7h0M624.2 271.9h0M645.0 274.6h0M643.2 273.9h0M660.6 274.7h0" stroke="#88e0b8" stroke-width="2.2"/><path d="M558.3 243.8h0M570.6 230.1h0M623.7 239.5h0M617.1 246.2h0M610.4 240.7h0M625.4 245.3h0M627.9 248.8h0M632.3 242.4h0M634.4 246.6h0M657.8 240.2h0M576.0 257.7h0M604.5 254.7h0M608.8 251.0h0" stroke="#a0e898" stroke-width="2.2"/><path d="M561.2 243.0h0M522.0 256.0h0M620.5 257.4h0M633.5 255.2h0M649.3 258.7h0M645.4 253.9h0M660.2 251.0h0M569.8 263.6h0M608.4 263.3h0M626.7 259.8h0M642.8 265.0h0" stroke="#88e0b0" stroke-width="2.2"/><path d="M505.9 254.3h0M512.4 257.3h0M490.7 269.9h0M501.0 265.5h0M515.5 259.8h0M510.3 264.8h0M526.7 264.3h0M561.2 265.8h0M549.8 274.6h0M547.9 280.4h0M647.9 249.0h0M586.3 257.8h0M626.2 256.8h0M630.6 256.3h0M637.7 255.6h0M632.0 259.7h0M643.3 255.4h0M587.9 264.4h0M593.6 262.8h0M608.9 265.0h0M628.5 261.3h0M626.5 264.9h0M631.8 266.3h0M640.1 265.6h0M638.0 259.8h0M649.9 263.5h0M661.9 267.6h0M629.9 274.4h0M637.5 273.0h0M642.5 271.4h0" stroke="#80e0c0" stroke-width="2.2"/><path d="M560.7 258.6h0M497.8 260.2h0M493.6 268.7h0M502.4 268.1h0M513.3 263.5h0M523.5 274.2h0M592.2 252.7h0M598.4 260.0h0M652.7 258.2h0M575.0 266.0h0M622.2 270.1h0M591.6 276.6h0M637.2 277.8h0" stroke="#78d8c8" stroke-width="2.2"/><path d="M493.1 263.7h0M514.7 271.4h0M530.2 279.2h0M555.3 271.4h0M560.1 279.4h0M564.9 282.6h0M664.8 259.3h0M630.1 261.5h0M635.2 269.5h0M579.7 269.8h0M596.4 273.2h0M627.7 277.5h0M623.8 273.4h0M633.7 277.9h0M646.8 273.2h0M648.2 269.9h0M656.7 277.8h0M654.8 278.3h0M621.9 280.4h0M619.7 284.2h0M641.5 285.1h0M651.7 283.3h0" stroke="#70d8d0" stroke-width="2.2"/><path d="M497.5 264.0h0M516.6 265.3h0M533.3 272.4h0M545.7 274.9h0M541.9 278.3h0M569.4 279.0h0M494.8 285.6h0M527.6 280.2h0M534.9 285.4h0M541.2 290.1h0M550.8 285.0h0M547.6 294.4h0M588.2 278.3h0M620.8 274.2h0M625.5 278.3h0M627.6 277.8h0M635.5 278.1h0M638.3 276.2h0M640.9 271.8h0M645.8 271.6h0M648.5 271.9h0M649.9 276.7h0M650.1 279.8h0M658.5 278.0h0M589.7 279.7h0M620.1 286.1h0M620.2 285.8h0M626.0 287.7h0M631.6 280.8h0M640.1 284.4h0M646.9 281.4h0M658.8 281.5h0M655.9 281.2h0M655.1 281.9h0M659.6 282.4h0M629.4 292.3h0M642.9 291.5h0" stroke="#70d8d8" stroke-width="2.2"/><path d="M497.8 265.9h0M506.4 269.3h0M501.5 268.1h0M558.0 273.9h0M489.3 287.2h0M527.1 283.8h0M530.9 281.2h0M594.9 269.8h0M621.9 261.9h0M639.9 264.7h0M623.3 274.0h0M632.1 269.7h0M631.7 278.3h0M650.0 277.9h0M650.1 277.0h0M623.7 280.3h0M647.1 280.7h0" stroke="#78d8d0" stroke-width="2.2"/><path d="M556.7 270.1h0M602.0 265.9h0" stroke="#78e0c8" stroke-width="2.2"/><path d="M501.0 275.5h0M615.3 256.2h0M594.5 262.1h0M649.2 277.0h0M653.0 270.8h0" stroke="#80e0c8" stroke-width="2.2"/><path d="M430.5 288.4h0M519.8 280.1h0M564.6 287.4h0M531.4 290.1h0M553.4 290.1h0M552.4 293.7h0M562.9 295.3h0M643.0 287.7h0" stroke="#68d0d8" stroke-width="2.2"/><path d="M486.8 287.1h0M490.6 284.9h0M490.5 289.9h0M525.3 284.0h0M538.1 285.5h0M548.7 288.2h0M556.7 283.5h0M551.1 281.0h0M553.6 289.7h0M567.4 288.8h0M562.8 289.7h0M494.5 290.7h0M538.8 293.7h0M536.2 295.3h0M538.5 292.2h0M541.4 291.0h0M542.0 292.7h0M548.1 293.5h0M559.5 297.2h0M551.1 294.6h0M627.1 277.8h0M650.1 274.9h0M657.8 270.3h0M619.6 284.9h0M626.7 287.6h0M633.4 287.4h0M630.8 290.1h0M635.2 290.0h0M645.8 286.0h0M642.0 282.0h0M644.1 285.4h0M596.7 296.1h0M603.7 290.0h0M633.4 296.0h0M630.4 291.8h0M649.5 299.4h0M641.5 293.7h0M658.6 299.6h0M554.5 304.6h0M555.0 303.6h0M588.9 300.0h0" stroke="#68d0e0" stroke-width="2.2"/><path d="M486.6 289.9h0M522.9 287.4h0M536.1 280.9h0M538.2 289.4h0M546.3 279.8h0M549.9 284.0h0M550.7 282.9h0M541.9 292.0h0M558.4 290.5h0M557.9 294.5h0M566.0 296.9h0M568.9 296.1h0M573.0 280.0h0M577.3 274.6h0M630.5 273.2h0M636.2 274.8h0M650.4 275.0h0M579.3 285.4h0M636.1 280.7h0M631.8 289.0h0M632.3 286.0h0M657.2 288.3h0" stroke="#70d0d8" stroke-width="2.2"/><path d="M499.6 300.0h0M506.7 297.6h0M511.4 294.4h0M565.0 298.2h0M567.8 294.4h0M645.7 289.9h0M630.4 295.9h0M642.2 293.4h0M650.2 294.3h0M565.2 304.8h0M578.2 304.0h0M589.9 300.9h0M642.0 301.3h0M653.8 305.5h0M650.2 303.5h0M659.9 300.4h0" stroke="#60c8e8" stroke-width="2.2"/><path d="M507.6 292.9h0M539.7 292.6h0M547.4 291.9h0M541.9 297.2h0M549.8 299.3h0M557.9 295.0h0M631.0 279.8h0M653.8 286.5h0M598.9 293.8h0M607.0 290.9h0M609.4 296.4h0M630.0 293.4h0M640.6 298.4h0M655.5 292.2h0M631.4 300.2h0" stroke="#68c8e0" stroke-width="2.2"/><path d="M530.5 300.2h0M539.4 289.7h0M621.4 289.4h0M620.6 294.1h0M633.4 296.7h0M552.3 304.6h0M567.2 302.7h0" stroke="#68c8e8" stroke-width="2.2"/><path d="M537.8 295.7h0M563.5 297.0h0M561.3 298.1h0M595.3 298.3h0M625.9 298.5h0M653.2 299.1h0M563.6 300.8h0M561.1 306.4h0M525.2 312.1h0M542.4 311.5h0M565.4 310.2h0M528.8 321.8h0M570.1 301.7h0M637.8 307.6h0M631.3 302.9h0M649.1 303.2h0M657.1 306.1h0M660.2 306.3h0M657.3 310.9h0M660.2 317.0h0" stroke="#60c0e8" stroke-width="2.2"/><path d="M598.0 254.7h0" stroke="#88e0c0" stroke-width="2.2"/><path d="M532.0 300.1h0M522.4 318.8h0M546.8 319.9h0M551.6 314.3h0M529.3 322.9h0M535.6 322.1h0M545.8 321.0h0M635.3 303.9h0M581.8 318.4h0M604.5 310.2h0M628.4 313.7h0M635.4 313.9h0M649.5 319.3h0M669.6 319.9h0M666.6 313.3h0M655.1 321.8h0M629.3 333.5h0M636.6 331.0h0M648.4 330.5h0" stroke="#60b0e8" stroke-width="2.2"/><path d="M551.7 308.7h0M555.5 304.0h0M560.5 308.0h0M440.9 317.5h0M543.0 312.4h0M558.1 313.3h0M528.4 327.3h0M578.9 301.3h0M572.4 304.3h0M571.9 300.9h0M588.8 300.6h0M594.7 307.5h0M647.6 305.2h0M645.6 300.1h0M590.1 312.0h0M626.7 317.4h0M646.7 311.4h0" stroke="#60b8e8" stroke-width="2.2"/><path d="M493.5 318.3h0M548.2 312.3h0M536.2 324.7h0M538.2 328.0h0M551.4 325.3h0M553.1 327.9h0M555.2 330.1h0M558.4 322.6h0M541.8 341.2h0M632.9 316.8h0M636.3 317.2h0M634.0 317.8h0M607.1 319.9h0M605.2 325.8h0M653.3 329.2h0" stroke="#58a0e8" stroke-width="2.2"/><path d="M525.1 312.3h0M535.0 315.7h0M534.8 317.4h0M568.8 318.2h0M440.3 322.4h0M520.0 320.0h0M536.4 326.6h0M534.6 320.7h0M547.0 327.8h0M538.6 329.8h0M543.6 330.0h0M643.3 309.3h0M614.0 313.8h0M622.4 316.2h0M641.6 318.5h0M652.4 314.6h0M651.7 316.3h0M613.3 328.9h0M622.4 328.8h0M642.1 321.5h0M643.0 330.2h0" stroke="#58a8e8" stroke-width="2.2"/><path d="M537.4 313.0h0M527.4 329.3h0M544.3 326.3h0M558.9 324.3h0M526.5 334.2h0M539.5 332.1h0M543.5 335.9h0M547.4 344.1h0M555.1 339.8h0M557.0 342.8h0M564.7 342.1h0M565.0 344.4h0M572.5 335.2h0M587.7 333.7h0M622.0 336.1h0M625.7 336.0h0M632.2 336.2h0M646.6 337.1h0M650.1 338.2h0M649.4 344.0h0M657.9 347.6h0" stroke="#5090e8" stroke-width="2.2"/><path d="M546.2 329.9h0M533.0 339.3h0M532.4 339.5h0M536.1 350.1h0M536.3 344.5h0M542.5 347.8h0M541.0 340.5h0M557.3 345.8h0M556.2 348.2h0M532.4 350.7h0M546.0 351.4h0M561.9 355.1h0M570.2 349.8h0M548.7 364.8h0M554.1 365.7h0M572.5 340.1h0M629.1 344.5h0M634.6 342.8h0M644.5 342.7h0M638.6 349.8h0M642.2 350.9h0M578.8 362.1h0" stroke="#4880e8" stroke-width="2.2"/><path d="M549.3 327.3h0M568.3 329.2h0M525.1 333.2h0M549.0 339.3h0M546.7 334.7h0M543.8 336.2h0M475.8 349.5h0M551.8 341.4h0M630.1 315.5h0M651.5 338.7h0M653.6 335.2h0M591.7 347.0h0M656.3 343.2h0" stroke="#5098e8" stroke-width="2.2"/><path d="M528.0 337.4h0M521.3 338.5h0M602.8 341.8h0" stroke="#4888e8" stroke-width="2.2"/><path d="M530.1 331.9h0M621.3 329.0h0M631.0 328.0h0M636.7 329.3h0M646.1 322.9h0M609.5 331.9h0" stroke="#5898e8" stroke-width="2.2"/><path d="M468.0 350.2h0M542.5 356.2h0M540.5 359.6h0M554.6 361.0h0M552.7 362.5h0M485.5 377.5h0M570.3 371.3h0M570.9 365.6h0M570.4 361.4h0M652.1 359.7h0" stroke="#4060e8" stroke-width="2.2"/><path d="M475.8 343.6h0M529.9 358.4h0M539.5 351.1h0M546.3 355.0h0M548.6 352.2h0M557.1 358.6h0M551.6 351.7h0M555.0 350.6h0M559.3 351.8h0M570.2 357.5h0M565.5 354.8h0M505.2 369.7h0M532.4 360.8h0M532.0 360.4h0M540.0 361.4h0M540.6 361.6h0M539.8 363.5h0M546.1 360.3h0M548.6 367.6h0M540.2 366.5h0M553.9 360.5h0M550.9 362.3h0M552.3 362.8h0M568.6 363.5h0M480.1 374.9h0M534.0 372.3h0M574.1 355.0h0M572.2 369.5h0M574.6 362.7h0M573.0 360.9h0M609.6 365.6h0M604.6 368.2h0M617.1 362.4h0" stroke="#4068e8" stroke-width="2.2"/><path d="M484.1 349.0h0M473.2 358.0h0M521.1 354.8h0M532.5 355.2h0M542.8 357.2h0M539.9 353.5h0M548.3 357.3h0M557.5 354.9h0M551.7 354.3h0M555.8 350.6h0M560.4 355.3h0M569.4 359.1h0M492.7 363.3h0M530.5 360.3h0M538.3 360.5h0M556.1 369.5h0M569.6 366.9h0M566.6 362.5h0M569.7 361.0h0M547.8 371.6h0M575.5 348.2h0M640.3 345.1h0M578.4 354.0h0M570.1 357.7h0M636.9 351.0h0M587.8 368.4h0M578.9 369.8h0" stroke="#4070e8" stroke-width="2.2"/><path d="M494.8 347.1h0M503.3 347.9h0M520.1 346.9h0M549.3 349.8h0M545.5 345.6h0M549.8 345.6h0M463.6 352.4h0M548.3 353.1h0M550.3 351.2h0M555.9 350.7h0M556.4 353.3h0M525.8 361.7h0M546.1 361.5h0M565.7 365.9h0M622.0 345.4h0M634.7 343.2h0M577.5 358.3h0M588.5 353.3h0M600.7 353.4h0M622.9 354.6h0M589.7 370.1h0" stroke="#4878e8" stroke-width="2.2"/><path d="M542.5 343.3h0M543.2 349.9h0M555.7 345.0h0M558.3 354.6h0M639.4 326.3h0M627.1 341.7h0M592.7 365.0h0" stroke="#5088e8" stroke-width="2.2"/><path d="M560.4 349.1h0M537.2 358.3h0M545.8 358.3h0M564.9 354.0h0M529.9 368.6h0M528.1 360.9h0M522.4 368.4h0M533.0 364.0h0M534.8 366.6h0M550.1 362.6h0M542.1 363.4h0M544.3 366.3h0M541.2 362.7h0M556.5 361.3h0M556.6 363.1h0M551.6 367.8h0M552.8 359.9h0M550.0 361.1h0M566.2 366.7h0M560.6 360.0h0M485.3 376.0h0M502.4 373.1h0M529.0 370.2h0M534.0 372.0h0M534.5 369.9h0M551.2 371.8h0M560.4 379.4h0M570.2 373.7h0M560.8 372.0h0M564.2 371.1h0M561.7 374.9h0M569.8 377.2h0M574.7 364.5h0M572.6 367.0h0M588.5 368.8h0M595.9 360.5h0M590.2 374.3h0M580.6 369.9h0M600.2 370.0h0M616.5 373.8h0" stroke="#3858e0" stroke-width="2.2"/><path d="M533.2 359.8h0M569.1 357.4h0M566.6 357.7h0M565.0 355.5h0M486.6 362.0h0M513.7 369.1h0M560.6 368.3h0M552.7 374.1h0M560.4 378.5h0M560.4 374.8h0M577.4 376.4h0M578.8 375.5h0M582.5 371.7h0" stroke="#3860e0" stroke-width="2.2"/><path d="M531.4 357.9h0M570.1 360.1h0M520.1 363.4h0M537.0 364.9h0M557.4 362.8h0M552.2 366.2h0M562.6 365.1h0M563.8 372.8h0M621.7 353.5h0M647.0 351.6h0M577.8 365.7h0M579.6 360.4h0M580.0 370.1h0M586.1 367.5h0" stroke="#3860e8" stroke-width="2.2"/><path d="M552.3 358.1h0M551.0 358.5h0M506.4 365.3h0M531.5 369.7h0M538.2 366.9h0M564.4 370.2h0M499.5 373.0h0M493.3 375.2h0M516.7 375.5h0M514.3 371.1h0M527.3 371.8h0M528.8 372.7h0M526.2 369.8h0M534.7 379.2h0M532.0 372.7h0M544.2 375.3h0M535.0 381.5h0M574.5 368.3h0M577.4 376.1h0M579.5 374.8h0M575.8 374.4h0M571.2 371.7h0M583.7 373.6h0M590.0 378.8h0M600.0 375.4h0M570.1 381.1h0M571.0 383.5h0M570.3 380.2h0M587.6 384.7h0M642.6 386.9h0" stroke="#3850e0" stroke-width="2.2"/><path d="M535.9 369.5h0M530.5 367.6h0M532.9 363.4h0M537.3 367.5h0M531.2 367.8h0M533.5 370.1h0M544.4 369.4h0M540.3 362.8h0M544.3 370.0h0M557.9 362.7h0M560.8 365.0h0M565.4 365.4h0M567.2 362.1h0M562.8 366.4h0M566.9 361.6h0M564.9 360.1h0M499.5 371.7h0M503.6 378.6h0M504.2 370.7h0M516.5 378.1h0M512.7 370.9h0M519.6 378.8h0M520.8 371.2h0M525.0 374.5h0M521.7 376.3h0M523.0 373.6h0M526.2 379.9h0M526.4 374.1h0M525.2 379.7h0M523.8 370.8h0M525.0 374.0h0M520.3 379.4h0M538.0 373.3h0M530.5 377.1h0M535.7 375.3h0M529.9 370.7h0M539.7 372.0h0M531.9 373.3h0M537.0 370.8h0M534.1 370.9h0M534.8 371.3h0M532.7 376.0h0M546.7 376.4h0M544.6 377.3h0M547.0 374.3h0M547.3 373.6h0M542.3 376.8h0M548.8 380.1h0M548.8 377.8h0M545.7 371.8h0M545.0 379.8h0M546.9 377.1h0M544.6 370.0h0M544.4 380.1h0M560.0 377.9h0M555.2 372.1h0M559.3 373.1h0M558.0 379.1h0M558.3 379.6h0M556.7 377.2h0M553.5 377.8h0M554.7 375.0h0M557.8 370.4h0M558.1 378.3h0M550.7 371.8h0M552.7 371.9h0M561.1 379.7h0M566.5 374.2h0M566.7 380.1h0M561.0 375.5h0M560.2 377.7h0M565.7 377.9h0M561.7 378.1h0M441.4 381.9h0M469.3 383.3h0M459.9 381.1h0M470.4 386.0h0M477.4 387.8h0M487.4 386.1h0M480.2 383.3h0M483.4 381.1h0M484.6 386.9h0M492.1 380.7h0M496.7 385.5h0M496.9 389.7h0M498.8 388.8h0M498.7 387.1h0M505.5 389.8h0M506.5 389.1h0M503.6 384.4h0M507.3 381.8h0M504.0 386.0h0M516.2 388.6h0M514.5 389.1h0M514.5 386.5h0M514.8 387.5h0M516.0 380.9h0M515.0 387.7h0M517.5 380.3h0M519.9 381.1h0M524.8 383.1h0M522.9 382.6h0M523.4 389.0h0M526.6 386.9h0M529.8 381.4h0M523.6 389.5h0M524.6 388.1h0M529.7 380.7h0M526.1 380.0h0M521.0 380.2h0M521.2 387.6h0M524.3 386.6h0M529.0 389.2h0M526.8 389.9h0M520.7 388.2h0M521.8 383.8h0M539.0 380.7h0M530.0 386.2h0M533.4 388.2h0M530.8 387.7h0M533.3 385.9h0M538.5 381.0h0M532.4 384.3h0M532.3 384.1h0M539.1 380.9h0M539.8 379.9h0M540.0 380.5h0M433.1 389.9h0M440.3 395.1h0M452.2 390.6h0M464.4 394.8h0M464.2 397.1h0M468.2 390.4h0M472.6 390.1h0M473.5 394.9h0M477.4 390.1h0M480.8 400.2h0M483.9 391.4h0M487.8 390.7h0M493.5 391.9h0M492.0 398.9h0M499.4 398.5h0M492.7 392.0h0M490.9 398.9h0M496.1 395.2h0M502.6 390.7h0M504.8 397.2h0M505.9 395.4h0M506.2 399.9h0M504.1 397.8h0M503.2 400.3h0M514.8 389.7h0M516.6 392.8h0M518.6 395.8h0M449.6 402.5h0M460.1 400.8h0M459.1 407.8h0M456.1 400.5h0M454.1 405.6h0M467.7 407.8h0M470.1 401.3h0M461.9 404.8h0M475.4 402.3h0M476.7 402.1h0M485.3 403.5h0M484.0 409.4h0M481.4 403.6h0M488.8 404.1h0M487.3 403.6h0M498.0 402.1h0M492.3 400.2h0M494.5 405.5h0M442.2 413.6h0M448.1 416.3h0M456.5 412.8h0M464.9 412.5h0M462.9 416.8h0M471.4 419.8h0M471.9 419.8h0M574.8 368.3h0M572.1 367.0h0M579.5 368.7h0M578.3 361.8h0M606.5 366.0h0M577.3 379.9h0M576.0 379.0h0M575.1 379.5h0M575.9 370.5h0M575.5 378.7h0M572.4 377.3h0M570.1 378.3h0M574.1 370.4h0M576.4 371.8h0M572.6 379.9h0M589.4 372.5h0M589.2 373.9h0M580.5 374.6h0M589.4 377.3h0M581.0 374.0h0M580.1 375.4h0M579.8 379.8h0M586.5 372.8h0M587.6 375.0h0M584.0 372.0h0M589.0 378.3h0M586.7 374.7h0M583.6 372.4h0M586.5 377.9h0M596.0 378.9h0M608.4 376.4h0M607.8 373.4h0M613.3 370.3h0M621.8 377.3h0M625.4 370.2h0M629.4 376.9h0M577.4 381.6h0M571.8 382.9h0M578.1 384.3h0M573.9 386.9h0M579.0 386.5h0M576.0 382.6h0M570.4 382.8h0M570.1 384.5h0M576.6 383.3h0M575.2 382.8h0M574.3 385.9h0M577.8 381.6h0M581.8 388.0h0M586.6 388.0h0M584.5 384.4h0M588.0 381.4h0M586.3 381.7h0M583.0 380.3h0M583.6 384.3h0M589.2 383.2h0M588.0 384.0h0M589.4 380.6h0M585.0 389.3h0M588.7 383.1h0M582.5 383.0h0M588.6 389.2h0M585.9 386.0h0M588.2 383.4h0M583.6 380.0h0M583.6 380.0h0M594.1 387.3h0M592.6 389.3h0M592.0 384.2h0M591.7 384.6h0M593.3 381.3h0M598.4 387.3h0M599.6 388.8h0M596.9 381.1h0M595.5 388.6h0M597.3 380.9h0M591.1 383.8h0M595.8 387.6h0M599.5 389.6h0M592.9 388.8h0M590.9 389.8h0M598.5 389.2h0M599.8 386.8h0M597.8 387.6h0M590.9 389.7h0M603.1 379.9h0M607.2 380.6h0M601.7 387.8h0M606.8 381.3h0M603.1 387.6h0M617.7 382.5h0M617.7 382.0h0M614.3 380.4h0M619.9 387.2h0M624.4 382.6h0M627.2 382.0h0M647.3 387.6h0M644.2 387.3h0M652.8 384.9h0M659.1 384.6h0M656.8 388.3h0M598.9 396.7h0M596.7 390.0h0M591.7 394.5h0M599.8 393.3h0M592.9 392.7h0M589.7 390.3h0M597.4 393.4h0M596.9 393.6h0M595.8 394.9h0M589.8 393.2h0M599.1 391.1h0M591.0 394.1h0M600.7 390.8h0M599.9 391.0h0M608.7 398.0h0M607.6 399.7h0M604.4 396.7h0M604.7 398.5h0M602.2 396.8h0M605.0 396.3h0M603.5 398.6h0M608.5 398.8h0M601.9 392.6h0M607.4 396.7h0M606.1 392.2h0M609.2 399.6h0M603.6 392.9h0M604.2 394.3h0M602.3 397.8h0M604.4 398.7h0M600.2 392.2h0M615.3 395.3h0M618.9 394.1h0M619.7 391.7h0M617.8 395.1h0M619.7 398.2h0M619.4 395.9h0M625.7 399.2h0M624.0 397.6h0M625.8 390.2h0M650.3 392.8h0M640.5 391.9h0M640.5 394.1h0M649.9 395.0h0M656.6 394.7h0M656.2 398.3h0M668.9 390.2h0M666.2 389.8h0M663.9 397.5h0M668.0 393.1h0M676.0 400.2h0M675.2 394.1h0M673.4 391.5h0M685.7 396.2h0M616.9 402.4h0M618.2 404.3h0M617.8 406.0h0M612.6 402.5h0M612.7 402.0h0M617.2 401.4h0M617.3 401.7h0M630.1 405.5h0M625.8 404.3h0M627.0 410.3h0M638.7 410.2h0M630.1 400.8h0M633.9 408.9h0M641.1 405.0h0M651.7 401.5h0M667.0 409.4h0M682.3 400.9h0M654.8 411.8h0M655.5 413.0h0M665.5 416.0h0M674.2 410.2h0M535.3 393.5h0M550.5 390.8h0M557.2 411.4h0M600.8 400.9h0M520.6 408.1h0M580.7 401.0h0M532.7 391.0h0M536.3 398.3h0M553.6 399.1h0M555.9 392.3h0M588.3 405.3h0M506.3 412.0h0M575.5 401.6h0M491.2 417.8h0M585.2 415.6h0M602.3 408.0h0M556.3 382.4h0M524.2 419.0h0M563.0 410.5h0M565.7 390.1h0M541.9 384.4h0M570.5 403.0h0M546.0 397.6h0M575.8 415.1h0M496.7 412.0h0M557.3 388.8h0M616.4 419.0h0M578.7 395.1h0M574.9 412.2h0M554.5 389.9h0M525.1 413.8h0M628.9 433.8h0M520.6 422.2h0M523.6 409.9h0M592.0 399.7h0M566.7 405.1h0M564.1 390.3h0M579.9 405.3h0M578.2 389.2h0M558.0 384.7h0M589.9 397.2h0M588.0 397.0h0M566.4 417.2h0M519.3 406.9h0M558.4 403.7h0M553.4 399.3h0M526.9 398.7h0M627.6 410.5h0M550.3 396.2h0M514.8 417.8h0M569.3 398.7h0M547.4 403.4h0M563.9 413.7h0M516.8 400.2h0M581.0 394.0h0M541.6 391.8h0M539.6 389.4h0M597.1 403.9h0M582.9 393.8h0M591.8 404.3h0M518.3 404.4h0M554.5 407.3h0M525.9 407.8h0M549.1 382.9h0M581.8 405.8h0M573.3 394.1h0M574.0 394.4h0M554.4 410.3h0M591.9 401.9h0M588.2 399.4h0M542.3 415.5h0M486.0 416.2h0M521.3 407.2h0M546.7 387.2h0M574.6 393.3h0M572.8 396.3h0M540.2 391.9h0M535.9 386.6h0M532.0 390.1h0M529.8 396.8h0M534.8 411.0h0M542.4 413.1h0M562.5 402.8h0M528.9 411.8h0M503.1 405.1h0M591.2 396.0h0M583.9 410.3h0M578.1 411.3h0M514.3 412.0h0M540.3 403.3h0M557.7 388.0h0M550.6 386.0h0M575.6 396.0h0M559.3 397.6h0M583.4 393.7h0M622.7 431.8h0M496.4 408.6h0M560.4 406.6h0M478.9 420.5h0M500.9 411.1h0M554.1 388.8h0M527.0 409.5h0M555.8 398.5h0M558.7 397.0h0M566.5 409.1h0M554.7 407.0h0M591.2 396.1h0M523.2 402.3h0M570.3 390.7h0M535.0 403.9h0M555.7 392.0h0M582.3 403.7h0M515.7 406.8h0M552.4 383.7h0M515.4 401.5h0M495.9 414.2h0M522.3 396.4h0M594.2 398.5h0M530.9 393.1h0M502.7 407.2h0M514.6 397.3h0M636.4 423.6h0M580.9 412.4h0M525.1 408.3h0M505.2 407.7h0M613.1 410.3h0M534.2 404.3h0M595.5 401.1h0M547.1 400.2h0M519.8 414.6h0M547.9 396.6h0M571.3 408.7h0M583.1 420.8h0M597.5 398.9h0M583.9 403.2h0M583.0 399.6h0M600.2 402.7h0M574.5 401.1h0M559.6 404.6h0M583.5 410.2h0M553.9 407.5h0M565.6 394.6h0M620.5 411.1h0M550.0 386.3h0M507.2 415.1h0M540.5 399.4h0M601.5 404.7h0M534.7 402.0h0M564.4 397.2h0M544.0 387.5h0M579.3 398.8h0M554.0 420.6h0M536.5 389.9h0M514.9 399.4h0M538.3 403.3h0M558.8 402.2h0M570.6 407.6h0M598.5 413.6h0M517.0 400.5h0M615.3 416.2h0M572.7 415.8h0M524.8 401.5h0M610.7 406.1h0M563.7 404.0h0M527.9 398.4h0M546.6 386.7h0M546.2 412.5h0M582.3 401.5h0M533.6 393.2h0M549.9 403.2h0M571.9 413.0h0M471.1 421.7h0M589.8 407.3h0M623.2 419.3h0M603.4 403.4h0M569.2 395.9h0M549.6 396.5h0M597.9 401.5h0M495.0 416.5h0M532.9 395.6h0M534.2 401.2h0M539.4 388.5h0M525.2 398.6h0M577.8 392.1h0M564.7 392.4h0M528.9 395.8h0M534.5 395.0h0M579.4 404.3h0M514.6 409.9h0M584.1 394.7h0M533.2 389.5h0M552.3 410.4h0M512.6 425.2h0M614.9 407.3h0M533.1 391.9h0M582.0 405.1h0M577.2 394.6h0M603.3 414.2h0M561.1 397.0h0M563.9 383.6h0M540.3 402.6h0M610.2 408.2h0M535.2 405.5h0M522.5 408.3h0M586.6 394.8h0M549.9 387.7h0M539.1 390.1h0M580.8 397.0h0M579.4 393.2h0M572.2 398.5h0M506.7 404.1h0M576.1 396.5h0M535.9 405.5h0M509.4 413.2h0M577.2 396.1h0M600.7 403.3h0M548.7 407.7h0M520.3 396.9h0M518.3 402.4h0M532.2 411.8h0M579.6 407.1h0M539.4 394.3h0M544.9 410.0h0M570.0 390.6h0M527.9 407.6h0M511.5 402.7h0M572.0 390.9h0M538.2 390.0h0M498.7 408.5h0M559.0 387.9h0M557.2 378.9h0M549.5 389.0h0M531.5 408.8h0M550.4 405.6h0M608.7 414.9h0M537.1 402.4h0M546.2 419.4h0M554.1 388.4h0M555.1 379.2h0M572.2 407.2h0M570.3 389.9h0M597.1 406.7h0M582.4 394.5h0M505.8 414.4h0M539.2 396.5h0M567.2 389.0h0M551.1 393.5h0M525.4 411.5h0M568.2 400.3h0M553.7 391.5h0M622.6 406.9h0M517.6 411.5h0M600.0 408.4h0M593.2 401.5h0M540.9 393.6h0M553.5 389.9h0M523.2 401.7h0M523.9 403.7h0M529.1 401.9h0M527.4 409.3h0M526.7 402.1h0M528.3 401.3h0M557.2 388.4h0M529.9 404.3h0M533.5 396.4h0M538.6 396.9h0M535.5 388.1h0M543.1 412.0h0M521.7 401.1h0M579.4 408.5h0M512.7 405.5h0M556.2 396.3h0M598.3 403.0h0M516.0 403.7h0M560.5 395.2h0M585.6 401.5h0M554.3 385.8h0M587.1 404.7h0M523.6 409.4h0M558.9 412.4h0M556.0 390.9h0M555.2 386.3h0M582.9 397.6h0M586.9 392.9h0M512.9 411.1h0M557.0 399.6h0M499.2 413.4h0M508.1 407.2h0M539.4 390.7h0M498.2 412.0h0M533.2 388.1h0M545.0 400.3h0M568.4 390.4h0M525.6 407.5h0M536.7 398.3h0M533.2 400.8h0M594.2 403.3h0M516.6 397.3h0M557.6 399.6h0M571.7 403.3h0M557.7 410.2h0M545.5 385.0h0M607.2 403.2h0M541.7 384.0h0M565.3 392.5h0M562.1 402.6h0M605.4 413.8h0M555.0 406.4h0M543.1 389.7h0M548.0 393.0h0M505.8 410.4h0M565.2 404.3h0M609.4 410.9h0M567.1 394.8h0M534.2 419.5h0M542.4 388.7h0M626.7 410.7h0M558.4 382.3h0M518.2 411.8h0M607.7 405.4h0M602.2 406.3h0M573.6 415.4h0M549.4 418.5h0M505.3 404.3h0M518.1 401.1h0M516.1 410.2h0M585.8 403.9h0M543.4 387.4h0M555.5 410.1h0M488.8 416.9h0M529.1 395.2h0M516.8 399.1h0M575.1 391.0h0M533.3 389.8h0M550.4 406.3h0M518.5 421.0h0M590.9 403.3h0M541.5 415.4h0M546.8 415.5h0M524.0 400.5h0M533.4 404.4h0M532.0 405.8h0M520.9 403.3h0M591.5 400.2h0M616.5 407.8h0M530.6 393.5h0M602.4 417.1h0M570.5 410.8h0M555.9 419.7h0M564.6 402.3h0M529.5 424.3h0M517.0 395.1h0M567.0 405.7h0M516.1 396.7h0M602.3 411.9h0M549.8 393.4h0M583.8 397.0h0M559.2 403.1h0M564.2 416.4h0M586.4 415.4h0M533.0 403.4h0M539.8 393.7h0M547.4 398.0h0M605.3 408.3h0M620.5 408.5h0M544.6 394.9h0M560.5 391.5h0M539.8 390.8h0M571.5 391.8h0M538.8 390.5h0M574.1 408.8h0M622.9 413.7h0M558.1 400.5h0M514.9 410.2h0M579.1 399.6h0M576.2 408.7h0M623.6 416.5h0M521.8 402.1h0M587.4 413.0h0M618.8 407.7h0M547.4 383.1h0M564.4 388.9h0M536.0 403.8h0M555.9 404.8h0M536.7 420.7h0M539.9 390.2h0M543.7 411.1h0M553.0 403.0h0M562.6 392.8h0M554.3 392.0h0M565.1 395.4h0M543.7 393.3h0M552.5 387.5h0M516.1 414.0h0M543.0 405.7h0M546.5 407.2h0M539.4 399.1h0M620.1 410.3h0M567.1 403.4h0M521.3 395.6h0M589.5 396.3h0M568.7 399.2h0M492.5 420.1h0M576.6 399.1h0M593.9 407.3h0M594.2 402.5h0M551.8 395.7h0M555.7 384.5h0M565.2 387.2h0M524.8 406.8h0M546.6 392.3h0M583.4 417.5h0M577.6 405.2h0M630.2 412.4h0M545.8 406.4h0M505.5 405.7h0M511.3 406.9h0M517.4 400.3h0M557.7 391.7h0M579.7 397.7h0M574.4 415.7h0M527.9 394.1h0M559.2 394.1h0M546.2 392.0h0M561.6 420.1h0M531.7 393.4h0M535.8 402.0h0M589.9 393.3h0M578.7 399.4h0M513.2 399.6h0M593.7 399.4h0M556.1 390.0h0M526.5 402.6h0M566.7 387.9h0M576.9 397.2h0M496.8 410.0h0M543.5 386.6h0M635.6 414.4h0M532.5 422.3h0M587.5 406.2h0M574.2 406.0h0M509.1 410.0h0M587.6 410.3h0M620.0 413.9h0M517.9 413.4h0M509.5 410.0h0M604.9 403.4h0M617.9 415.7h0M514.7 413.8h0M536.2 421.6h0M625.4 412.8h0M561.4 387.6h0M601.0 398.4h0M589.3 417.2h0M568.2 410.2h0M544.8 400.3h0M554.4 408.5h0M578.8 405.7h0M553.8 393.9h0M530.0 419.0h0M588.8 406.8h0M542.9 397.4h0M578.1 413.6h0M556.6 394.0h0M549.1 384.3h0M552.5 404.2h0M600.5 398.8h0M571.6 404.1h0M573.7 405.4h0M545.4 394.1h0M567.5 402.4h0M506.3 404.3h0M603.2 415.2h0M507.8 407.1h0M563.5 405.8h0M503.7 406.6h0M516.3 410.5h0M513.6 400.7h0M497.9 415.5h0M554.7 397.6h0M541.8 399.5h0M553.4 379.6h0M539.4 401.7h0M587.3 405.2h0M579.1 396.9h0M550.8 407.9h0M553.5 392.2h0M523.3 399.0h0M512.5 415.9h0M533.9 389.2h0M545.5 396.5h0M537.9 388.7h0M545.9 388.1h0M582.8 397.4h0M576.0 390.8h0M541.9 407.3h0M529.7 390.9h0M560.7 384.5h0M530.5 410.6h0M604.2 407.5h0M485.7 413.4h0M575.3 411.6h0M528.5 393.2h0M616.5 414.2h0M538.3 393.4h0M522.9 399.3h0M517.3 396.2h0M528.4 403.2h0M594.5 409.3h0M511.0 408.6h0M607.8 401.2h0M585.3 399.6h0M506.0 415.7h0M544.1 384.0h0M562.5 393.7h0M578.3 402.6h0M549.5 397.4h0M577.7 407.5h0M585.8 413.0h0M567.8 390.5h0M626.0 412.8h0" stroke="#3048e0" stroke-width="2.2"/><path d="M539.9 363.5h0" stroke="#4870e8" stroke-width="2.2"/><path d="M542.3 368.2h0M549.9 367.1h0M521.1 379.4h0M521.5 374.6h0M531.0 377.3h0M541.2 374.4h0M543.6 372.6h0M578.7 360.7h0M612.1 369.6h0M578.9 374.5h0M575.4 378.9h0M599.1 376.9h0M576.4 380.4h0M598.4 381.1h0M561.4 387.3h0M554.8 380.7h0" stroke="#3050e0" stroke-width="2.2"/><path d="M476.7 405.6h0M472.8 408.6h0M486.6 406.8h0M496.4 405.8h0M492.7 405.1h0M442.1 412.6h0M457.3 410.3h0M454.4 417.1h0M468.9 411.5h0M466.6 410.1h0M466.6 412.8h0M460.3 417.8h0M474.7 416.8h0M472.8 418.1h0M472.2 418.2h0M475.2 418.2h0M440.4 422.0h0M449.4 419.8h0M446.1 421.7h0M444.7 424.3h0M450.1 422.0h0M454.0 429.1h0M455.1 423.0h0M457.9 420.9h0M459.7 419.8h0M450.6 429.5h0M431.4 437.0h0M449.5 432.5h0M445.2 434.0h0M447.3 433.2h0M439.9 433.0h0M442.9 434.1h0M439.5 443.4h0M439.8 448.7h0M612.2 394.2h0M628.3 410.0h0M625.7 407.6h0M650.4 410.3h0M644.5 414.9h0M642.0 411.1h0M654.1 415.5h0M660.0 419.7h0M665.6 418.0h0M668.1 416.0h0M688.6 419.2h0M666.7 425.5h0M665.2 420.7h0M667.4 419.9h0M667.3 425.3h0M676.2 428.0h0M677.5 430.1h0M678.1 428.9h0M673.1 425.7h0M686.8 427.1h0M683.7 430.9h0M681.8 432.3h0M671.3 450.3h0M678.8 446.8h0M669.9 447.5h0M674.4 446.6h0M678.5 443.9h0M674.7 447.6h0M675.8 444.1h0M671.3 447.5h0M480.4 448.9h0M506.4 437.9h0M615.6 429.1h0M653.2 438.2h0M566.1 434.6h0M512.1 469.0h0M641.8 440.0h0M491.0 422.0h0M634.4 444.8h0M590.3 431.3h0M614.2 446.6h0M469.4 431.3h0M563.5 419.0h0M492.9 458.6h0M571.2 428.4h0M448.6 438.6h0M445.9 439.1h0M525.2 454.8h0M489.9 448.8h0M463.7 453.2h0M643.6 426.2h0M637.0 415.9h0M653.0 432.9h0M505.3 412.6h0M574.3 460.5h0M460.8 444.8h0M574.1 439.8h0M539.6 430.5h0M634.2 417.1h0M534.6 468.2h0M521.0 424.3h0M605.3 470.4h0M522.2 456.0h0M645.7 454.9h0M457.6 432.3h0M513.0 441.1h0M500.4 437.4h0M592.8 441.2h0M564.2 425.7h0M522.9 425.6h0M479.0 423.4h0M561.1 442.7h0M478.9 448.4h0M481.2 435.8h0M586.6 418.3h0M580.5 432.9h0M655.7 428.9h0M549.0 431.2h0M551.0 445.0h0M509.0 452.7h0M549.0 435.6h0M459.1 447.6h0M486.5 435.3h0M521.5 455.6h0M566.9 442.1h0M604.7 431.4h0M448.8 446.5h0M674.2 442.8h0M617.2 412.4h0M517.7 428.3h0M670.8 440.1h0M484.9 428.2h0M584.7 438.1h0M511.8 458.5h0M643.7 440.5h0M541.6 423.7h0M496.6 422.5h0M514.7 454.1h0M447.0 434.0h0M559.0 421.2h0M629.7 460.0h0M515.7 431.0h0M620.0 463.6h0M626.4 446.5h0M633.4 418.8h0M572.9 441.8h0M566.7 438.8h0M555.1 452.4h0M590.0 488.1h0M510.8 435.7h0M581.1 462.5h0M545.4 413.5h0M524.4 429.5h0M501.7 463.5h0M551.5 428.7h0M491.4 416.3h0M587.2 464.2h0M530.9 464.5h0M633.3 447.4h0M625.0 440.0h0M581.4 427.0h0M492.8 426.8h0M576.2 452.1h0M547.1 467.7h0M614.9 409.7h0M487.7 421.1h0M562.2 428.7h0M489.9 415.0h0M479.0 444.4h0M595.7 470.8h0M555.2 416.6h0M596.6 411.0h0M540.6 465.5h0M588.1 464.6h0M627.2 452.4h0M510.1 429.6h0M570.8 442.4h0M501.7 423.6h0M603.5 441.5h0M639.1 437.2h0M554.1 461.0h0M489.7 438.6h0M541.5 470.0h0M626.8 459.2h0M633.9 418.1h0M656.9 440.4h0M598.1 466.4h0M578.0 425.6h0M560.5 447.5h0M482.0 454.1h0M654.9 440.2h0M586.3 399.4h0M495.6 452.6h0M631.0 452.3h0M668.4 429.6h0M572.5 460.4h0M511.4 431.2h0M604.5 427.9h0M480.8 441.9h0M605.5 440.7h0M467.5 441.9h0M602.7 453.8h0M575.1 462.4h0M479.4 429.4h0M455.6 433.6h0M502.8 440.1h0M639.9 419.6h0M546.6 436.6h0M558.2 456.7h0M608.0 450.3h0M558.2 451.1h0M628.8 416.6h0M527.5 413.8h0M482.5 426.9h0M614.1 467.2h0M658.3 424.9h0M523.4 440.0h0M546.6 427.7h0M491.3 440.7h0M580.2 413.6h0M477.5 453.1h0M484.1 432.4h0M461.0 439.6h0M604.0 435.2h0M588.9 414.7h0M521.3 460.9h0M465.5 440.1h0M547.3 433.7h0M518.1 425.6h0M620.0 474.2h0M577.8 415.9h0M537.1 440.2h0M572.3 424.6h0M543.2 454.1h0M564.2 433.1h0M511.1 442.6h0M593.3 457.4h0M524.5 413.3h0M572.5 405.7h0M566.3 441.3h0M482.4 453.5h0M557.7 408.0h0M482.1 442.9h0M553.1 442.8h0M579.4 433.4h0M518.3 416.9h0M550.6 447.5h0M569.9 414.9h0M491.1 461.8h0M576.3 449.4h0M545.5 439.5h0M633.4 454.9h0M580.3 438.4h0M604.4 447.3h0M499.9 465.0h0M497.8 411.2h0M556.1 405.7h0M592.7 447.4h0M621.0 454.3h0M559.4 427.7h0M529.5 471.1h0M582.4 435.6h0M467.5 432.5h0M531.3 464.6h0M513.2 407.1h0M465.7 450.0h0M462.1 453.1h0M546.0 444.0h0M529.8 437.0h0M546.6 422.2h0M505.0 457.4h0M515.0 436.6h0M470.5 455.2h0M563.3 468.8h0M564.4 445.5h0M639.9 439.1h0M489.9 449.0h0M497.9 427.2h0M591.0 449.7h0M639.1 430.8h0M553.0 460.5h0M610.4 436.6h0M482.9 438.7h0M534.1 460.2h0M583.1 433.1h0M537.2 419.2h0M554.2 425.2h0M620.4 425.6h0M567.7 459.3h0M567.6 430.7h0M460.3 445.3h0M481.2 458.4h0M683.2 436.7h0M629.4 410.8h0M462.5 430.6h0M512.1 421.0h0M539.1 431.6h0M586.9 454.9h0M618.2 473.9h0M528.6 420.0h0M578.6 409.3h0M500.0 438.7h0M529.0 444.7h0M510.5 458.5h0M658.7 428.2h0M465.3 434.4h0M589.6 453.0h0M584.4 472.8h0M566.5 444.6h0M561.7 456.8h0M558.0 422.7h0M513.8 444.2h0M663.1 426.4h0M541.8 432.5h0M540.7 433.7h0M563.1 432.1h0M504.8 405.9h0M611.7 440.1h0M592.3 423.2h0M583.7 437.9h0M610.9 457.8h0M493.7 434.5h0M516.7 444.9h0M597.8 448.5h0M478.5 433.1h0M507.2 467.5h0M533.7 451.6h0M603.9 436.2h0M672.0 443.2h0M480.0 449.4h0M616.8 448.3h0M484.2 428.8h0M515.6 417.0h0M581.2 412.3h0M540.3 441.1h0M601.3 459.4h0M598.6 450.2h0M610.2 418.1h0M479.5 451.9h0M655.6 447.0h0M524.2 473.2h0M590.4 425.6h0M546.1 443.9h0M602.2 433.2h0M635.0 421.8h0M627.8 442.4h0M642.9 424.3h0M575.0 440.4h0M550.1 412.0h0M588.3 431.9h0M597.7 474.7h0M627.3 431.2h0M597.1 467.2h0M664.0 439.6h0M627.0 466.0h0M561.2 428.2h0M608.0 405.8h0M631.6 436.9h0M662.0 443.2h0M459.3 443.6h0M485.4 441.8h0M549.8 467.7h0M572.4 424.9h0M487.2 459.0h0M524.9 465.6h0M555.1 428.9h0M613.5 438.6h0M492.8 419.7h0M547.5 417.3h0M575.1 417.3h0M613.5 438.9h0M507.0 443.5h0M514.7 440.0h0M438.6 440.3h0M576.5 422.9h0M449.5 444.2h0M523.4 466.4h0M576.8 440.9h0M620.1 448.1h0M505.4 428.5h0M529.1 415.9h0M541.3 442.3h0M547.5 446.2h0M548.8 457.1h0M577.9 432.4h0M641.0 455.5h0M625.5 470.0h0M474.0 424.7h0M551.1 469.4h0M552.2 407.7h0M533.3 452.8h0M614.5 421.8h0M485.3 422.1h0M516.1 413.5h0M574.3 401.5h0M638.6 455.0h0M583.5 466.6h0M548.8 431.8h0M620.5 418.4h0M522.9 440.0h0M637.3 435.4h0M664.4 433.7h0M469.7 453.1h0M496.2 458.9h0M596.7 435.0h0M577.6 446.4h0M484.2 449.1h0M619.7 448.7h0M485.6 429.1h0M591.6 466.4h0M578.6 445.7h0M584.1 411.5h0M525.6 445.4h0M621.8 448.0h0M634.1 425.2h0M472.6 440.3h0M511.6 411.5h0M536.2 420.7h0M648.4 423.6h0M534.1 471.8h0M561.2 446.8h0M556.9 425.6h0M575.5 450.8h0M617.5 413.8h0M546.1 433.0h0M517.8 469.5h0M504.2 415.5h0M598.2 445.0h0M578.6 433.6h0M537.7 452.9h0M532.4 454.5h0M485.9 449.1h0M530.7 446.8h0M550.4 421.7h0M484.6 431.8h0M578.1 460.3h0M532.4 456.1h0M532.5 423.2h0M510.2 457.1h0M598.9 419.9h0M532.1 477.6h0M578.3 422.3h0M603.0 431.1h0M444.9 438.6h0M523.1 435.0h0M544.8 453.4h0M487.5 422.9h0M642.2 439.1h0M598.1 467.6h0M492.5 457.5h0M619.7 424.2h0M550.2 418.5h0M631.7 452.3h0M476.4 425.6h0M505.3 411.0h0M550.9 425.8h0M668.0 444.5h0M514.2 445.3h0M608.5 442.6h0M540.4 420.6h0M476.0 434.3h0M519.6 426.5h0M539.8 414.6h0M621.9 460.1h0M555.2 466.1h0M635.1 414.0h0M594.0 454.4h0M569.7 470.4h0M598.2 455.6h0M553.4 440.7h0M616.0 444.6h0M655.2 430.3h0M627.6 459.6h0M531.0 430.4h0M640.0 439.3h0M632.2 428.4h0M564.6 419.8h0M474.9 456.5h0M632.5 432.6h0M669.2 437.1h0M626.1 432.8h0M579.3 450.3h0M589.5 467.1h0M485.0 427.1h0M569.6 469.2h0M551.1 445.1h0M486.0 423.3h0M564.5 462.6h0M521.9 433.6h0M631.9 449.6h0M489.0 416.5h0M544.8 414.7h0M599.6 459.4h0M515.9 415.4h0M517.4 447.7h0M653.3 445.0h0M658.6 429.5h0M516.0 431.7h0M595.6 403.7h0M507.6 452.9h0M519.8 456.9h0M663.1 431.3h0M632.8 436.9h0M601.7 464.9h0M534.2 459.6h0M608.2 445.7h0M506.6 459.1h0M592.4 452.6h0M645.6 420.9h0M548.7 453.6h0M562.9 452.9h0M656.2 449.4h0M570.7 465.6h0M475.6 440.4h0M595.0 445.0h0M544.5 424.4h0M654.2 449.2h0M627.9 449.2h0M501.8 421.6h0M458.2 446.7h0M469.4 429.1h0M558.0 430.3h0M555.9 440.5h0M504.2 408.0h0M525.2 473.9h0M669.0 429.3h0M626.9 433.4h0M518.2 467.2h0M603.7 455.1h0M597.7 414.0h0M626.5 422.4h0M527.2 459.8h0M615.1 416.8h0M600.9 453.0h0M546.8 438.7h0M584.1 436.6h0M528.4 445.4h0M627.8 443.6h0M643.5 460.3h0M640.4 461.1h0M490.8 425.7h0M599.2 402.7h0M638.2 460.1h0M480.8 455.2h0M603.4 435.0h0M600.6 459.2h0M572.7 444.1h0M544.1 435.4h0M474.1 445.4h0M656.8 452.6h0M616.4 466.5h0M487.5 449.1h0M572.3 437.6h0M573.6 431.7h0M603.0 450.2h0M528.5 472.8h0M487.2 439.4h0M540.3 414.9h0M545.8 453.3h0M636.1 438.5h0M555.5 424.4h0M619.6 461.7h0M504.6 408.6h0M645.5 429.5h0M515.5 449.4h0M517.7 457.2h0M611.8 452.4h0M674.8 439.6h0M576.0 427.2h0M601.3 447.2h0M549.8 426.1h0M458.3 446.3h0M594.5 434.3h0M649.6 458.0h0M508.1 428.0h0M512.2 401.5h0M589.0 413.3h0M558.0 442.6h0M534.2 419.5h0M596.8 446.5h0M531.6 438.0h0M476.3 426.9h0M564.1 418.8h0M582.4 414.9h0M630.1 459.2h0M600.3 416.4h0M508.7 431.3h0M600.0 440.1h0M551.9 439.8h0M506.0 453.2h0M609.0 411.2h0M584.7 426.5h0M529.7 444.8h0M612.9 458.0h0M606.1 433.3h0M497.0 439.8h0M501.8 462.8h0M542.1 417.3h0M481.5 440.0h0M662.9 430.9h0M446.0 446.0h0M536.9 453.4h0M562.2 428.4h0M649.6 456.8h0M550.4 463.1h0M638.1 442.8h0M582.6 428.0h0M563.5 475.4h0M614.1 430.7h0M541.5 417.8h0M519.9 441.0h0M449.7 442.1h0M529.9 459.3h0M544.0 419.7h0M502.4 430.1h0M621.5 431.4h0M605.0 420.7h0M563.3 431.8h0M635.2 441.3h0M504.7 462.8h0M496.3 438.8h0M664.2 441.2h0M668.2 432.8h0M625.4 410.6h0M486.8 455.0h0M457.8 430.4h0M596.3 421.0h0M674.3 440.9h0M539.5 434.2h0M631.9 448.3h0M451.1 434.2h0M556.8 417.9h0M644.3 440.1h0M545.4 416.1h0M665.9 431.8h0M509.8 443.0h0M555.7 450.2h0M500.3 455.3h0M615.5 434.3h0M495.4 441.2h0M619.9 416.5h0M611.7 439.7h0M541.9 420.0h0M596.5 415.0h0M596.5 438.1h0M622.2 447.9h0M555.3 429.5h0M565.0 475.4h0M526.7 425.4h0M605.3 458.3h0M548.0 452.1h0M609.2 462.7h0M648.8 433.0h0M577.3 428.5h0M510.7 464.8h0M458.5 437.9h0M552.4 450.5h0M538.8 460.7h0M623.8 457.2h0M668.2 432.4h0M645.9 429.6h0M518.5 449.8h0M536.5 429.2h0M635.6 422.8h0M597.6 435.6h0M595.0 451.0h0M591.6 411.1h0M588.4 430.3h0M562.1 404.6h0M467.2 431.1h0M602.6 450.7h0M609.0 411.3h0M556.8 465.5h0M581.6 445.6h0M453.4 438.3h0M514.6 451.3h0M540.5 452.7h0M638.5 453.6h0M523.7 476.1h0M457.8 435.0h0M674.1 439.1h0M559.3 419.4h0M582.8 427.4h0M492.7 436.5h0M471.5 456.2h0M618.7 438.2h0M610.5 445.9h0M490.4 451.4h0M613.6 451.8h0M630.6 451.0h0M647.4 446.3h0M506.0 419.7h0M588.7 429.9h0M562.5 427.3h0M490.5 442.1h0M513.1 410.8h0M599.2 457.1h0M544.0 433.2h0M620.8 427.0h0M634.4 442.0h0M653.5 440.3h0M664.5 431.8h0M526.8 410.2h0M573.5 408.3h0M532.4 437.9h0M562.6 461.1h0M500.4 454.7h0M602.9 404.0h0M453.7 434.8h0M451.6 443.9h0M673.3 431.8h0M568.3 425.1h0M609.1 449.8h0M587.0 420.8h0M492.6 451.2h0M519.9 466.0h0M597.2 427.7h0M552.9 446.9h0M531.7 445.3h0M658.1 443.8h0M607.6 466.2h0M532.8 443.2h0M593.6 450.4h0M572.0 416.2h0M614.5 445.8h0M485.9 461.3h0M563.1 464.2h0M507.3 428.1h0M615.1 449.3h0M536.2 445.3h0M539.5 431.1h0M633.5 421.7h0M494.6 460.8h0M636.8 423.2h0M594.5 461.1h0M645.4 448.7h0M602.6 443.9h0M591.5 427.4h0M566.7 477.3h0M661.0 428.1h0M571.3 427.9h0M520.3 452.9h0M498.8 455.5h0M502.2 427.3h0M623.2 460.0h0M639.1 439.8h0M496.6 423.4h0M655.4 430.2h0M514.7 423.9h0M556.8 416.5h0M500.5 468.5h0M535.4 458.7h0M447.6 438.5h0M525.4 457.2h0M568.0 427.4h0M541.6 451.5h0M619.1 419.1h0M528.3 433.7h0M514.6 460.9h0M618.8 420.0h0M484.5 447.3h0M627.1 452.9h0M606.9 428.2h0M481.9 455.3h0M531.6 433.9h0M497.8 422.5h0M657.8 432.9h0M466.9 430.4h0M516.7 428.3h0M529.4 425.2h0M504.6 420.8h0M523.6 396.9h0M480.2 420.4h0M531.8 421.7h0M507.1 406.8h0M650.9 436.4h0M645.5 442.7h0M581.2 416.0h0M642.7 455.6h0M639.9 422.9h0M663.2 432.0h0M478.2 417.5h0M575.4 463.7h0M527.9 408.1h0M472.2 435.0h0M528.8 419.5h0M491.7 439.3h0M620.0 428.8h0M511.2 464.6h0M674.3 438.2h0M514.5 464.5h0M553.0 463.6h0M585.4 431.6h0M533.7 413.4h0M578.6 463.7h0M598.6 420.2h0M611.4 457.0h0M529.0 431.7h0M515.9 439.1h0M612.1 416.8h0M502.9 442.9h0M614.5 433.3h0M545.6 432.8h0M650.2 437.0h0M528.7 437.6h0M493.9 443.8h0M531.5 457.2h0M636.1 425.6h0M486.9 420.4h0M528.4 444.4h0M537.2 410.6h0M504.4 451.4h0M481.1 419.3h0M579.9 439.2h0M620.4 455.1h0M544.1 441.5h0M531.4 442.8h0M604.8 418.6h0M515.0 428.2h0M592.1 416.8h0M513.9 402.5h0M575.1 439.4h0M501.2 431.5h0M525.7 443.2h0M474.2 423.1h0M518.4 421.4h0M618.9 466.4h0M656.5 426.4h0M526.8 437.4h0M533.0 416.5h0M620.8 422.7h0M573.9 412.5h0M673.9 440.4h0M531.0 431.7h0M644.5 432.6h0M611.6 417.2h0M542.6 441.3h0M449.9 445.1h0M606.0 458.6h0M461.3 448.8h0M499.5 435.8h0M633.6 453.2h0M496.2 451.8h0M639.1 457.9h0M654.7 440.9h0M567.6 425.2h0M651.0 444.6h0M600.4 452.6h0M615.6 420.3h0M498.6 435.6h0M653.2 439.1h0M569.0 431.9h0M451.0 433.0h0M501.2 436.0h0M642.8 434.4h0M609.3 418.4h0M510.8 407.3h0M515.0 421.2h0M490.3 443.8h0M477.3 434.8h0M553.3 429.5h0M592.7 454.8h0M634.9 421.1h0M473.0 452.8h0M577.7 468.2h0M579.1 463.2h0M562.0 445.1h0M607.9 447.8h0M469.4 443.2h0M518.9 410.5h0M465.1 428.6h0M544.8 429.0h0M510.5 441.7h0M610.9 464.9h0M533.0 415.5h0M552.3 469.0h0M498.8 443.2h0M518.7 448.2h0M554.0 413.5h0M560.7 422.1h0M565.6 456.7h0M573.0 437.0h0M513.4 427.1h0M656.7 434.2h0M640.4 441.3h0M609.1 456.7h0M582.1 452.5h0M572.0 412.1h0M589.3 417.6h0M516.0 451.5h0M490.7 428.4h0M500.7 446.9h0M596.0 434.6h0M579.7 455.9h0M618.0 472.3h0M539.7 445.4h0M647.7 435.8h0M513.3 422.4h0M618.0 444.5h0M512.5 441.3h0M552.6 443.2h0M554.4 426.7h0M454.5 431.6h0M488.6 456.0h0M586.5 411.5h0M662.6 427.7h0M471.4 434.3h0M530.6 408.9h0M513.3 448.1h0M471.0 430.8h0M576.9 410.4h0M623.4 446.5h0M559.2 442.9h0M633.5 446.4h0M653.5 448.8h0M475.5 450.9h0M574.7 459.0h0M664.0 441.2h0M624.2 462.3h0M614.5 449.7h0M654.6 431.8h0M600.2 408.1h0M528.9 444.0h0M512.5 450.6h0M582.5 468.0h0M529.6 425.9h0M515.2 454.7h0M606.6 452.6h0M541.6 454.6h0M577.9 444.8h0M556.7 448.5h0M668.1 430.9h0M648.3 443.6h0M515.3 445.4h0M518.3 455.6h0M586.9 414.4h0M531.2 440.9h0M538.6 442.9h0M554.7 442.5h0M592.3 459.3h0M633.9 446.4h0M491.1 459.6h0M679.9 434.0h0M660.2 438.2h0M573.8 454.7h0M465.0 429.7h0M593.4 475.2h0M543.6 440.2h0M675.9 434.3h0M468.4 455.5h0M598.5 441.0h0M625.5 428.6h0M650.3 447.2h0M587.9 416.3h0M533.8 454.0h0M447.7 438.8h0M655.0 451.9h0M668.9 433.1h0M482.0 442.8h0M554.8 404.7h0M582.1 424.5h0M520.2 459.0h0M569.9 413.0h0M599.8 422.5h0M554.8 430.3h0M498.3 458.6h0M544.2 414.8h0M544.9 473.3h0M582.6 427.6h0M558.9 428.0h0M634.9 439.5h0M587.8 420.2h0M519.2 426.1h0M608.8 414.1h0M584.4 441.3h0M494.9 460.9h0M488.0 436.0h0M612.9 462.1h0M579.8 422.3h0M638.8 444.2h0M554.4 422.1h0M503.4 460.7h0M549.8 454.4h0M540.6 460.8h0M654.8 445.0h0M582.2 437.5h0M539.9 449.2h0M497.7 462.3h0M631.1 441.8h0M524.9 432.1h0M562.5 444.5h0M540.6 460.5h0M510.3 443.5h0M528.1 418.6h0M519.6 432.2h0M503.7 441.8h0M646.5 434.5h0M572.6 453.8h0M507.3 402.6h0M515.6 444.1h0M547.3 433.0h0M632.4 462.7h0M581.3 451.9h0M548.4 456.5h0M605.2 445.8h0M531.6 440.8h0M571.5 426.0h0M604.1 421.9h0M484.2 444.8h0M480.0 447.9h0M537.8 438.5h0M591.8 431.9h0M677.5 436.7h0M471.6 454.4h0M574.6 444.3h0M645.3 459.1h0M557.9 433.3h0M590.2 457.9h0M564.7 468.8h0M515.5 424.0h0M581.7 418.3h0M545.4 434.0h0M590.1 436.2h0M511.7 444.1h0M506.1 433.5h0M617.5 417.1h0M569.3 404.4h0M629.5 447.8h0M522.8 456.9h0M596.2 442.5h0M589.6 419.5h0M624.1 463.2h0M635.2 455.0h0M622.6 454.4h0M534.8 436.3h0M665.4 447.0h0M606.2 425.7h0M511.8 474.5h0M631.3 441.3h0M640.9 428.7h0M484.6 430.7h0M583.2 428.4h0M591.1 442.4h0M541.8 438.1h0M584.2 434.6h0M561.0 422.3h0M602.7 472.1h0M571.2 425.6h0M605.2 459.3h0M535.4 448.9h0M505.4 447.3h0M621.9 467.4h0M502.6 468.4h0M619.3 410.4h0M628.6 411.9h0M629.7 464.5h0M460.2 447.3h0M548.9 432.4h0M437.5 443.0h0M504.8 427.0h0M625.9 439.6h0M599.1 415.4h0M653.9 444.2h0M636.1 466.6h0M502.2 442.3h0M570.5 448.5h0M575.3 439.6h0M500.5 457.8h0M546.7 447.4h0M615.7 432.5h0M514.8 463.7h0M439.7 440.0h0M476.8 450.2h0M500.2 439.3h0M683.4 438.2h0M538.6 447.9h0M619.2 412.1h0M548.4 459.0h0M511.2 451.1h0M627.5 417.3h0M613.5 450.7h0M636.7 433.8h0M538.0 439.4h0M483.5 429.1h0M466.3 430.6h0M660.3 431.3h0M502.3 418.6h0M587.1 466.5h0M517.6 438.5h0M535.9 416.1h0M640.1 418.9h0M485.5 416.5h0M496.8 431.8h0M488.0 427.8h0M602.3 436.6h0M610.3 418.5h0M473.2 450.0h0M539.4 433.9h0M518.1 436.0h0M642.9 452.5h0M470.6 429.2h0M492.7 429.3h0M586.6 436.8h0M531.4 430.8h0M523.7 436.8h0M626.1 454.4h0M575.9 445.4h0M601.4 437.2h0M630.5 456.1h0M522.0 458.6h0M444.7 441.2h0M499.0 418.4h0M592.7 437.9h0M605.6 425.8h0M616.7 454.4h0M492.9 448.4h0M570.6 466.0h0M560.9 420.3h0M547.8 456.0h0M493.5 431.8h0M578.1 418.1h0M530.6 460.2h0M678.6 438.0h0M661.3 435.3h0M601.5 421.6h0M643.5 419.7h0M585.0 433.2h0M579.3 421.1h0M520.5 455.4h0M605.8 451.7h0M534.3 467.4h0M558.8 436.4h0M662.6 445.1h0M545.3 423.7h0M473.7 439.5h0M451.8 440.7h0M540.8 443.4h0M580.6 435.4h0M608.1 471.2h0M558.7 419.2h0M492.4 418.3h0M581.9 439.2h0M526.9 452.6h0M568.1 450.7h0M526.1 474.5h0M611.6 438.8h0M533.0 431.9h0M622.6 466.3h0M529.4 416.8h0M597.1 422.1h0M626.3 439.9h0M553.4 466.7h0M539.4 456.4h0M494.7 420.1h0M480.9 426.1h0M616.1 441.9h0M451.3 440.5h0M587.6 451.7h0M536.3 456.9h0M629.2 446.7h0M526.7 455.7h0M500.3 448.1h0M596.2 426.6h0M610.2 405.1h0M530.2 445.5h0M623.7 455.0h0M539.8 473.4h0M514.1 430.5h0M476.1 420.8h0M612.0 411.7h0M571.9 461.0h0M585.9 443.1h0M592.7 465.9h0M554.3 457.5h0M597.7 428.3h0M563.8 459.3h0M598.2 424.9h0M567.8 429.9h0M617.6 468.3h0M605.8 463.2h0M595.7 422.6h0M494.3 416.7h0M551.7 449.3h0M664.4 444.8h0M661.9 430.0h0M568.8 426.0h0M479.2 420.1h0M496.3 442.2h0M495.2 461.7h0M629.9 452.3h0M588.6 424.1h0M613.2 417.1h0M631.3 451.7h0M676.9 442.3h0M528.7 459.2h0M556.3 457.4h0M503.9 454.1h0M582.4 462.5h0M616.7 440.8h0M520.3 429.2h0M624.2 413.9h0M569.9 441.9h0M509.7 450.3h0M634.6 416.9h0M584.8 423.8h0M494.1 416.8h0M482.5 427.6h0M638.5 457.2h0M464.4 435.1h0M621.9 445.8h0M488.6 459.5h0M587.8 436.3h0M511.5 455.4h0M543.0 414.3h0M575.3 406.2h0M455.7 439.5h0M652.8 422.4h0M588.9 439.8h0M520.9 434.0h0M682.2 438.5h0M525.2 420.8h0M576.0 436.9h0M551.0 414.2h0M540.4 441.7h0M607.4 454.5h0M519.9 438.7h0M511.6 429.3h0M539.7 409.8h0M523.1 433.0h0M446.7 442.3h0M485.5 426.6h0M543.7 469.5h0M494.0 447.5h0M638.3 432.5h0M547.9 471.8h0M442.0 443.5h0M537.8 423.6h0M530.9 434.1h0M565.9 465.7h0M599.6 462.0h0M522.4 433.0h0M501.1 419.0h0M496.3 414.5h0M598.7 439.4h0M603.1 430.2h0M476.1 456.3h0M629.8 426.4h0M521.4 437.3h0M580.5 417.5h0M568.0 422.3h0M544.0 459.7h0M556.2 463.7h0M474.9 433.9h0M641.0 440.6h0M531.7 449.0h0M479.8 451.7h0M527.8 416.2h0M503.1 464.3h0M489.6 418.4h0M577.4 430.1h0M512.2 455.5h0M604.8 435.7h0M630.0 458.8h0M544.1 442.5h0M626.5 445.6h0M503.8 426.4h0M678.1 434.3h0M533.9 455.6h0M495.3 422.5h0M633.5 435.7h0M637.2 461.7h0M533.5 466.9h0M524.5 439.9h0M471.7 425.8h0M602.1 459.4h0M639.0 430.4h0M625.4 449.1h0M498.8 420.5h0M506.5 452.7h0M623.8 416.0h0M636.6 436.3h0M552.0 452.4h0M549.1 428.0h0M622.6 472.4h0M554.9 430.5h0M533.9 418.6h0M556.3 416.8h0M487.4 431.6h0M637.9 417.2h0M651.4 454.6h0M644.7 442.4h0M661.6 449.6h0M525.1 448.0h0M584.9 461.9h0M538.8 446.1h0M542.9 403.6h0M610.1 456.5h0M492.9 424.5h0M607.3 429.5h0M600.7 429.4h0M589.6 414.0h0M650.1 431.1h0M565.9 442.5h0M604.2 467.4h0M583.3 452.7h0M549.5 454.1h0M485.8 417.7h0M546.9 454.7h0M584.4 425.5h0M458.5 448.7h0M631.1 461.1h0M645.5 447.7h0M529.0 453.1h0M551.9 451.1h0M528.1 443.2h0M520.1 434.2h0M619.8 434.0h0M552.5 439.3h0M551.5 433.5h0M473.9 421.2h0M568.9 410.1h0M517.7 422.0h0M464.2 447.8h0M507.7 471.0h0M577.3 441.7h0M518.2 437.8h0M514.8 426.9h0M620.7 440.0h0M661.0 433.9h0M477.9 442.9h0M574.9 410.3h0M651.2 435.3h0M495.9 439.7h0M621.2 428.8h0M601.0 439.0h0M486.4 417.3h0M521.6 431.3h0M507.1 448.0h0M584.6 408.3h0M532.3 416.5h0M538.0 437.9h0M635.8 453.1h0M562.9 449.0h0M465.4 429.5h0M463.4 445.4h0M547.6 443.4h0M597.1 411.8h0M625.4 425.2h0M616.6 448.1h0M675.7 441.6h0M494.9 437.2h0M527.1 445.1h0M517.9 460.5h0M650.0 437.9h0M609.5 471.5h0M523.5 445.9h0M585.9 416.5h0M489.9 423.6h0M557.4 465.1h0M478.5 449.8h0M576.1 438.7h0M566.4 458.2h0M559.9 469.1h0M525.5 469.2h0M616.3 412.0h0M482.8 459.5h0M643.6 459.7h0M558.3 425.5h0M522.2 439.4h0M523.0 420.8h0M600.1 448.4h0M560.7 462.5h0M566.3 421.9h0M619.5 417.6h0M585.7 438.7h0M474.7 448.3h0M500.3 452.0h0M521.8 409.0h0M534.9 465.1h0M589.6 408.4h0M520.7 429.3h0M553.0 448.7h0M518.8 433.9h0M636.6 435.4h0M611.7 422.9h0M573.3 449.3h0M501.0 452.0h0M490.7 449.5h0M620.4 419.8h0M525.8 443.1h0M590.4 450.9h0M641.6 437.4h0M576.4 467.0h0M625.2 431.0h0M635.1 460.1h0M525.9 450.7h0M476.3 438.4h0M645.8 426.4h0M601.7 452.0h0M542.7 452.7h0M568.0 424.2h0M557.7 432.7h0M518.7 425.1h0M535.3 419.7h0M598.3 428.2h0M538.1 455.4h0M575.2 424.2h0M486.8 438.4h0M591.2 443.4h0M567.2 444.3h0M566.6 457.1h0M508.4 434.8h0M528.3 414.9h0M491.1 416.6h0M500.8 434.1h0M440.0 440.1h0M535.1 453.0h0M628.4 431.8h0M508.0 460.0h0M664.7 430.9h0M658.1 452.3h0M468.8 434.7h0M642.7 432.1h0M486.4 455.3h0M603.7 422.7h0M514.4 444.2h0M633.2 414.1h0M516.9 439.0h0M666.4 432.8h0M568.9 448.0h0M637.8 427.5h0M642.0 457.9h0M484.1 450.4h0M559.3 450.8h0M467.3 456.4h0M566.6 454.4h0M590.3 453.2h0M575.2 436.9h0M675.5 439.3h0M644.9 453.6h0M553.0 459.9h0M652.3 428.2h0M510.9 423.6h0M652.7 425.1h0M626.4 419.3h0M555.2 445.1h0M679.5 441.0h0M604.2 436.8h0M468.7 445.6h0M656.6 444.9h0M540.8 458.3h0M587.3 422.6h0M579.3 460.1h0M485.6 444.2h0M475.0 443.7h0M498.9 454.1h0M454.7 434.2h0M517.1 445.5h0M450.4 435.3h0M623.9 416.8h0M622.6 442.7h0M527.0 460.8h0M611.6 440.4h0M611.3 435.2h0M638.8 429.1h0M604.8 418.9h0M602.3 473.3h0M525.4 455.8h0M510.8 451.7h0M663.3 434.7h0M633.5 456.7h0M532.4 420.9h0M624.4 456.7h0M583.8 434.0h0M628.3 418.2h0M508.4 440.4h0M632.2 450.6h0M582.3 446.8h0M565.8 405.3h0M577.3 425.5h0M592.0 411.0h0M581.9 417.3h0M549.1 434.2h0M638.7 450.4h0M626.6 422.1h0M522.7 407.3h0M571.1 444.8h0M565.4 431.5h0M535.2 424.1h0M639.8 464.3h0M549.6 473.7h0M595.7 461.5h0M624.5 455.9h0M652.1 446.0h0M632.7 460.1h0M605.5 428.8h0M622.0 471.0h0M492.0 413.7h0M588.6 447.9h0M623.9 439.6h0M570.5 436.2h0M572.9 446.1h0M484.5 457.0h0M574.0 436.2h0M560.7 454.6h0M522.4 410.7h0M481.6 454.3h0M564.1 445.8h0M540.9 446.7h0M532.0 443.9h0M576.2 419.7h0M483.5 444.1h0M572.1 419.1h0M539.1 421.0h0M485.9 426.2h0M500.9 412.1h0M488.7 450.0h0M559.1 448.4h0M559.7 449.7h0M562.9 470.8h0M538.7 431.8h0M651.3 427.8h0M477.1 435.1h0M636.1 416.2h0M544.2 418.3h0M587.4 458.1h0M535.9 440.6h0M558.8 430.3h0M623.0 440.3h0M537.2 417.8h0M555.4 436.5h0M488.3 419.2h0M481.5 420.5h0M466.1 446.9h0M524.6 452.7h0M526.8 469.3h0M587.1 435.2h0M582.7 421.2h0M674.7 434.3h0M653.1 445.8h0M552.4 465.0h0M525.6 400.6h0M625.4 421.5h0M575.7 457.8h0M598.9 451.6h0M603.6 444.9h0M579.9 443.4h0M508.0 406.8h0M537.7 431.0h0M504.0 457.6h0M656.6 452.9h0M619.0 416.1h0M574.8 438.5h0M647.8 440.6h0M564.4 416.3h0M604.1 438.5h0M545.6 429.7h0M600.7 458.3h0M614.2 451.1h0M526.4 434.2h0M483.2 420.8h0M498.0 456.1h0M492.0 427.4h0M626.2 465.2h0M572.7 461.0h0M533.7 432.1h0M554.6 430.8h0M613.5 435.3h0M550.7 471.1h0M589.5 441.3h0M653.7 426.7h0M498.1 461.4h0M513.3 464.0h0M641.2 432.7h0M641.5 454.8h0M564.6 414.3h0M583.4 436.6h0M460.6 452.4h0M647.3 439.3h0M542.6 460.8h0M578.4 436.1h0M668.3 432.0h0M490.3 459.0h0M521.5 459.7h0M545.9 422.7h0M465.8 449.7h0M462.5 430.6h0M471.8 442.3h0M611.1 442.3h0M504.3 437.3h0M512.8 408.2h0M556.3 442.2h0M499.0 428.4h0M561.5 426.0h0M558.5 429.3h0M531.8 458.0h0M641.5 436.7h0M528.7 421.0h0M465.2 450.6h0M498.9 441.4h0M507.9 417.8h0M614.2 444.2h0M504.1 422.9h0M585.5 441.9h0M458.2 443.2h0M451.5 433.5h0M586.2 440.7h0M549.9 434.5h0M558.9 396.8h0M537.4 447.1h0M640.4 421.1h0M565.6 422.2h0M475.1 451.9h0M534.6 409.8h0M578.8 418.0h0M621.7 460.1h0M586.4 431.1h0M531.0 467.5h0M501.1 438.0h0M441.6 439.2h0M657.9 438.2h0M609.6 406.2h0M490.2 412.8h0M452.6 445.0h0M631.1 429.4h0M551.4 457.1h0M546.9 433.6h0M606.7 440.8h0M632.7 462.0h0M539.9 453.6h0M518.9 448.8h0M560.5 427.3h0M615.4 420.1h0M485.1 443.8h0M518.3 451.4h0M450.2 446.9h0M633.1 464.2h0M617.0 453.7h0M521.3 430.6h0M573.3 447.6h0M567.8 404.2h0M464.3 433.0h0M584.6 470.9h0M533.9 409.2h0M461.8 452.1h0M505.3 451.4h0M626.9 420.3h0M610.1 407.7h0M534.5 441.5h0M468.2 439.5h0M533.8 445.5h0M518.1 420.3h0M565.1 430.7h0M661.8 448.3h0M620.2 463.8h0M598.6 431.7h0M505.4 427.7h0M576.2 460.0h0M514.1 408.9h0M511.7 408.5h0M564.6 458.4h0M548.5 423.7h0M659.6 434.2h0M498.8 444.3h0M507.6 446.9h0M510.9 455.0h0M530.1 428.9h0M493.7 440.8h0M524.4 453.2h0M498.3 445.4h0M590.0 457.4h0M652.2 422.7h0M648.9 449.1h0M459.1 433.8h0M555.0 446.2h0M611.9 436.8h0M514.4 464.6h0M546.8 444.0h0M635.2 441.4h0M525.5 447.8h0M597.7 434.2h0M612.8 457.2h0M508.3 432.8h0M635.5 439.3h0M463.8 427.6h0M572.7 431.3h0M586.6 406.5h0M501.7 450.4h0M579.9 415.6h0M618.3 448.4h0M551.0 429.0h0M685.3 437.9h0M533.8 419.8h0M487.8 448.2h0M498.4 445.9h0M513.3 461.1h0M622.6 431.3h0M607.3 451.7h0M530.7 420.5h0M505.6 429.0h0M583.3 418.8h0M579.2 437.7h0M506.3 463.6h0M593.8 430.2h0M596.3 454.8h0M633.3 459.8h0M584.5 448.6h0M602.1 404.6h0M494.3 418.6h0M615.9 446.8h0M545.6 449.6h0M485.6 434.9h0M559.8 410.1h0M648.4 455.3h0M673.0 434.3h0M519.4 424.9h0M555.9 436.4h0M601.9 404.5h0M476.4 446.6h0M463.7 440.4h0M627.8 421.0h0M463.8 451.5h0M623.2 447.5h0M670.1 439.9h0M631.5 455.1h0M595.0 443.4h0M495.8 467.2h0M527.3 438.3h0M660.2 431.4h0M506.9 467.5h0M503.3 458.3h0M574.3 460.2h0M574.4 448.1h0M569.8 463.4h0M615.3 415.6h0M643.4 425.2h0M487.0 439.3h0M561.5 425.4h0M637.3 459.0h0M633.3 422.5h0M638.3 450.0h0M582.3 472.5h0M600.1 407.1h0M651.1 428.0h0M578.5 449.4h0M574.9 461.2h0M531.3 469.7h0M565.5 452.0h0M555.3 432.0h0M560.7 430.5h0M572.8 470.5h0M536.0 435.6h0M497.7 451.6h0M588.9 435.9h0M470.3 427.3h0M506.5 411.2h0M628.2 426.1h0M547.8 453.0h0M578.8 393.0h0M489.9 424.2h0M550.1 419.3h0M512.1 419.8h0M627.4 464.0h0M606.3 442.1h0M593.3 460.8h0M503.7 424.7h0M496.4 425.4h0M499.2 424.0h0M554.4 454.0h0M575.2 396.8h0M479.2 460.3h0M608.5 412.9h0M522.3 460.4h0M493.7 414.9h0M503.1 456.3h0M470.4 432.8h0M624.7 444.9h0M524.7 456.7h0M556.4 448.8h0M608.7 407.0h0M560.4 401.1h0M611.9 434.7h0M610.0 448.7h0M526.3 470.1h0M520.3 438.5h0M561.4 434.6h0M572.2 467.7h0M610.2 453.3h0M516.1 437.6h0M678.9 437.5h0M602.4 412.7h0M493.6 463.0h0M550.7 446.8h0M521.6 445.0h0M652.0 451.6h0M472.9 423.0h0M569.3 469.6h0M603.5 425.6h0M494.3 415.9h0M580.2 413.2h0M557.7 452.4h0M651.2 441.3h0M517.2 465.7h0M661.6 441.5h0M662.6 437.2h0M632.0 447.8h0M571.9 451.1h0M508.5 428.0h0M596.6 448.9h0M511.9 436.7h0M652.3 431.2h0M576.0 438.4h0M474.6 421.2h0M478.8 425.4h0M584.4 438.5h0M577.9 464.4h0M643.5 442.2h0M585.5 434.5h0M448.8 443.4h0M610.9 446.2h0M600.4 412.4h0M527.3 458.6h0M650.6 421.1h0M563.1 440.7h0M576.4 423.8h0M566.7 455.9h0M584.5 422.3h0M627.1 443.0h0M610.2 448.1h0M539.1 421.7h0M579.9 438.3h0M539.1 445.0h0M577.8 458.9h0M605.2 427.1h0M675.9 432.6h0M546.3 449.8h0M484.9 423.1h0M484.1 437.6h0M664.7 439.2h0M526.8 439.2h0M582.9 458.9h0M552.3 433.7h0M614.6 411.4h0M602.8 430.5h0M519.4 411.6h0M556.3 442.7h0M641.6 446.0h0M567.7 441.6h0M588.8 415.2h0M615.3 456.3h0M548.8 457.6h0M553.4 442.2h0M629.8 456.9h0M563.3 464.3h0M521.7 442.3h0M485.3 416.0h0M654.9 429.8h0M479.3 421.6h0M503.7 418.3h0M541.1 470.2h0M622.3 446.7h0M556.0 458.9h0M572.8 446.2h0M477.1 427.3h0M626.7 426.3h0M562.3 433.0h0M587.9 449.5h0M647.7 452.5h0M664.3 442.6h0M514.1 449.8h0M488.8 420.5h0M550.7 457.6h0M587.0 459.2h0M584.6 456.5h0M497.4 422.2h0M560.0 402.4h0M475.6 442.2h0M455.2 431.8h0M568.8 452.7h0M515.1 420.7h0M586.9 412.3h0M574.8 446.6h0M525.2 449.9h0M476.8 426.5h0M572.6 436.7h0M482.3 455.1h0M576.8 405.6h0M540.4 426.5h0M520.0 471.4h0M628.1 466.2h0M518.6 434.5h0M571.5 427.8h0M646.6 446.6h0M535.4 469.6h0M542.0 434.2h0M630.9 442.3h0M549.2 417.3h0M503.0 425.9h0M491.3 424.2h0M519.7 435.8h0M524.7 440.5h0M625.6 451.4h0M513.8 453.8h0M518.4 423.6h0M596.0 425.7h0M600.4 438.4h0M594.2 442.4h0M471.7 439.0h0M625.5 452.2h0M510.8 440.2h0M506.2 451.1h0M576.4 463.5h0M654.4 448.2h0M514.7 427.1h0M673.0 446.3h0M566.8 465.9h0M537.6 455.4h0M493.2 451.9h0M467.9 425.7h0M618.0 448.9h0M566.3 448.9h0M461.5 442.9h0M613.1 460.9h0M684.8 436.4h0M626.1 413.2h0M491.2 432.3h0M625.8 469.3h0M600.4 413.1h0M524.4 452.3h0M543.3 416.4h0M478.1 442.9h0M572.6 400.2h0M650.9 441.3h0M641.8 444.4h0M585.7 421.2h0M484.8 449.0h0M539.2 417.3h0M511.2 415.9h0M625.8 415.8h0M547.0 444.2h0M577.7 451.1h0M622.9 454.4h0M575.0 459.4h0M594.6 429.9h0M547.5 450.7h0M523.3 414.4h0M530.4 433.4h0M494.2 430.9h0M549.7 415.3h0M633.0 443.9h0M558.7 466.9h0M554.8 453.8h0M544.8 462.7h0M633.8 454.0h0M555.1 434.2h0M513.0 428.2h0M661.3 444.5h0M537.5 477.1h0M507.2 430.4h0M517.3 450.5h0M555.6 459.9h0M620.4 417.1h0M538.8 409.2h0M611.1 415.9h0M492.8 427.9h0M631.9 417.9h0M630.5 425.9h0M466.5 429.8h0M632.4 434.7h0M492.7 449.8h0M516.6 410.0h0M603.8 422.9h0M568.0 438.4h0M487.7 443.2h0M504.6 445.1h0M484.2 430.6h0M578.4 419.6h0M605.2 450.1h0M511.2 449.7h0M641.6 429.8h0M639.9 432.2h0M626.1 440.2h0M630.9 456.1h0M575.4 450.3h0M567.2 470.5h0M497.6 434.9h0M478.0 424.6h0M515.9 425.2h0M619.6 443.4h0M562.2 450.2h0M476.6 449.3h0M647.8 455.1h0M572.6 467.2h0M494.4 447.7h0M465.4 435.4h0M491.7 445.7h0M519.7 446.3h0M518.6 430.3h0M666.4 429.8h0M657.7 425.8h0M472.4 439.5h0M566.6 460.1h0M564.9 453.7h0M518.9 418.6h0M620.3 434.7h0M592.2 474.0h0M581.0 416.5h0M464.7 446.4h0M564.5 427.8h0M598.7 459.8h0M567.4 443.4h0M604.5 441.2h0M499.4 417.9h0M493.5 424.8h0M503.4 430.8h0M490.8 457.6h0M524.7 441.9h0M620.0 429.0h0M610.0 442.3h0M466.0 448.5h0M598.5 427.3h0M528.0 453.0h0M459.7 436.9h0M488.8 450.1h0M496.4 461.7h0M574.5 434.5h0M589.6 460.7h0M632.2 415.1h0M595.3 426.3h0M554.5 425.9h0M583.0 422.8h0M573.1 458.4h0M636.1 458.8h0M628.9 418.1h0M547.4 431.5h0M513.4 459.7h0M609.5 454.1h0M500.3 459.9h0M596.8 467.8h0M642.2 450.4h0M542.1 434.3h0M623.3 455.1h0M594.4 456.5h0M582.9 471.2h0M528.1 426.4h0M481.9 427.2h0M534.4 425.7h0M471.2 428.2h0M505.7 462.4h0M635.0 441.4h0M485.1 429.6h0M657.7 436.7h0M519.5 439.0h0M654.1 431.8h0M536.7 428.2h0M576.4 442.4h0M494.7 455.5h0M504.7 422.8h0M637.1 458.4h0M631.3 420.3h0M573.5 431.4h0M500.4 462.8h0M570.5 425.3h0M607.2 467.2h0M477.7 427.7h0M509.4 441.0h0M676.6 438.1h0M492.1 463.2h0M633.2 436.3h0M533.1 450.2h0M607.6 414.9h0M670.9 443.4h0M504.0 419.8h0M624.0 446.1h0M505.3 454.6h0M515.1 452.7h0M488.1 463.7h0M615.7 441.6h0M615.7 422.5h0M648.8 455.3h0M613.1 448.8h0M566.7 464.3h0M587.7 455.0h0M555.6 438.0h0M532.0 451.6h0M589.4 448.8h0M523.1 447.1h0M506.0 435.5h0M592.4 421.5h0M611.8 435.2h0M649.8 438.5h0M465.3 432.4h0M606.2 450.6h0M478.8 421.4h0M635.3 433.8h0M647.4 427.0h0M523.6 402.8h0M525.2 407.6h0M504.6 424.7h0M473.7 446.3h0M541.0 437.2h0M558.3 444.3h0M521.6 468.2h0M551.8 423.5h0M513.7 467.0h0M588.3 440.2h0M543.4 436.6h0M656.6 438.8h0M485.7 448.7h0M512.2 428.7h0M501.1 441.1h0M640.8 446.2h0M536.6 411.5h0M578.4 462.5h0M653.8 454.0h0M620.4 435.0h0M545.3 460.2h0M647.1 443.6h0M494.9 452.5h0M549.5 469.4h0M591.0 437.5h0M446.2 446.4h0M579.6 451.7h0M575.7 464.1h0M554.7 449.3h0M523.7 421.9h0M571.8 447.8h0M612.2 474.5h0M639.0 440.4h0M569.0 466.1h0M578.2 422.0h0M641.0 430.7h0M559.1 468.7h0M508.9 452.4h0M563.6 458.1h0M595.0 405.7h0M498.8 419.5h0M568.7 447.0h0M597.9 460.3h0M510.3 444.8h0M551.7 439.6h0M593.9 437.7h0M513.0 468.3h0M652.7 444.9h0M486.7 455.8h0M573.7 422.8h0M592.0 441.0h0M643.9 444.1h0M501.8 436.9h0M503.8 427.4h0M505.9 447.4h0M545.3 422.6h0M562.4 452.3h0M574.0 436.5h0M610.9 448.2h0M580.5 458.1h0M482.8 416.5h0M553.5 459.9h0M566.7 440.3h0M643.3 444.2h0M575.3 434.7h0M600.1 413.5h0M617.7 452.6h0M478.8 431.3h0M655.8 450.0h0M476.4 448.6h0M489.0 436.6h0M544.1 440.2h0M562.5 408.4h0M646.0 429.6h0M489.0 447.3h0M628.8 418.6h0M560.3 443.9h0M638.4 428.6h0M634.7 437.5h0M544.3 436.5h0M587.2 442.9h0M626.3 450.1h0M665.6 433.2h0M530.0 424.0h0M520.9 430.5h0M546.2 424.5h0M465.3 427.6h0M561.8 443.1h0M518.8 440.5h0M606.8 404.0h0M649.8 455.1h0M660.6 436.3h0M525.7 416.1h0M502.1 433.7h0M505.5 430.4h0M462.1 437.5h0M487.0 435.9h0M470.0 446.4h0M489.1 459.5h0M620.3 421.0h0M635.1 449.4h0M601.0 450.8h0M497.7 448.2h0M475.0 439.4h0M444.5 440.3h0M584.0 453.1h0M522.8 416.3h0M506.6 456.5h0M640.8 455.7h0M520.5 433.1h0M466.7 441.4h0M547.0 473.0h0M493.9 454.4h0M525.1 418.6h0M538.0 446.4h0M571.7 430.4h0M490.9 463.4h0M550.5 447.2h0M510.2 419.9h0M561.8 421.3h0M598.6 451.9h0M619.9 454.5h0M627.1 433.7h0M548.8 444.8h0M548.2 440.6h0M519.9 456.0h0M626.5 441.7h0M527.4 411.7h0M562.6 452.6h0M576.3 450.4h0M480.9 431.8h0M524.1 444.1h0M629.9 468.0h0M623.1 446.4h0M558.1 473.9h0M606.2 459.1h0M558.2 458.9h0M607.2 470.9h0M607.0 460.5h0M539.8 425.8h0M494.3 431.1h0M525.9 464.9h0M578.2 448.1h0M468.1 444.0h0M557.4 451.8h0M567.4 436.9h0M544.5 454.1h0M564.4 437.9h0M604.3 462.1h0M646.3 457.3h0M513.4 453.3h0M571.1 426.2h0M617.7 464.0h0M604.0 435.2h0M587.3 463.2h0M578.4 447.6h0M625.8 433.2h0M516.6 439.7h0M553.9 426.9h0M461.0 444.4h0M615.4 416.5h0M661.1 430.3h0M480.1 424.3h0M662.0 432.6h0M610.9 461.2h0M636.7 431.5h0M535.8 408.9h0M562.3 434.2h0M487.8 451.0h0M529.5 463.3h0M639.9 454.9h0M560.3 468.3h0M545.9 414.1h0M499.9 418.7h0M460.7 430.6h0M605.7 450.1h0M541.6 425.6h0M562.9 432.4h0M562.8 414.9h0M506.3 451.9h0M555.1 434.3h0M626.6 415.3h0M650.9 428.7h0M580.4 466.4h0M554.4 431.6h0M546.7 417.0h0M517.4 452.4h0M490.6 414.3h0M521.5 444.4h0M621.0 447.5h0M551.8 467.7h0M518.0 404.8h0M515.7 425.6h0M555.0 449.0h0M580.3 411.1h0M519.0 441.9h0M497.8 421.4h0M578.9 418.4h0M582.1 422.6h0M604.1 434.7h0M493.2 452.9h0M597.4 419.3h0M525.2 427.9h0M561.2 435.3h0M511.7 453.1h0M518.5 450.4h0M590.5 432.2h0M600.6 472.8h0M594.8 456.2h0M506.3 438.9h0M647.3 451.4h0M483.1 415.0h0M467.5 452.9h0M644.1 424.0h0M606.2 457.9h0M638.0 426.2h0M545.3 444.1h0M498.1 417.7h0M638.3 459.9h0M579.9 475.6h0M528.7 425.2h0M507.1 431.4h0M582.6 421.3h0M521.7 438.6h0M474.2 442.0h0M560.8 455.3h0M658.5 438.6h0M534.4 464.8h0M616.2 422.8h0M595.6 444.7h0M630.5 452.4h0M594.9 446.7h0M459.3 446.0h0M612.6 445.2h0M518.7 456.6h0M571.1 456.5h0M624.7 438.4h0M546.6 419.1h0M601.0 424.7h0M552.3 438.5h0M482.4 419.3h0M528.0 458.0h0M584.2 416.9h0M612.0 430.1h0M599.1 439.2h0M587.9 464.2h0M518.4 446.3h0M598.5 472.4h0M519.2 453.4h0M639.9 449.3h0M452.8 437.7h0M613.1 421.9h0M543.3 441.1h0M561.3 451.2h0M682.1 437.6h0M627.5 424.8h0M654.2 428.1h0M507.1 468.2h0M601.0 467.7h0M485.2 418.7h0M604.3 419.6h0M560.7 444.8h0M535.7 464.7h0M573.4 442.4h0M613.8 475.6h0M466.4 452.7h0M539.8 410.2h0M510.0 428.1h0M541.9 417.7h0M651.4 427.1h0M474.1 454.7h0M667.8 444.8h0M528.9 467.6h0M598.8 466.1h0M582.8 464.6h0M634.2 462.1h0M482.2 443.8h0M600.5 419.4h0M517.6 449.5h0M507.5 447.9h0M602.7 406.4h0M563.1 418.9h0M654.9 446.6h0M490.5 432.4h0M621.6 430.5h0M586.6 447.6h0M485.8 433.5h0M478.1 428.7h0M592.9 434.9h0M614.4 421.1h0M672.3 435.3h0M521.6 466.3h0M658.2 427.1h0M656.2 435.0h0M636.8 456.9h0M612.3 443.8h0M557.5 422.3h0M551.6 401.4h0M497.7 456.2h0M498.5 429.2h0M517.1 461.5h0M510.4 464.3h0M593.1 432.5h0M538.6 412.8h0M515.1 464.3h0M567.8 417.4h0M678.9 435.4h0M566.5 434.3h0M497.2 457.4h0M577.3 444.3h0M536.5 438.5h0M629.1 446.4h0M639.4 441.1h0M452.0 441.7h0M532.8 422.5h0M486.6 457.5h0M581.0 454.1h0M588.8 454.4h0M458.2 441.6h0M586.2 459.0h0M613.1 424.9h0M614.4 430.5h0M558.7 412.2h0M597.0 421.0h0M519.6 429.1h0M603.2 451.3h0M616.7 461.3h0M543.5 457.2h0M558.6 444.4h0M615.4 443.4h0M555.9 425.4h0M508.1 434.5h0M525.6 467.0h0M646.0 443.7h0M564.7 407.0h0M571.2 470.7h0M501.4 447.8h0M531.8 428.5h0M553.2 452.7h0M528.3 419.9h0M621.1 440.5h0M460.3 428.3h0M578.5 422.0h0M568.5 408.0h0M565.0 458.2h0M604.1 424.5h0M606.4 435.0h0M509.7 417.8h0M451.7 433.2h0M629.7 463.7h0M497.5 432.7h0M627.5 428.2h0M589.2 445.6h0M522.1 451.0h0M576.3 425.3h0M624.5 433.9h0M579.4 414.7h0M586.8 425.6h0M604.5 418.1h0M495.6 458.6h0M579.4 428.8h0M515.2 467.2h0M627.6 437.0h0M528.5 416.0h0M655.1 453.1h0M579.7 435.7h0M602.6 420.7h0M647.5 440.1h0M646.6 447.3h0M551.6 415.6h0M464.5 441.3h0M469.8 452.4h0M560.1 439.3h0M645.3 447.3h0M594.7 422.2h0M525.8 450.0h0M486.7 458.1h0M510.4 407.9h0M548.2 426.2h0M635.8 451.0h0M548.2 431.7h0M582.9 463.6h0M480.0 427.2h0M638.3 416.8h0M574.3 450.8h0M498.5 448.0h0M487.0 433.9h0M554.3 454.9h0M583.2 430.0h0M597.0 476.0h0M533.1 453.2h0M632.0 419.8h0M528.1 449.6h0M554.6 462.9h0M485.4 417.4h0M506.8 405.1h0M657.7 426.4h0M461.3 433.3h0M538.0 433.5h0M520.7 441.9h0M504.5 467.1h0M531.3 432.4h0M631.7 460.0h0M507.6 450.7h0M507.1 413.1h0M563.3 412.1h0M479.4 456.7h0M525.3 414.7h0M613.6 451.9h0M590.0 423.9h0M658.8 443.8h0M602.8 442.8h0M531.7 430.4h0M613.8 467.3h0M547.6 429.2h0M496.5 430.5h0M552.3 447.2h0M535.6 416.6h0M489.1 458.4h0M594.7 431.3h0M631.3 451.7h0M505.1 459.5h0M653.3 426.5h0M593.4 424.4h0M647.0 433.7h0M583.3 442.8h0M496.8 465.5h0M590.0 460.7h0M473.4 428.0h0M504.5 419.6h0M556.6 422.7h0M621.1 459.3h0M534.1 402.8h0M643.1 433.6h0M632.7 423.7h0M531.7 406.7h0M613.7 449.8h0M591.2 461.9h0M605.1 479.9h0M469.8 454.6h0" stroke="#3040e0" stroke-width="2.2"/><path d="M560.8 492.1h0M608.8 468.7h0M592.6 472.5h0M544.3 483.5h0M555.8 471.9h0M555.3 481.4h0M571.8 485.8h0M536.7 478.9h0M568.0 472.8h0M570.1 483.4h0M537.8 477.7h0M621.0 465.4h0M550.0 472.6h0M581.4 481.8h0M534.6 479.2h0M570.0 471.0h0M536.3 470.7h0M519.7 474.3h0M592.6 481.4h0M510.1 472.3h0M564.1 484.6h0M573.4 476.5h0M510.8 462.1h0M599.6 462.3h0M550.9 481.6h0M522.7 473.4h0M546.6 464.2h0M546.4 484.8h0M558.7 488.6h0M557.1 476.3h0M505.0 470.4h0M579.6 473.1h0M547.3 473.5h0M534.3 474.4h0M535.8 484.1h0M552.6 479.0h0M557.4 487.6h0M534.9 480.7h0M592.2 481.6h0M551.3 490.0h0M585.2 476.9h0M606.2 469.4h0M565.4 480.5h0M605.0 479.9h0M548.2 476.0h0M588.2 480.9h0M568.7 480.9h0M532.4 459.2h0M577.8 479.1h0M539.6 485.2h0M577.1 460.3h0M593.5 473.0h0M580.2 472.6h0M576.9 481.6h0M585.5 477.8h0M540.2 486.9h0M572.0 488.4h0M530.2 481.0h0M573.8 482.2h0M510.7 462.9h0M574.1 479.8h0M542.8 474.1h0M547.6 483.0h0M608.4 477.8h0M538.1 477.7h0M552.0 479.7h0M549.9 457.2h0M572.6 489.1h0M597.1 483.7h0M533.3 470.2h0M537.6 466.0h0M520.3 475.8h0M551.6 484.4h0M561.5 477.9h0M550.0 482.4h0M565.7 496.2h0M596.5 463.8h0M548.9 490.0h0M616.9 469.8h0M590.0 485.2h0M536.4 483.5h0M573.7 497.0h0M564.8 491.2h0M553.7 473.3h0M560.6 495.3h0M567.9 477.9h0M594.0 478.3h0M553.2 488.5h0M578.1 495.3h0M558.5 491.3h0M580.2 486.1h0M598.1 478.4h0M592.9 473.5h0M532.4 483.6h0M589.1 479.4h0M595.1 486.9h0M537.2 469.0h0M545.4 483.0h0M580.4 478.4h0M557.1 467.4h0M590.2 487.6h0M596.8 478.9h0M563.6 463.5h0M583.6 491.5h0M623.3 466.7h0M589.6 477.2h0M557.8 473.1h0M530.5 483.3h0M600.8 479.2h0M533.0 466.5h0M562.7 485.0h0M510.7 470.1h0M577.7 486.5h0M594.0 477.5h0M589.5 485.6h0M559.4 488.9h0M516.6 462.1h0M606.1 463.9h0M502.6 463.7h0M530.3 479.4h0M568.5 487.1h0M589.9 476.6h0M525.6 480.5h0M531.0 481.2h0M572.5 497.3h0M514.2 470.2h0M565.7 491.8h0M586.2 489.8h0M544.9 484.6h0M610.4 474.4h0M579.6 490.3h0M565.3 480.3h0M542.1 475.5h0M635.1 464.8h0M519.2 474.8h0M562.3 481.3h0M569.5 474.7h0M574.1 487.6h0M610.4 468.8h0M588.6 460.8h0M587.6 480.6h0M526.3 468.5h0M598.7 472.6h0M544.4 479.4h0M576.1 481.7h0M525.2 480.2h0M536.1 480.1h0M629.1 468.1h0M597.3 474.8h0M606.3 476.4h0M559.9 475.0h0M550.1 487.1h0M570.2 489.2h0M582.9 463.9h0M598.6 471.0h0M588.7 466.4h0M537.0 458.3h0M579.3 473.4h0M545.5 482.7h0M546.5 488.5h0M607.0 466.7h0M601.5 477.4h0M566.5 476.5h0M585.2 483.6h0M544.3 481.3h0M552.0 492.2h0M584.1 470.3h0M582.6 486.6h0M518.3 476.7h0M568.2 494.1h0M601.7 478.9h0M548.1 488.6h0M613.8 476.0h0M612.0 469.0h0M560.7 472.9h0M556.0 465.0h0M575.9 497.5h0M578.8 475.5h0M539.1 481.3h0M566.5 478.0h0M565.1 489.5h0M521.8 472.8h0M586.6 475.6h0M588.2 465.8h0M560.7 475.1h0M600.9 475.5h0M548.8 486.4h0M504.7 468.0h0M560.2 491.7h0M613.6 475.5h0M600.2 469.2h0M531.9 479.3h0M561.5 490.5h0M553.5 481.6h0M531.4 467.2h0M579.8 470.5h0M584.6 487.2h0M587.1 491.2h0M558.3 474.6h0M558.1 473.2h0M526.4 473.9h0M567.5 488.9h0M558.9 472.9h0M532.6 478.9h0M537.7 484.6h0M551.0 486.9h0M616.9 461.3h0M569.8 487.1h0M591.1 469.2h0M526.5 477.1h0M581.1 473.9h0M573.3 484.7h0M554.2 492.2h0M598.9 484.5h0M594.6 480.3h0M574.8 485.5h0M580.1 469.5h0M541.0 475.6h0M563.4 487.9h0M562.1 488.9h0M610.9 466.6h0M516.1 471.9h0M551.0 474.7h0M569.8 478.1h0M551.3 484.3h0M540.1 486.5h0M544.8 480.3h0M517.2 468.3h0M563.0 482.7h0M518.0 465.1h0M603.1 469.9h0M544.4 466.6h0M539.2 465.9h0M596.3 484.2h0M563.4 492.6h0M588.1 466.8h0M575.9 469.2h0M574.3 467.0h0M607.5 478.9h0M608.7 470.6h0M583.2 475.9h0M567.3 472.7h0M579.1 488.9h0M600.8 482.8h0M580.9 491.6h0M619.9 468.1h0M556.4 463.6h0M520.1 465.2h0M598.8 466.7h0M560.4 482.9h0M594.1 479.7h0M553.7 488.3h0M574.2 494.8h0M620.1 465.6h0M539.5 478.8h0M591.7 474.5h0M574.3 494.9h0M524.5 466.4h0M534.7 484.2h0M530.1 466.1h0M562.9 481.5h0M547.7 477.5h0M559.5 491.4h0M572.1 483.3h0M570.9 496.6h0M553.8 485.9h0M627.8 469.5h0M594.6 478.5h0M549.9 486.7h0M603.8 472.6h0M557.7 487.2h0M555.7 468.9h0M579.1 483.1h0M579.2 483.9h0M568.9 492.2h0M566.4 479.0h0M622.5 471.4h0M580.5 474.7h0M583.1 467.3h0M566.4 468.9h0M541.3 486.4h0M550.6 467.5h0M524.7 475.1h0M604.1 475.4h0M637.3 460.3h0M553.9 475.0h0M567.8 491.8h0M598.8 481.1h0M566.9 479.1h0M618.8 460.8h0M556.2 477.7h0M596.1 482.7h0M605.6 469.4h0M547.5 483.5h0M536.3 481.9h0M554.1 489.0h0M565.8 476.6h0M524.8 477.8h0M616.6 474.1h0M615.2 470.8h0M571.4 495.5h0M548.1 489.7h0M568.5 482.1h0M559.1 493.6h0M575.6 491.0h0M551.6 484.7h0M558.4 480.0h0" stroke="#2840e0" stroke-width="2.2"/></g><defs><linearGradient id="cb" x1="0" y1="0" x2="0" y2="1">
<stop offset="0" stop-color="#e8483a"/><stop offset="0.06" stop-color="#ea553a"/><stop offset="0.155" stop-color="#f0874b"/>
<stop offset="0.27" stop-color="#f5be46"/><stop offset="0.33" stop-color="#fcf555"/><stop offset="0.375" stop-color="#e1f05f"/>
<stop offset="0.45" stop-color="#bef069"/><stop offset="0.52" stop-color="#a0ee82"/><stop offset="0.58" stop-color="#87ebb4"/>
<stop offset="0.66" stop-color="#6ee1eb"/><stop offset="0.725" stop-color="#55afeb"/><stop offset="0.795" stop-color="#4b8cf0"/>
<stop offset="0.84" stop-color="#3c6ef5"/><stop offset="0.93" stop-color="#2846f5"/><stop offset="1" stop-color="#2332f0"/>
</linearGradient></defs>
<rect x="682.2" y="107.8" width="27.3" height="231" fill="url(#cb)"/>
<path d="M710.3 107.8V339.6M682.2 339H711.2" stroke="#3a3a3a" stroke-width="1.8" fill="none"/>
<path d="M710.3 143.8H727M710.3 193.6H727M710.3 241.4H727M710.3 291H727" stroke="#3a3a3a" stroke-width="2" fill="none"/><path d="M209.2 523.4L312.2 445.7M586.9 513.4L696.6 445.3" stroke="#333" stroke-width="1" fill="none"/><rect x="192" y="613.5" width="427.5" height="277.3" fill="none" stroke="#1a1a1a" stroke-width="1.1"/><path d="M211.3 890.8v4.2M272.7 890.8v4.2M334.0 890.8v4.2M395.4 890.8v4.2M456.7 890.8v4.2M518.1 890.8v4.2M579.5 890.8v4.2M192 880.8h-4.2M192 828.2h-4.2M192 775.6h-4.2M192 723.0h-4.2M192 670.4h-4.2M192 617.8h-4.2" stroke="#1a1a1a" stroke-width="1.1" fill="none"/><polyline points="238.6,878.2 289.5,872.9 231.9,867.6 230.6,862.4 228.5,857.1 225.4,851.9 222.3,846.6 219.3,841.3 215.3,836.1 213.1,830.8 213.1,825.6 213.1,820.3 213.1,815.0 213.1,809.8 213.1,804.5 213.1,799.3 223.0,794.0 213.8,788.8 213.1,783.5 214.7,778.2 213.8,773.0 222.0,767.7 229.1,762.4 226.6,757.2 220.8,751.9 224.5,746.7 228.5,741.4 234.6,736.1 240.8,730.9 245.0,725.6 247.8,720.4 249.0,715.1 251.5,709.8 246.3,704.6 244.4,699.3 257.0,694.1 277.9,688.8 284.0,683.5 279.4,678.3 302.1,673.0 289.5,667.8 287.7,662.5 304.6,657.2 329.7,652.0 300.6,646.7 261.3,641.5 231.9,636.2 211.6,630.9" fill="none" stroke="#0b24f2" stroke-width="2.1" stroke-linejoin="round"/><g fill="#0b24f2"><circle cx="238.6" cy="878.2" r="4.4"/><circle cx="289.5" cy="872.9" r="4.4"/><circle cx="231.9" cy="867.6" r="4.4"/><circle cx="230.6" cy="862.4" r="4.4"/><circle cx="228.5" cy="857.1" r="4.4"/><circle cx="225.4" cy="851.9" r="4.4"/><circle cx="222.3" cy="846.6" r="4.4"/><circle cx="219.3" cy="841.3" r="4.4"/><circle cx="215.3" cy="836.1" r="4.4"/><circle cx="213.1" cy="830.8" r="4.4"/><circle cx="213.1" cy="825.6" r="4.4"/><circle cx="213.1" cy="820.3" r="4.4"/><circle cx="213.1" cy="815.0" r="4.4"/><circle cx="213.1" cy="809.8" r="4.4"/><circle cx="213.1" cy="804.5" r="4.4"/><circle cx="213.1" cy="799.3" r="4.4"/><circle cx="223.0" cy="794.0" r="4.4"/><circle cx="213.8" cy="788.8" r="4.4"/><circle cx="213.1" cy="783.5" r="4.4"/><circle cx="214.7" cy="778.2" r="4.4"/><circle cx="213.8" cy="773.0" r="4.4"/><circle cx="222.0" cy="767.7" r="4.4"/><circle cx="229.1" cy="762.4" r="4.4"/><circle cx="226.6" cy="757.2" r="4.4"/><circle cx="220.8" cy="751.9" r="4.4"/><circle cx="224.5" cy="746.7" r="4.4"/><circle cx="228.5" cy="741.4" r="4.4"/><circle cx="234.6" cy="736.1" r="4.4"/><circle cx="240.8" cy="730.9" r="4.4"/><circle cx="245.0" cy="725.6" r="4.4"/><circle cx="247.8" cy="720.4" r="4.4"/><circle cx="249.0" cy="715.1" r="4.4"/><circle cx="251.5" cy="709.8" r="4.4"/><circle cx="246.3" cy="704.6" r="4.4"/><circle cx="244.4" cy="699.3" r="4.4"/><circle cx="257.0" cy="694.1" r="4.4"/><circle cx="277.9" cy="688.8" r="4.4"/><circle cx="284.0" cy="683.5" r="4.4"/><circle cx="279.4" cy="678.3" r="4.4"/><circle cx="302.1" cy="673.0" r="4.4"/><circle cx="289.5" cy="667.8" r="4.4"/><circle cx="287.7" cy="662.5" r="4.4"/><circle cx="304.6" cy="657.2" r="4.4"/><circle cx="329.7" cy="652.0" r="4.4"/><circle cx="300.6" cy="646.7" r="4.4"/><circle cx="261.3" cy="641.5" r="4.4"/><circle cx="231.9" cy="636.2" r="4.4"/><circle cx="211.6" cy="630.9" r="4.4"/></g><polyline points="306.1,878.2 599.4,872.9 265.6,867.6 253.6,862.4 259.8,857.1 242.9,851.9 238.0,846.6 226.9,841.3 216.5,836.1 216.8,830.8 216.8,825.6 217.4,820.3 217.4,815.0 217.4,809.8 217.7,804.5 219.3,799.3 218.4,794.0 219.3,788.8 219.9,783.5 222.3,778.2 219.3,773.0 221.4,767.7 224.5,762.4 228.5,757.2 232.2,751.9 227.6,746.7 225.4,741.4 227.6,736.1 226.3,730.9 235.2,725.6 241.7,720.4 241.4,715.1 230.9,709.8 234.0,704.6 226.9,699.3 230.9,694.1 236.2,688.8 230.9,683.5 230.9,678.3 223.9,673.0 223.9,667.8 227.6,662.5 230.6,657.2 230.9,652.0 239.2,646.7 218.7,641.5 214.1,636.2 211.6,630.9 211.3,625.7" fill="none" stroke="#e8321f" stroke-width="2.1" stroke-linejoin="round"/><g fill="#e8321f"><circle cx="306.1" cy="878.2" r="4.4"/><circle cx="599.4" cy="872.9" r="4.4"/><circle cx="265.6" cy="867.6" r="4.4"/><circle cx="253.6" cy="862.4" r="4.4"/><circle cx="259.8" cy="857.1" r="4.4"/><circle cx="242.9" cy="851.9" r="4.4"/><circle cx="238.0" cy="846.6" r="4.4"/><circle cx="226.9" cy="841.3" r="4.4"/><circle cx="216.5" cy="836.1" r="4.4"/><circle cx="216.8" cy="830.8" r="4.4"/><circle cx="216.8" cy="825.6" r="4.4"/><circle cx="217.4" cy="820.3" r="4.4"/><circle cx="217.4" cy="815.0" r="4.4"/><circle cx="217.4" cy="809.8" r="4.4"/><circle cx="217.7" cy="804.5" r="4.4"/><circle cx="219.3" cy="799.3" r="4.4"/><circle cx="218.4" cy="794.0" r="4.4"/><circle cx="219.3" cy="788.8" r="4.4"/><circle cx="219.9" cy="783.5" r="4.4"/><circle cx="222.3" cy="778.2" r="4.4"/><circle cx="219.3" cy="773.0" r="4.4"/><circle cx="221.4" cy="767.7" r="4.4"/><circle cx="224.5" cy="762.4" r="4.4"/><circle cx="228.5" cy="757.2" r="4.4"/><circle cx="232.2" cy="751.9" r="4.4"/><circle cx="227.6" cy="746.7" r="4.4"/><circle cx="225.4" cy="741.4" r="4.4"/><circle cx="227.6" cy="736.1" r="4.4"/><circle cx="226.3" cy="730.9" r="4.4"/><circle cx="235.2" cy="725.6" r="4.4"/><circle cx="241.7" cy="720.4" r="4.4"/><circle cx="241.4" cy="715.1" r="4.4"/><circle cx="230.9" cy="709.8" r="4.4"/><circle cx="234.0" cy="704.6" r="4.4"/><circle cx="226.9" cy="699.3" r="4.4"/><circle cx="230.9" cy="694.1" r="4.4"/><circle cx="236.2" cy="688.8" r="4.4"/><circle cx="230.9" cy="683.5" r="4.4"/><circle cx="230.9" cy="678.3" r="4.4"/><circle cx="223.9" cy="673.0" r="4.4"/><circle cx="223.9" cy="667.8" r="4.4"/><circle cx="227.6" cy="662.5" r="4.4"/><circle cx="230.6" cy="657.2" r="4.4"/><circle cx="230.9" cy="652.0" r="4.4"/><circle cx="239.2" cy="646.7" r="4.4"/><circle cx="218.7" cy="641.5" r="4.4"/><circle cx="214.1" cy="636.2" r="4.4"/><circle cx="211.6" cy="630.9" r="4.4"/><circle cx="211.3" cy="625.7" r="4.4"/></g><rect x="262.5" y="734" width="351" height="37" rx="2.5" fill="#fff" fill-opacity="0.8" stroke="#cfcfcf" stroke-width="1.1"/><path d="M266.5 743.2h24.5" stroke="#0b24f2" stroke-width="2.1"/><circle cx="278.8" cy="743.2" r="4.4" fill="#0b24f2"/><path d="M266.5 759.9h24.5" stroke="#e8321f" stroke-width="2.1"/><circle cx="278.8" cy="759.9" r="4.4" fill="#e8321f"/><text x="211.3" y="910.0" font-size="13.50" text-anchor="middle" letter-spacing="0.00" font-family="Liberation Sans" fill="#1a1a1a" >0</text><text x="272.7" y="910.0" font-size="13.50" text-anchor="middle" letter-spacing="0.00" font-family="Liberation Sans" fill="#1a1a1a" >200</text><text x="334.0" y="910.0" font-size="13.50" text-anchor="middle" letter-spacing="0.00" font-family="Liberation Sans" fill="#1a1a1a" >400</text><text x="395.4" y="910.0" font-size="13.50" text-anchor="middle" letter-spacing="0.00" font-family="Liberation Sans" fill="#1a1a1a" >600</text><text x="456.7" y="910.0" font-size="13.50" text-anchor="middle" letter-spacing="0.00" font-family="Liberation Sans" fill="#1a1a1a" >800</text><text x="518.1" y="910.0" font-size="13.50" text-anchor="middle" letter-spacing="0.00" font-family="Liberation Sans" fill="#1a1a1a" >1000</text><text x="579.5" y="910.0" font-size="13.50" text-anchor="middle" letter-spacing="0.00" font-family="Liberation Sans" fill="#1a1a1a" >1200</text><text x="182.2" y="885.7" font-size="13.50" text-anchor="end" letter-spacing="0.00" font-family="Liberation Sans" fill="#1a1a1a" >0</text><text x="182.2" y="833.1" font-size="13.50" text-anchor="end" letter-spacing="0.00" font-family="Liberation Sans" fill="#1a1a1a" >5</text><text x="182.2" y="780.5" font-size="13.50" text-anchor="end" letter-spacing="0.00" font-family="Liberation Sans" fill="#1a1a1a" >10</text><text x="182.2" y="727.9" font-size="13.50" text-anchor="end" letter-spacing="0.00" font-family="Liberation Sans" fill="#1a1a1a" >15</text><text x="182.2" y="675.3" font-size="13.50" text-anchor="end" letter-spacing="0.00" font-family="Liberation Sans" fill="#1a1a1a" >20</text><text x="182.2" y="622.7" font-size="13.50" text-anchor="end" letter-spacing="0.00" font-family="Liberation Sans" fill="#1a1a1a" >25</text><text x="405.5" y="605.6" font-size="15.60" text-anchor="middle" letter-spacing="0.64" font-family="Liberation Sans" fill="#1a1a1a" >Changes in Pulse Returns Before and After Hurricane Irma SRS-6-50</text><text x="405.5" y="927.6" font-size="13.50" text-anchor="middle" letter-spacing="0.10" font-family="Liberation Sans" fill="#1a1a1a" >Pulse Returns</text><text x="0.0" y="0.0" font-size="13.50" text-anchor="middle" letter-spacing="0.40" font-family="Liberation Sans" fill="#1a1a1a" transform="translate(158.7 752) rotate(-90)">Height (Meters)</text><text x="300.5" y="747.6" font-size="12.30" text-anchor="start" letter-spacing="0.24" font-family="Liberation Sans" fill="#1a1a1a" >Pulse Returns Before Hurricane Irma ( March 2017)</text><text x="300.5" y="763.7" font-size="12.30" text-anchor="start" letter-spacing="0.29" font-family="Liberation Sans" fill="#1a1a1a" >Pulse Returns After Hurricane Irma ( December 2017)</text><text x="0.0" y="0.0" font-size="18.20" text-anchor="start" letter-spacing="0.00" font-family="Liberation Sans" fill="#e0372d" transform="translate(14.6 40.3) scale(0.87 1)" stroke="#e0372d" stroke-width="0.45">(a)</text><text x="0.0" y="0.0" font-size="18.20" text-anchor="start" letter-spacing="0.00" font-family="Liberation Sans" fill="#e0372d" transform="translate(412.8 44.4) scale(0.87 1)" stroke="#e0372d" stroke-width="0.45">(b)</text><text x="0.0" y="0.0" font-size="18.20" text-anchor="start" letter-spacing="0.00" font-family="Liberation Sans" fill="#e0372d" transform="translate(78.8 607.8) scale(0.87 1)" stroke="#e0372d" stroke-width="0.45">(c)</text><text x="740.0" y="154.4" font-size="25.30" text-anchor="start" letter-spacing="0.00" font-family="Liberation Sans" fill="#444" >20</text><text x="740.0" y="204.2" font-size="25.30" text-anchor="start" letter-spacing="0.00" font-family="Liberation Sans" fill="#444" >15</text><text x="740.0" y="252.0" font-size="25.30" text-anchor="start" letter-spacing="0.00" font-family="Liberation Sans" fill="#444" >10</text><text x="740.0" y="301.6" font-size="25.30" text-anchor="start" letter-spacing="0.00" font-family="Liberation Sans" fill="#444" >5</text><text x="668.8" y="97.0" font-size="19.00" text-anchor="start" letter-spacing="0.00" font-family="Liberation Serif" fill="#111" stroke="#111" stroke-width="0.35">Meters</text><text x="0.0" y="0.0" font-size="19.00" text-anchor="middle" letter-spacing="0.00" font-family="Liberation Serif" fill="#111" transform="translate(279 507.8) rotate(-37)" stroke="#111" stroke-width="0.35">10 Meters</text><text x="0.0" y="0.0" font-size="18.60" text-anchor="middle" letter-spacing="0.00" font-family="Liberation Serif" fill="#111" transform="translate(661.3 500.6) rotate(-31.8)" stroke="#111" stroke-width="0.35">10 Meters</text></svg></body></html>
